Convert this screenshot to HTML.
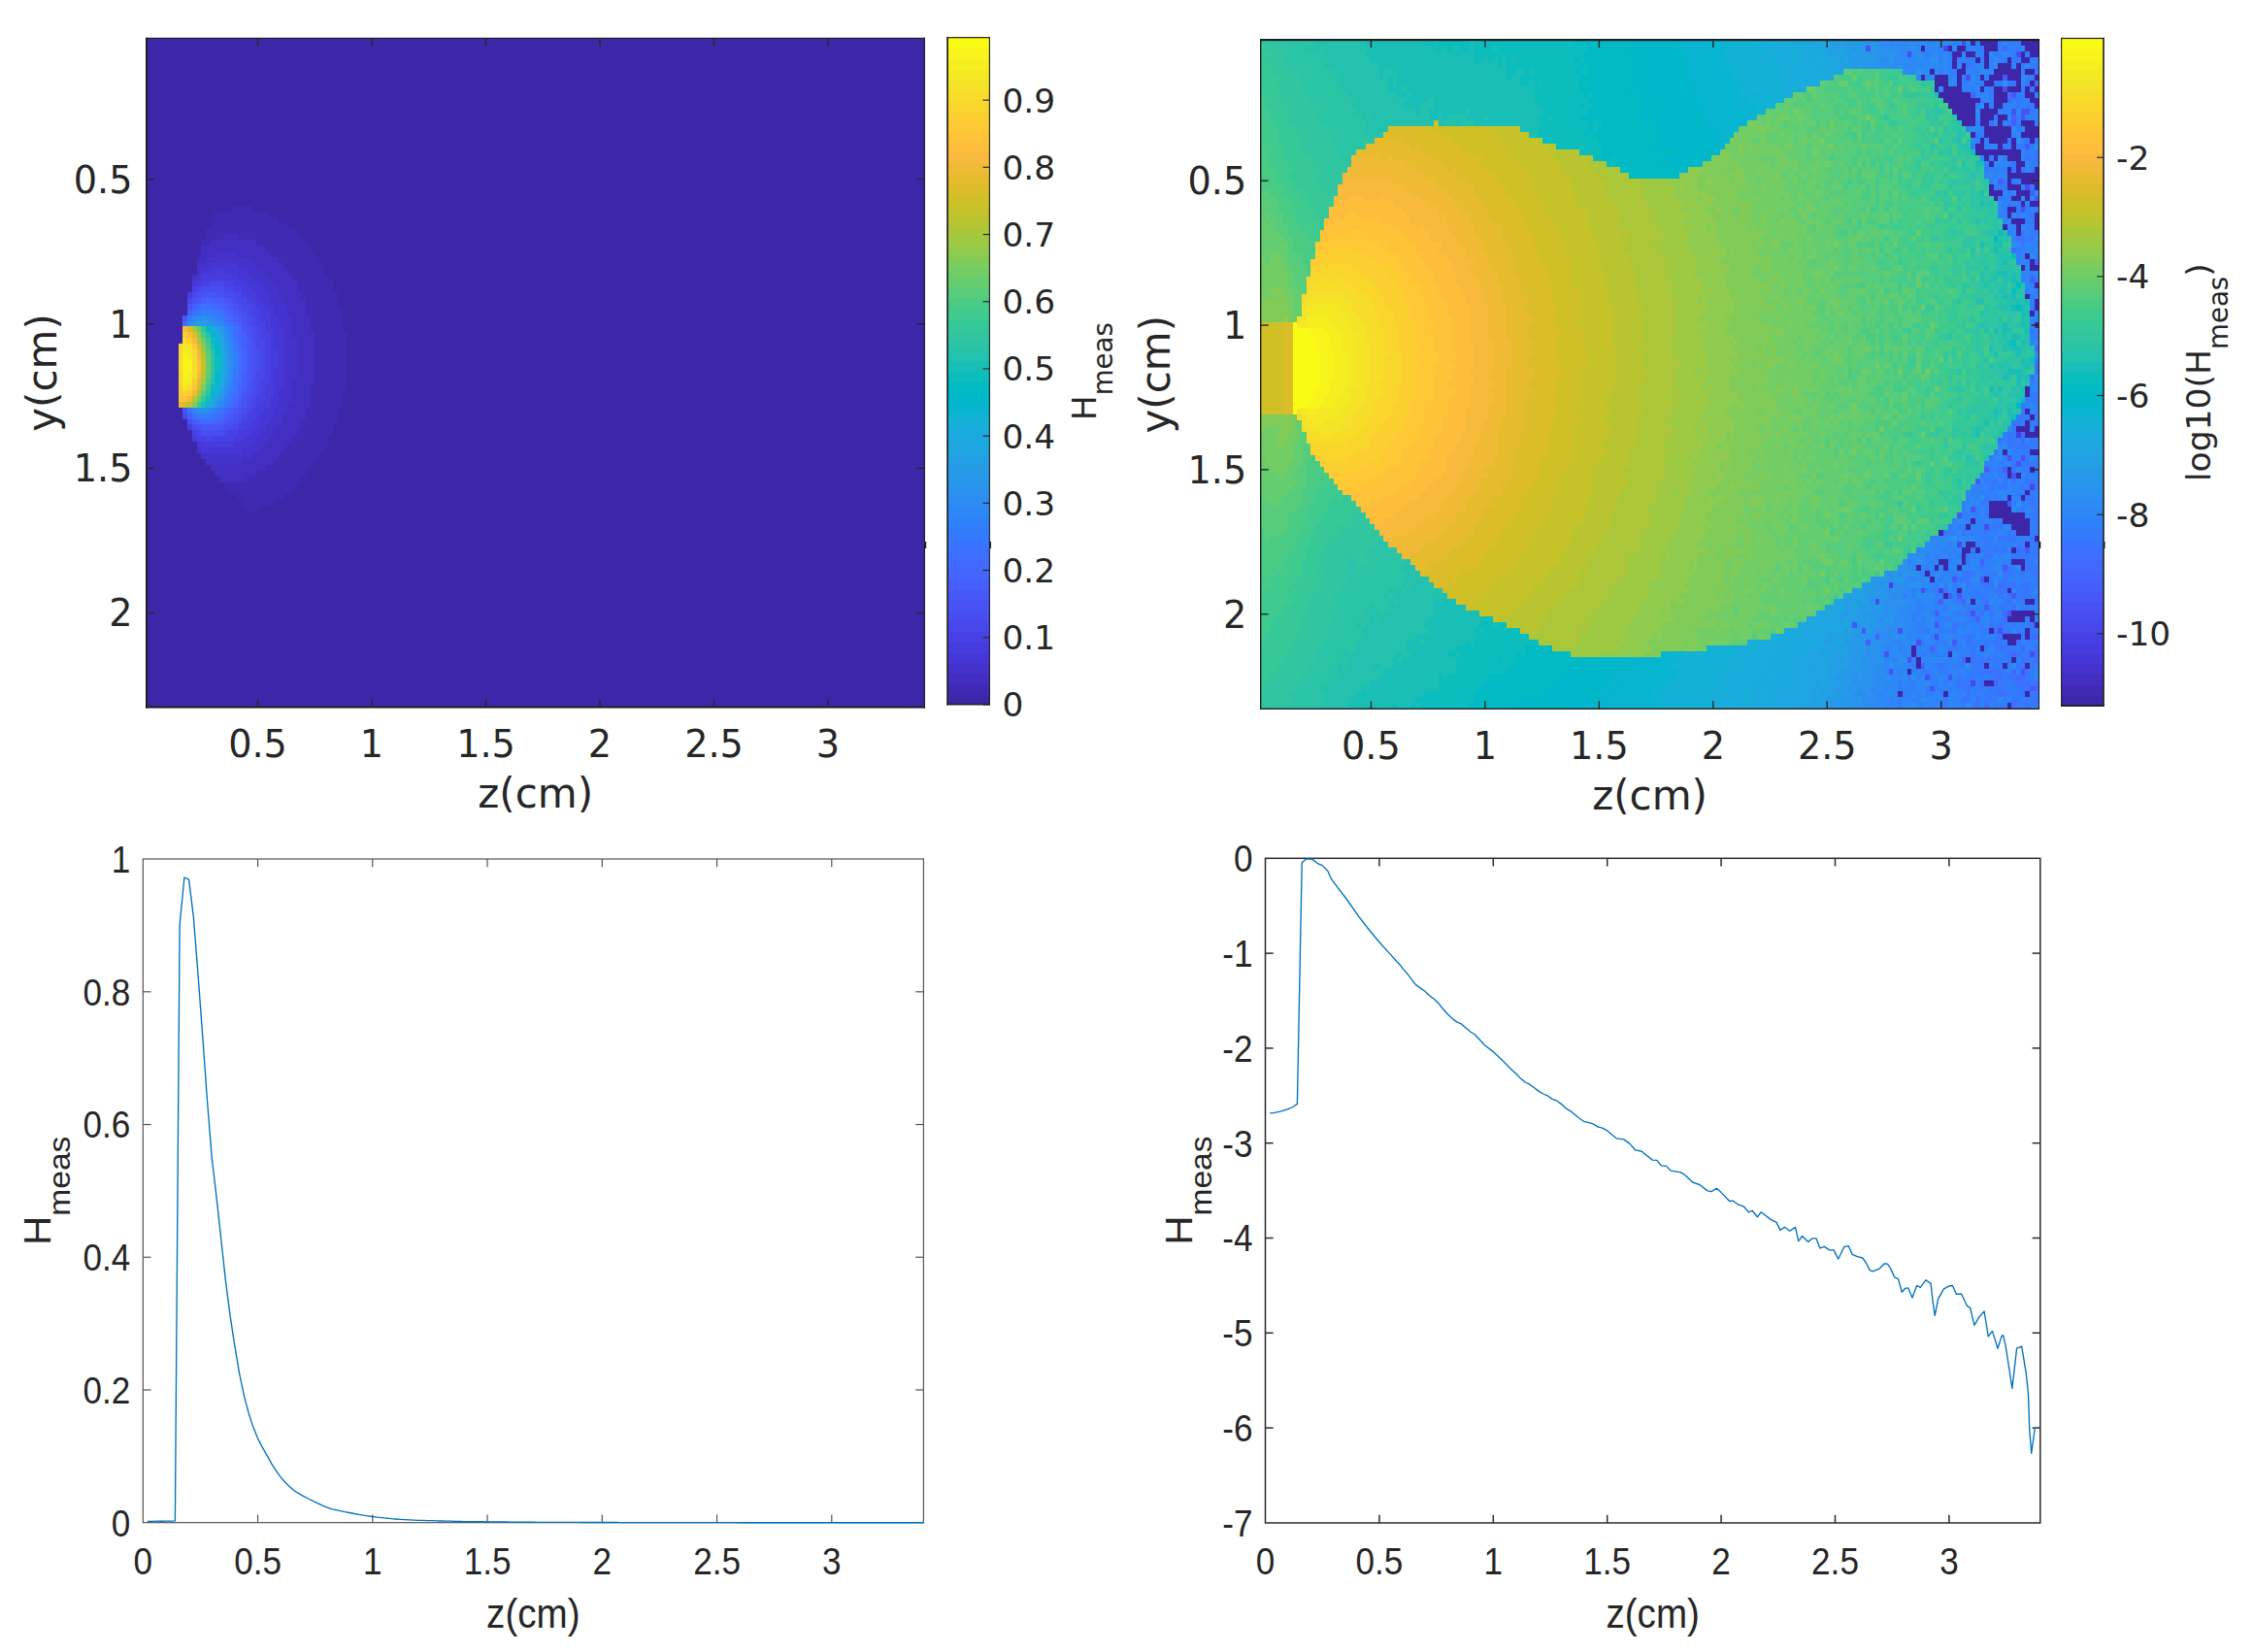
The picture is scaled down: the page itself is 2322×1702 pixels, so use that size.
<!DOCTYPE html><html><head><meta charset="utf-8"><title>H_meas</title><style>html,body{margin:0;padding:0;background:#fff}svg{display:block}</style></head><body>
<svg width="2322" height="1702" viewBox="0 0 2322 1702" fill="#262626">
<rect width="2322" height="1702" fill="#fff"/>
<svg x="151.00" y="39.40" width="801.40" height="689.20" viewBox="0 0 171 116" preserveAspectRatio="none" shape-rendering="crispEdges"><rect width="171" height="116" fill="#3e26a8"/><path fill="#402ab4" d="M19 29h4v1h-4zM15 30h12v1h-12zM14 31h15v1h-15zM14 32h17v1h-17zM13 33h20v1h-20zM13 34h4v1h-4zM20 34h14v1h-14zM12 35h2v1h-2zM24 35h11v1h-11zM26 36h10v1h-10zM27 37h10v1h-10zM29 38h9v1h-9zM30 39h9v1h-9zM31 40h8v1h-8zM32 41h8v1h-8zM33 42h8v1h-8zM33 43h8v1h-8zM34 44h8v1h-8zM35 45h7v1h-7zM35 46h7v1h-7zM35 47h8v1h-8zM36 48h7v1h-7zM36 49h7v1h-7zM36 50h7v1h-7zM37 51h7v1h-7zM37 52h7v1h-7zM37 53h7v1h-7zM37 54h7v1h-7zM37 55h7v1h-7zM37 56h7v1h-7zM37 57h7v1h-7zM37 58h7v1h-7zM37 59h7v1h-7zM36 60h8v1h-8zM36 61h7v1h-7zM36 62h7v1h-7zM36 63h7v1h-7zM35 64h7v1h-7zM35 65h7v1h-7zM34 66h8v1h-8zM34 67h7v1h-7zM33 68h8v1h-8zM32 69h8v1h-8zM31 70h9v1h-9zM30 71h9v1h-9zM29 72h9v1h-9zM28 73h9v1h-9zM26 74h10v1h-10zM24 75h11v1h-11zM22 76h12v1h-12zM17 77h16v1h-16zM18 78h14v1h-14zM20 79h10v1h-10zM21 80h7v1h-7zM22 81h3v1h-3z"/><path fill="#422ec0" d="M17 34h3v1h-3zM14 35h10v1h-10zM12 36h14v1h-14zM12 37h3v1h-3zM20 37h7v1h-7zM11 38h2v1h-2zM23 38h6v1h-6zM24 39h6v1h-6zM26 40h5v1h-5zM27 41h5v1h-5zM28 42h5v1h-5zM29 43h4v1h-4zM29 44h5v1h-5zM30 45h5v1h-5zM31 46h4v1h-4zM31 47h4v1h-4zM32 48h4v1h-4zM32 49h4v1h-4zM32 50h4v1h-4zM32 51h5v1h-5zM33 52h4v1h-4zM33 53h4v1h-4zM33 54h4v1h-4zM33 55h4v1h-4zM33 56h4v1h-4zM33 57h4v1h-4zM33 58h4v1h-4zM32 59h5v1h-5zM32 60h4v1h-4zM32 61h4v1h-4zM32 62h4v1h-4zM31 63h5v1h-5zM31 64h4v1h-4zM30 65h5v1h-5zM30 66h4v1h-4zM29 67h5v1h-5zM28 68h5v1h-5zM27 69h5v1h-5zM26 70h5v1h-5zM25 71h5v1h-5zM23 72h6v1h-6zM21 73h7v1h-7zM14 74h12v1h-12zM15 75h9v1h-9zM16 76h6v1h-6z"/><path fill="#4332cb" d="M15 37h5v1h-5zM13 38h10v1h-10zM11 39h3v1h-3zM20 39h4v1h-4zM11 40h1v1h-1zM22 40h4v1h-4zM10 41h1v1h-1zM23 41h4v1h-4zM25 42h3v1h-3zM26 43h3v1h-3zM27 44h2v1h-2zM27 45h3v1h-3zM28 46h3v1h-3zM28 47h3v1h-3zM29 48h3v1h-3zM29 49h3v1h-3zM30 50h2v1h-2zM30 51h2v1h-2zM30 52h3v1h-3zM30 53h3v1h-3zM30 54h3v1h-3zM30 55h3v1h-3zM30 56h3v1h-3zM30 57h3v1h-3zM30 58h3v1h-3zM30 59h2v1h-2zM30 60h2v1h-2zM29 61h3v1h-3zM29 62h3v1h-3zM29 63h2v1h-2zM28 64h3v1h-3zM28 65h2v1h-2zM27 66h3v1h-3zM26 67h3v1h-3zM25 68h3v1h-3zM24 69h3v1h-3zM23 70h3v1h-3zM11 71h1v1h-1zM21 71h4v1h-4zM12 72h11v1h-11zM13 73h8v1h-8z"/><path fill="#4537d5" d="M14 39h6v1h-6zM12 40h3v1h-3zM17 40h5v1h-5zM11 41h1v1h-1zM20 41h3v1h-3zM10 42h1v1h-1zM22 42h3v1h-3zM23 43h3v1h-3zM24 44h3v1h-3zM25 45h2v1h-2zM26 46h2v1h-2zM27 47h1v1h-1zM27 48h2v1h-2zM27 49h2v1h-2zM28 50h2v1h-2zM28 51h2v1h-2zM28 52h2v1h-2zM28 53h2v1h-2zM29 54h1v1h-1zM29 55h1v1h-1zM29 56h1v1h-1zM28 57h2v1h-2zM28 58h2v1h-2zM28 59h2v1h-2zM28 60h2v1h-2zM28 61h1v1h-1zM27 62h2v1h-2zM27 63h2v1h-2zM26 64h2v1h-2zM25 65h3v1h-3zM25 66h2v1h-2zM24 67h2v1h-2zM23 68h2v1h-2zM21 69h3v1h-3zM11 70h1v1h-1zM19 70h4v1h-4zM12 71h9v1h-9z"/><path fill="#463cde" d="M15 40h2v1h-2zM12 41h8v1h-8zM11 42h1v1h-1zM19 42h3v1h-3zM21 43h2v1h-2zM9 44h1v1h-1zM22 44h2v1h-2zM23 45h2v1h-2zM24 46h2v1h-2zM25 47h2v1h-2zM25 48h2v1h-2zM26 49h1v1h-1zM26 50h2v1h-2zM27 51h1v1h-1zM27 52h1v1h-1zM27 53h1v1h-1zM27 54h2v1h-2zM27 55h2v1h-2zM27 56h2v1h-2zM27 57h1v1h-1zM27 58h1v1h-1zM27 59h1v1h-1zM26 60h2v1h-2zM26 61h2v1h-2zM26 62h1v1h-1zM25 63h2v1h-2zM24 64h2v1h-2zM24 65h1v1h-1zM23 66h2v1h-2zM22 67h2v1h-2zM20 68h3v1h-3zM10 69h1v1h-1zM19 69h2v1h-2zM12 70h7v1h-7z"/><path fill="#4741e5" d="M12 42h2v1h-2zM17 42h2v1h-2zM10 43h1v1h-1zM19 43h2v1h-2zM21 44h1v1h-1zM22 45h1v1h-1zM23 46h1v1h-1zM23 47h2v1h-2zM24 48h1v1h-1zM24 49h2v1h-2zM25 50h1v1h-1zM25 51h2v1h-2zM26 52h1v1h-1zM26 53h1v1h-1zM26 54h1v1h-1zM26 55h1v1h-1zM26 56h1v1h-1zM26 57h1v1h-1zM26 58h1v1h-1zM25 59h2v1h-2zM25 60h1v1h-1zM25 61h1v1h-1zM24 62h2v1h-2zM24 63h1v1h-1zM23 64h1v1h-1zM22 65h2v1h-2zM21 66h2v1h-2zM9 67h1v1h-1zM20 67h2v1h-2zM10 68h1v1h-1zM18 68h2v1h-2zM11 69h2v1h-2zM14 69h5v1h-5z"/><path fill="#4747eb" d="M14 42h3v1h-3zM11 43h1v1h-1zM17 43h2v1h-2zM10 44h1v1h-1zM19 44h2v1h-2zM9 45h1v1h-1zM20 45h2v1h-2zM21 46h2v1h-2zM22 47h1v1h-1zM23 48h1v1h-1zM23 49h1v1h-1zM24 50h1v1h-1zM24 51h1v1h-1zM24 52h2v1h-2zM24 53h2v1h-2zM25 54h1v1h-1zM25 55h1v1h-1zM25 56h1v1h-1zM25 57h1v1h-1zM24 58h2v1h-2zM24 59h1v1h-1zM24 60h1v1h-1zM24 61h1v1h-1zM23 62h1v1h-1zM23 63h1v1h-1zM22 64h1v1h-1zM8 65h1v1h-1zM21 65h1v1h-1zM20 66h1v1h-1zM19 67h1v1h-1zM11 68h1v1h-1zM17 68h1v1h-1zM13 69h1v1h-1z"/><path fill="#484df0" d="M12 43h5v1h-5zM11 44h1v1h-1zM17 44h2v1h-2zM19 45h1v1h-1zM20 46h1v1h-1zM21 47h1v1h-1zM22 48h1v1h-1zM22 49h1v1h-1zM23 50h1v1h-1zM23 51h1v1h-1zM23 52h1v1h-1zM24 54h1v1h-1zM24 55h1v1h-1zM24 56h1v1h-1zM24 57h1v1h-1zM23 59h1v1h-1zM23 60h1v1h-1zM23 61h1v1h-1zM22 62h1v1h-1zM22 63h1v1h-1zM21 64h1v1h-1zM20 65h1v1h-1zM9 66h1v1h-1zM19 66h1v1h-1zM10 67h1v1h-1zM17 67h2v1h-2zM12 68h5v1h-5z"/><path fill="#4852f4" d="M12 44h1v1h-1zM15 44h2v1h-2zM10 45h1v1h-1zM18 45h1v1h-1zM9 46h1v1h-1zM19 46h1v1h-1zM20 47h1v1h-1zM21 48h1v1h-1zM21 49h1v1h-1zM22 50h1v1h-1zM22 51h1v1h-1zM23 53h1v1h-1zM23 54h1v1h-1zM23 55h1v1h-1zM23 56h1v1h-1zM23 57h1v1h-1zM23 58h1v1h-1zM22 60h1v1h-1zM22 61h1v1h-1zM21 62h1v1h-1zM21 63h1v1h-1zM20 64h1v1h-1zM19 65h1v1h-1zM18 66h1v1h-1zM11 67h1v1h-1zM16 67h1v1h-1z"/><path fill="#4758f8" d="M13 44h2v1h-2zM11 45h1v1h-1zM17 45h1v1h-1zM18 46h1v1h-1zM19 47h1v1h-1zM8 48h1v1h-1zM20 48h1v1h-1zM21 50h1v1h-1zM22 52h1v1h-1zM22 53h1v1h-1zM22 54h1v1h-1zM22 55h1v1h-1zM22 56h1v1h-1zM22 57h1v1h-1zM22 58h1v1h-1zM22 59h1v1h-1zM21 61h1v1h-1zM20 63h1v1h-1zM8 64h1v1h-1zM19 64h1v1h-1zM18 65h1v1h-1zM17 66h1v1h-1zM12 67h4v1h-4z"/><path fill="#465efb" d="M12 45h1v1h-1zM14 45h3v1h-3zM10 46h1v1h-1zM17 46h1v1h-1zM9 47h1v1h-1zM18 47h1v1h-1zM19 48h1v1h-1zM20 49h1v1h-1zM21 51h1v1h-1zM21 52h1v1h-1zM21 53h1v1h-1zM21 58h1v1h-1zM21 59h1v1h-1zM21 60h1v1h-1zM20 62h1v1h-1zM18 64h1v1h-1zM9 65h1v1h-1zM17 65h1v1h-1zM10 66h1v1h-1zM16 66h1v1h-1z"/><path fill="#4563fd" d="M13 45h1v1h-1zM16 46h1v1h-1zM19 49h1v1h-1zM20 50h1v1h-1zM20 51h1v1h-1zM21 54h1v1h-1zM21 55h1v1h-1zM21 56h1v1h-1zM21 57h1v1h-1zM20 60h1v1h-1zM20 61h1v1h-1zM19 63h1v1h-1zM11 66h1v1h-1zM14 66h2v1h-2z"/><path fill="#4269fe" d="M11 46h1v1h-1zM14 46h2v1h-2zM17 47h1v1h-1zM18 48h1v1h-1zM8 49h1v1h-1zM20 52h1v1h-1zM20 53h1v1h-1zM20 59h1v1h-1zM19 62h1v1h-1zM17 64h1v1h-1zM16 65h1v1h-1zM12 66h2v1h-2z"/><path fill="#3e6fff" d="M12 46h2v1h-2zM10 47h1v1h-1zM16 47h1v1h-1zM17 48h1v1h-1zM18 49h1v1h-1zM19 50h1v1h-1zM19 51h1v1h-1zM20 54h1v1h-1zM20 55h1v1h-1zM20 56h1v1h-1zM20 57h1v1h-1zM20 58h1v1h-1zM19 61h1v1h-1zM18 63h1v1h-1zM10 65h1v1h-1zM15 65h1v1h-1z"/><path fill="#3875fe" d="M15 47h1v1h-1zM9 48h1v1h-1zM19 52h1v1h-1zM19 59h1v1h-1zM19 60h1v1h-1zM18 62h1v1h-1zM9 64h1v1h-1zM16 64h1v1h-1zM14 65h1v1h-1z"/><path fill="#327cfc" d="M11 47h1v1h-1zM13 47h2v1h-2zM16 48h1v1h-1zM17 49h1v1h-1zM18 50h1v1h-1zM19 53h1v1h-1zM19 54h1v1h-1zM19 57h1v1h-1zM19 58h1v1h-1zM18 61h1v1h-1zM17 63h1v1h-1zM15 64h1v1h-1zM11 65h3v1h-3z"/><path fill="#2f81fa" d="M12 47h1v1h-1zM15 48h1v1h-1zM18 51h1v1h-1zM19 55h1v1h-1zM19 56h1v1h-1zM18 60h1v1h-1zM17 62h1v1h-1zM14 64h1v1h-1z"/><path fill="#2e87f7" d="M10 48h1v1h-1zM14 48h1v1h-1zM16 49h1v1h-1zM17 50h1v1h-1zM18 52h1v1h-1zM18 53h1v1h-1zM18 59h1v1h-1zM16 63h1v1h-1zM10 64h1v1h-1z"/><path fill="#2d8cf3" d="M11 48h1v1h-1zM13 48h1v1h-1zM9 49h1v1h-1zM15 49h1v1h-1zM17 51h1v1h-1zM18 54h1v1h-1zM18 55h1v1h-1zM18 57h1v1h-1zM18 58h1v1h-1zM17 61h1v1h-1zM13 64h1v1h-1z"/><path fill="#2b91ef" d="M12 48h1v1h-1zM14 49h1v1h-1zM18 56h1v1h-1zM17 60h1v1h-1zM16 62h1v1h-1zM11 64h2v1h-2z"/><path fill="#2797eb" d="M16 50h1v1h-1zM17 52h1v1h-1zM17 59h1v1h-1zM15 63h1v1h-1z"/><path fill="#259be8" d="M10 49h1v1h-1zM13 49h1v1h-1zM17 53h1v1h-1zM17 54h1v1h-1zM17 58h1v1h-1zM16 61h1v1h-1z"/><path fill="#23a0e5" d="M11 49h2v1h-2zM16 51h1v1h-1zM17 55h1v1h-1zM17 56h1v1h-1zM17 57h1v1h-1zM15 62h1v1h-1z"/><path fill="#20a5e3" d="M15 50h1v1h-1zM16 52h1v1h-1zM16 60h1v1h-1zM14 63h1v1h-1z"/><path fill="#1ca9df" d="M16 53h1v1h-1zM16 59h1v1h-1z"/><path fill="#18addb" d="M14 50h1v1h-1zM15 51h1v1h-1zM16 54h1v1h-1zM16 58h1v1h-1zM15 61h1v1h-1zM14 62h1v1h-1z"/><path fill="#12b1d6" d="M16 55h1v1h-1zM16 56h1v1h-1zM16 57h1v1h-1zM15 60h1v1h-1zM13 63h1v1h-1z"/><path fill="#08b5d0" d="M15 52h1v1h-1z"/><path fill="#01b8ca" d="M14 51h1v1h-1zM15 53h1v1h-1zM15 59h1v1h-1zM14 61h1v1h-1z"/><path fill="#02bac3" d="M13 50h1v1h-1zM15 54h1v1h-1zM15 58h1v1h-1z"/><path fill="#0bbdbd" d="M14 52h1v1h-1zM15 55h1v1h-1zM15 56h1v1h-1zM15 57h1v1h-1zM14 60h1v1h-1zM13 62h1v1h-1z"/><path fill="#19bfb6" d="M14 53h1v1h-1zM12 63h1v1h-1z"/><path fill="#24c1ae" d="M13 51h1v1h-1zM14 59h1v1h-1z"/><path fill="#2cc4a7" d="M14 54h1v1h-1zM14 58h1v1h-1zM13 61h1v1h-1z"/><path fill="#31c69f" d="M12 50h1v1h-1zM14 55h1v1h-1zM14 56h1v1h-1zM14 57h1v1h-1z"/><path fill="#37c897" d="M13 52h1v1h-1zM13 60h1v1h-1zM12 62h1v1h-1zM11 63h1v1h-1z"/><path fill="#4acb84" d="M12 51h1v1h-1zM13 53h1v1h-1zM13 59h1v1h-1z"/><path fill="#57cc7a" d="M13 54h1v1h-1zM12 61h1v1h-1z"/><path fill="#64cd6f" d="M11 50h1v1h-1zM13 55h1v1h-1zM13 56h1v1h-1zM13 57h1v1h-1zM13 58h1v1h-1z"/><path fill="#72cd64" d="M12 52h1v1h-1zM11 62h1v1h-1z"/><path fill="#81cc59" d="M12 60h1v1h-1zM10 63h1v1h-1z"/><path fill="#8fcb4e" d="M11 51h1v1h-1zM12 53h1v1h-1z"/><path fill="#9dc943" d="M12 59h1v1h-1z"/><path fill="#abc739" d="M10 50h1v1h-1zM12 54h1v1h-1zM11 61h1v1h-1z"/><path fill="#b9c431" d="M11 52h1v1h-1zM12 55h1v1h-1zM12 58h1v1h-1zM10 62h1v1h-1zM9 63h1v1h-1z"/><path fill="#c5c22a" d="M12 56h1v1h-1zM12 57h1v1h-1z"/><path fill="#d1bf27" d="M11 60h1v1h-1z"/><path fill="#dcbd29" d="M9 50h1v1h-1zM10 51h1v1h-1zM11 53h1v1h-1zM8 63h1v1h-1z"/><path fill="#e6bb2d" d="M11 59h1v1h-1zM7 63h1v1h-1z"/><path fill="#f0ba36" d="M11 54h1v1h-1zM10 61h1v1h-1zM9 62h1v1h-1z"/><path fill="#f8ba3d" d="M8 50h1v1h-1zM10 52h1v1h-1zM11 55h1v1h-1zM11 58h1v1h-1z"/><path fill="#febe3c" d="M9 51h1v1h-1zM11 56h1v1h-1zM11 57h1v1h-1z"/><path fill="#fec338" d="M10 60h1v1h-1zM7 62h2v1h-2z"/><path fill="#fec934" d="M10 53h1v1h-1zM7 61h1v1h-1zM9 61h1v1h-1z"/><path fill="#fccf30" d="M8 51h1v1h-1zM9 52h1v1h-1zM10 59h1v1h-1zM7 60h1v1h-1z"/><path fill="#fad62d" d="M7 53h1v1h-1zM7 54h1v1h-1zM10 54h1v1h-1zM7 55h1v1h-1zM7 58h1v1h-1zM7 59h1v1h-1zM8 61h1v1h-1z"/><path fill="#f7dc2a" d="M8 52h1v1h-1zM10 55h1v1h-1zM7 56h1v1h-1zM10 56h1v1h-1zM7 57h1v1h-1zM10 57h1v1h-1zM10 58h1v1h-1zM9 60h1v1h-1z"/><path fill="#f5e327" d="M9 53h1v1h-1z"/><path fill="#f5e924" d="M8 53h1v1h-1zM9 54h1v1h-1zM9 59h1v1h-1zM8 60h1v1h-1z"/><path fill="#f6ef20" d="M8 54h1v1h-1zM9 55h1v1h-1zM9 58h1v1h-1zM8 59h1v1h-1z"/><path fill="#f7f51b" d="M8 55h1v1h-1zM8 56h2v1h-2zM8 57h2v1h-2zM8 58h1v1h-1z"/></svg>
<rect x="150.00" y="38.80" width="2.00" height="690.80" fill="#1f1f1f"/><rect x="951.80" y="38.80" width="1.20" height="690.80" fill="#1f1f1f"/><rect x="150.00" y="38.80" width="803.00" height="1.20" fill="#1f1f1f"/><rect x="150.00" y="727.60" width="803.00" height="2.00" fill="#1f1f1f"/>
<line x1="265.50" y1="728.60" x2="265.50" y2="720.60" stroke="#262626" stroke-width="1.40"/>
<line x1="265.50" y1="39.40" x2="265.50" y2="47.40" stroke="#262626" stroke-width="1.40"/>
<text x="265.50" y="780.10" font-size="38.20" text-anchor="middle" font-family="'DejaVu Sans', 'Liberation Sans', sans-serif">0.5</text>
<line x1="383.00" y1="728.60" x2="383.00" y2="720.60" stroke="#262626" stroke-width="1.40"/>
<line x1="383.00" y1="39.40" x2="383.00" y2="47.40" stroke="#262626" stroke-width="1.40"/>
<text x="383.00" y="780.10" font-size="38.20" text-anchor="middle" font-family="'DejaVu Sans', 'Liberation Sans', sans-serif">1</text>
<line x1="500.50" y1="728.60" x2="500.50" y2="720.60" stroke="#262626" stroke-width="1.40"/>
<line x1="500.50" y1="39.40" x2="500.50" y2="47.40" stroke="#262626" stroke-width="1.40"/>
<text x="500.50" y="780.10" font-size="38.20" text-anchor="middle" font-family="'DejaVu Sans', 'Liberation Sans', sans-serif">1.5</text>
<line x1="618.00" y1="728.60" x2="618.00" y2="720.60" stroke="#262626" stroke-width="1.40"/>
<line x1="618.00" y1="39.40" x2="618.00" y2="47.40" stroke="#262626" stroke-width="1.40"/>
<text x="618.00" y="780.10" font-size="38.20" text-anchor="middle" font-family="'DejaVu Sans', 'Liberation Sans', sans-serif">2</text>
<line x1="735.50" y1="728.60" x2="735.50" y2="720.60" stroke="#262626" stroke-width="1.40"/>
<line x1="735.50" y1="39.40" x2="735.50" y2="47.40" stroke="#262626" stroke-width="1.40"/>
<text x="735.50" y="780.10" font-size="38.20" text-anchor="middle" font-family="'DejaVu Sans', 'Liberation Sans', sans-serif">2.5</text>
<line x1="853.00" y1="728.60" x2="853.00" y2="720.60" stroke="#262626" stroke-width="1.40"/>
<line x1="853.00" y1="39.40" x2="853.00" y2="47.40" stroke="#262626" stroke-width="1.40"/>
<text x="853.00" y="780.10" font-size="38.20" text-anchor="middle" font-family="'DejaVu Sans', 'Liberation Sans', sans-serif">3</text>
<line x1="151.00" y1="184.80" x2="159.00" y2="184.80" stroke="#262626" stroke-width="1.40"/>
<line x1="952.40" y1="184.80" x2="944.40" y2="184.80" stroke="#262626" stroke-width="1.40"/>
<text x="136.50" y="198.70" font-size="38.20" text-anchor="end" font-family="'DejaVu Sans', 'Liberation Sans', sans-serif">0.5</text>
<line x1="151.00" y1="333.67" x2="159.00" y2="333.67" stroke="#262626" stroke-width="1.40"/>
<line x1="952.40" y1="333.67" x2="944.40" y2="333.67" stroke="#262626" stroke-width="1.40"/>
<text x="136.50" y="347.57" font-size="38.20" text-anchor="end" font-family="'DejaVu Sans', 'Liberation Sans', sans-serif">1</text>
<line x1="151.00" y1="482.54" x2="159.00" y2="482.54" stroke="#262626" stroke-width="1.40"/>
<line x1="952.40" y1="482.54" x2="944.40" y2="482.54" stroke="#262626" stroke-width="1.40"/>
<text x="136.50" y="496.44" font-size="38.20" text-anchor="end" font-family="'DejaVu Sans', 'Liberation Sans', sans-serif">1.5</text>
<line x1="151.00" y1="631.41" x2="159.00" y2="631.41" stroke="#262626" stroke-width="1.40"/>
<line x1="952.40" y1="631.41" x2="944.40" y2="631.41" stroke="#262626" stroke-width="1.40"/>
<text x="136.50" y="645.31" font-size="38.20" text-anchor="end" font-family="'DejaVu Sans', 'Liberation Sans', sans-serif">2</text>
<text x="551.70" y="832.00" font-size="42.00" text-anchor="middle" font-family="'DejaVu Sans', 'Liberation Sans', sans-serif">z(cm)</text>
<text x="0.00" y="0.00" font-size="42.00" text-anchor="middle" font-family="'DejaVu Sans', 'Liberation Sans', sans-serif" transform="translate(57.80 384.00) rotate(-90)">y(cm)</text>
<g shape-rendering="crispEdges"><rect x="976.10" y="714.97" width="43.30" height="11.33" fill="#3e26a8"/><rect x="976.10" y="704.23" width="43.30" height="11.33" fill="#402ab4"/><rect x="976.10" y="693.50" width="43.30" height="11.33" fill="#422ec0"/><rect x="976.10" y="682.76" width="43.30" height="11.33" fill="#4332cb"/><rect x="976.10" y="672.03" width="43.30" height="11.33" fill="#4537d5"/><rect x="976.10" y="661.29" width="43.30" height="11.33" fill="#463cde"/><rect x="976.10" y="650.56" width="43.30" height="11.33" fill="#4741e5"/><rect x="976.10" y="639.83" width="43.30" height="11.33" fill="#4747eb"/><rect x="976.10" y="629.09" width="43.30" height="11.33" fill="#484df0"/><rect x="976.10" y="618.36" width="43.30" height="11.33" fill="#4852f4"/><rect x="976.10" y="607.62" width="43.30" height="11.33" fill="#4758f8"/><rect x="976.10" y="596.89" width="43.30" height="11.33" fill="#465efb"/><rect x="976.10" y="586.15" width="43.30" height="11.33" fill="#4563fd"/><rect x="976.10" y="575.42" width="43.30" height="11.33" fill="#4269fe"/><rect x="976.10" y="564.68" width="43.30" height="11.33" fill="#3e6fff"/><rect x="976.10" y="553.95" width="43.30" height="11.33" fill="#3875fe"/><rect x="976.10" y="543.22" width="43.30" height="11.33" fill="#327cfc"/><rect x="976.10" y="532.48" width="43.30" height="11.33" fill="#2f81fa"/><rect x="976.10" y="521.75" width="43.30" height="11.33" fill="#2e87f7"/><rect x="976.10" y="511.01" width="43.30" height="11.33" fill="#2d8cf3"/><rect x="976.10" y="500.28" width="43.30" height="11.33" fill="#2b91ef"/><rect x="976.10" y="489.54" width="43.30" height="11.33" fill="#2797eb"/><rect x="976.10" y="478.81" width="43.30" height="11.33" fill="#259be8"/><rect x="976.10" y="468.08" width="43.30" height="11.33" fill="#23a0e5"/><rect x="976.10" y="457.34" width="43.30" height="11.33" fill="#20a5e3"/><rect x="976.10" y="446.61" width="43.30" height="11.33" fill="#1ca9df"/><rect x="976.10" y="435.87" width="43.30" height="11.33" fill="#18addb"/><rect x="976.10" y="425.14" width="43.30" height="11.33" fill="#12b1d6"/><rect x="976.10" y="414.40" width="43.30" height="11.33" fill="#08b5d0"/><rect x="976.10" y="403.67" width="43.30" height="11.33" fill="#01b8ca"/><rect x="976.10" y="392.93" width="43.30" height="11.33" fill="#02bac3"/><rect x="976.10" y="382.20" width="43.30" height="11.33" fill="#0bbdbd"/><rect x="976.10" y="371.47" width="43.30" height="11.33" fill="#19bfb6"/><rect x="976.10" y="360.73" width="43.30" height="11.33" fill="#24c1ae"/><rect x="976.10" y="350.00" width="43.30" height="11.33" fill="#2cc4a7"/><rect x="976.10" y="339.26" width="43.30" height="11.33" fill="#31c69f"/><rect x="976.10" y="328.53" width="43.30" height="11.33" fill="#37c897"/><rect x="976.10" y="317.79" width="43.30" height="11.33" fill="#3fca8e"/><rect x="976.10" y="307.06" width="43.30" height="11.33" fill="#4acb84"/><rect x="976.10" y="296.33" width="43.30" height="11.33" fill="#57cc7a"/><rect x="976.10" y="285.59" width="43.30" height="11.33" fill="#64cd6f"/><rect x="976.10" y="274.86" width="43.30" height="11.33" fill="#72cd64"/><rect x="976.10" y="264.12" width="43.30" height="11.33" fill="#81cc59"/><rect x="976.10" y="253.39" width="43.30" height="11.33" fill="#8fcb4e"/><rect x="976.10" y="242.65" width="43.30" height="11.33" fill="#9dc943"/><rect x="976.10" y="231.92" width="43.30" height="11.33" fill="#abc739"/><rect x="976.10" y="221.18" width="43.30" height="11.33" fill="#b9c431"/><rect x="976.10" y="210.45" width="43.30" height="11.33" fill="#c5c22a"/><rect x="976.10" y="199.72" width="43.30" height="11.33" fill="#d1bf27"/><rect x="976.10" y="188.98" width="43.30" height="11.33" fill="#dcbd29"/><rect x="976.10" y="178.25" width="43.30" height="11.33" fill="#e6bb2d"/><rect x="976.10" y="167.51" width="43.30" height="11.33" fill="#f0ba36"/><rect x="976.10" y="156.78" width="43.30" height="11.33" fill="#f8ba3d"/><rect x="976.10" y="146.04" width="43.30" height="11.33" fill="#febe3c"/><rect x="976.10" y="135.31" width="43.30" height="11.33" fill="#fec338"/><rect x="976.10" y="124.58" width="43.30" height="11.33" fill="#fec934"/><rect x="976.10" y="113.84" width="43.30" height="11.33" fill="#fccf30"/><rect x="976.10" y="103.11" width="43.30" height="11.33" fill="#fad62d"/><rect x="976.10" y="92.37" width="43.30" height="11.33" fill="#f7dc2a"/><rect x="976.10" y="81.64" width="43.30" height="11.33" fill="#f5e327"/><rect x="976.10" y="70.90" width="43.30" height="11.33" fill="#f5e924"/><rect x="976.10" y="60.17" width="43.30" height="11.33" fill="#f6ef20"/><rect x="976.10" y="49.43" width="43.30" height="11.33" fill="#f7f51b"/><rect x="976.10" y="38.70" width="43.30" height="11.33" fill="#f9fb15"/></g>
<rect x="975.25" y="38.10" width="1.70" height="688.40" fill="#1f1f1f"/><rect x="1018.85" y="38.10" width="1.10" height="688.40" fill="#1f1f1f"/><rect x="975.25" y="38.10" width="44.70" height="1.20" fill="#1f1f1f"/><rect x="975.25" y="724.90" width="44.70" height="1.60" fill="#1f1f1f"/>
<rect x="952.90" y="558" width="1.3" height="7" fill="#1f1f1f"/>
<rect x="1019.80" y="558" width="1.2" height="7" fill="#1f1f1f"/>
<line x1="1019.40" y1="725.95" x2="1012.60" y2="725.95" stroke="#262626" stroke-width="1.20"/>
<text x="1032.40" y="738.45" font-size="34.40" text-anchor="start" font-family="'DejaVu Sans', 'Liberation Sans', sans-serif">0</text>
<line x1="1019.40" y1="656.75" x2="1012.60" y2="656.75" stroke="#262626" stroke-width="1.20"/>
<text x="1032.40" y="669.25" font-size="34.40" text-anchor="start" font-family="'DejaVu Sans', 'Liberation Sans', sans-serif">0.1</text>
<line x1="1019.40" y1="587.55" x2="1012.60" y2="587.55" stroke="#262626" stroke-width="1.20"/>
<text x="1032.40" y="600.05" font-size="34.40" text-anchor="start" font-family="'DejaVu Sans', 'Liberation Sans', sans-serif">0.2</text>
<line x1="1019.40" y1="518.35" x2="1012.60" y2="518.35" stroke="#262626" stroke-width="1.20"/>
<text x="1032.40" y="530.85" font-size="34.40" text-anchor="start" font-family="'DejaVu Sans', 'Liberation Sans', sans-serif">0.3</text>
<line x1="1019.40" y1="449.15" x2="1012.60" y2="449.15" stroke="#262626" stroke-width="1.20"/>
<text x="1032.40" y="461.65" font-size="34.40" text-anchor="start" font-family="'DejaVu Sans', 'Liberation Sans', sans-serif">0.4</text>
<line x1="1019.40" y1="379.95" x2="1012.60" y2="379.95" stroke="#262626" stroke-width="1.20"/>
<text x="1032.40" y="392.45" font-size="34.40" text-anchor="start" font-family="'DejaVu Sans', 'Liberation Sans', sans-serif">0.5</text>
<line x1="1019.40" y1="310.75" x2="1012.60" y2="310.75" stroke="#262626" stroke-width="1.20"/>
<text x="1032.40" y="323.25" font-size="34.40" text-anchor="start" font-family="'DejaVu Sans', 'Liberation Sans', sans-serif">0.6</text>
<line x1="1019.40" y1="241.55" x2="1012.60" y2="241.55" stroke="#262626" stroke-width="1.20"/>
<text x="1032.40" y="254.05" font-size="34.40" text-anchor="start" font-family="'DejaVu Sans', 'Liberation Sans', sans-serif">0.7</text>
<line x1="1019.40" y1="172.35" x2="1012.60" y2="172.35" stroke="#262626" stroke-width="1.20"/>
<text x="1032.40" y="184.85" font-size="34.40" text-anchor="start" font-family="'DejaVu Sans', 'Liberation Sans', sans-serif">0.8</text>
<line x1="1019.40" y1="103.15" x2="1012.60" y2="103.15" stroke="#262626" stroke-width="1.20"/>
<text x="1032.40" y="115.65" font-size="34.40" text-anchor="start" font-family="'DejaVu Sans', 'Liberation Sans', sans-serif">0.9</text>
<text transform="translate(1128.7 382.7) rotate(-90)" font-size="34.6" text-anchor="middle" font-family="'DejaVu Sans', 'Liberation Sans', sans-serif">H<tspan font-size="27.6" dy="17.6">meas</tspan></text>
<svg x="1298.70" y="41.10" width="801.80" height="689.20" viewBox="0 0 171 116" preserveAspectRatio="none" shape-rendering="crispEdges"><rect width="171" height="116" fill="#f9fb15"/><path fill="#3e26a8" d="M156 0h1v1h-1zM158 0h4v1h-4zM167 0h4v1h-4zM145 1h1v1h-1zM151 1h1v1h-1zM153 1h2v1h-2zM159 1h3v1h-3zM168 1h3v1h-3zM152 2h2v1h-2zM155 2h2v1h-2zM159 2h1v1h-1zM167 2h1v1h-1zM169 2h2v1h-2zM152 3h1v1h-1zM157 3h1v1h-1zM159 3h1v1h-1zM164 3h1v1h-1zM167 3h2v1h-2zM152 4h1v1h-1zM154 4h1v1h-1zM159 4h1v1h-1zM162 4h3v1h-3zM166 4h1v1h-1zM147 5h1v1h-1zM153 5h2v1h-2zM161 5h6v1h-6zM168 5h2v1h-2zM145 6h1v1h-1zM148 6h3v1h-3zM153 6h1v1h-1zM158 6h1v1h-1zM160 6h3v1h-3zM164 6h3v1h-3zM170 6h1v1h-1zM148 7h3v1h-3zM153 7h1v1h-1zM159 7h2v1h-2zM166 7h1v1h-1zM169 7h1v1h-1zM148 8h1v1h-1zM150 8h4v1h-4zM158 8h1v1h-1zM161 8h2v1h-2zM164 8h3v1h-3zM168 8h1v1h-1zM170 8h1v1h-1zM149 9h7v1h-7zM161 9h3v1h-3zM168 9h2v1h-2zM150 10h8v1h-8zM161 10h3v1h-3zM169 10h2v1h-2zM151 11h6v1h-6zM159 11h1v1h-1zM161 11h2v1h-2zM170 11h1v1h-1zM152 12h5v1h-5zM158 12h4v1h-4zM153 13h4v1h-4zM158 13h3v1h-3zM162 13h2v1h-2zM154 14h3v1h-3zM158 14h2v1h-2zM162 14h1v1h-1zM167 14h3v1h-3zM159 15h6v1h-6zM168 15h3v1h-3zM156 16h1v1h-1zM159 16h6v1h-6zM167 16h4v1h-4zM158 17h1v1h-1zM160 17h4v1h-4zM165 17h1v1h-1zM169 17h1v1h-1zM157 18h2v1h-2zM162 18h1v1h-1zM165 18h1v1h-1zM157 19h10v1h-10zM159 20h1v1h-1zM161 20h1v1h-1zM164 20h3v1h-3zM160 21h1v1h-1zM166 21h2v1h-2zM164 22h1v1h-1zM166 22h1v1h-1zM170 22h1v1h-1zM164 23h7v1h-7zM164 24h1v1h-1zM167 24h4v1h-4zM160 25h1v1h-1zM164 25h3v1h-3zM170 25h1v1h-1zM160 26h3v1h-3zM166 26h3v1h-3zM161 27h1v1h-1zM165 27h2v1h-2zM168 27h1v1h-1zM167 28h1v1h-1zM169 28h2v1h-2zM164 29h2v1h-2zM164 30h1v1h-1zM170 30h1v1h-1zM165 31h3v1h-3zM170 31h1v1h-1zM163 32h1v1h-1zM166 32h1v1h-1zM170 32h1v1h-1zM166 33h1v1h-1zM168 37h1v1h-1zM169 38h1v1h-1zM167 39h1v1h-1zM169 39h2v1h-2zM170 42h1v1h-1zM168 44h1v1h-1zM170 45h1v1h-1zM170 46h1v1h-1zM169 47h1v1h-1zM170 49h1v1h-1zM168 60h1v1h-1zM168 61h1v1h-1zM168 64h1v1h-1zM169 65h1v1h-1zM168 66h1v1h-1zM166 67h3v1h-3zM170 67h1v1h-1zM168 68h3v1h-3zM163 71h1v1h-1zM169 71h2v1h-2zM164 74h1v1h-1zM169 74h1v1h-1zM164 75h1v1h-1zM166 75h1v1h-1zM168 78h1v1h-1zM164 79h1v1h-1zM167 79h1v1h-1zM160 80h4v1h-4zM160 81h5v1h-5zM160 82h8v1h-8zM156 83h1v1h-1zM163 83h6v1h-6zM155 84h1v1h-1zM165 84h4v1h-4zM149 85h1v1h-1zM166 85h3v1h-3zM170 86h1v1h-1zM155 87h2v1h-2zM168 87h1v1h-1zM154 88h2v1h-2zM157 88h1v1h-1zM165 88h1v1h-1zM154 89h1v1h-1zM149 90h2v1h-2zM154 90h1v1h-1zM165 90h3v1h-3zM144 91h1v1h-1zM148 91h1v1h-1zM150 91h1v1h-1zM153 91h1v1h-1zM167 91h1v1h-1zM146 92h1v1h-1zM147 93h1v1h-1zM159 93h1v1h-1zM153 95h1v1h-1zM164 95h1v1h-1zM150 96h1v1h-1zM156 97h1v1h-1zM168 97h2v1h-2zM165 99h5v1h-5zM164 100h4v1h-4zM169 100h1v1h-1zM170 101h1v1h-1zM160 102h1v1h-1zM168 102h1v1h-1zM163 103h4v1h-4zM168 103h1v1h-1zM164 104h2v1h-2zM143 105h1v1h-1zM158 105h1v1h-1zM143 106h1v1h-1zM151 106h1v1h-1zM144 107h1v1h-1zM155 107h1v1h-1zM165 107h1v1h-1zM144 108h1v1h-1zM159 108h1v1h-1zM163 108h1v1h-1zM168 108h1v1h-1zM142 109h1v1h-1zM159 111h2v1h-2zM140 113h1v1h-1zM150 113h1v1h-1zM168 113h1v1h-1zM164 115h1v1h-1z"/><path fill="#4741e5" d="M166 68h1v1h-1zM138 94h1v1h-1zM149 95h1v1h-1z"/><path fill="#4747eb" d="M150 1h1v1h-1zM169 77h1v1h-1zM156 111h1v1h-1z"/><path fill="#484df0" d="M154 0h1v1h-1zM142 2h1v1h-1zM166 2h1v1h-1zM155 6h1v1h-1zM163 8h1v1h-1zM168 25h1v1h-1zM159 84h1v1h-1zM153 87h1v1h-1zM145 95h1v1h-1zM135 97h1v1h-1zM148 103h1v1h-1zM144 104h1v1h-1zM169 106h1v1h-1z"/><path fill="#4852f4" d="M133 1h1v1h-1zM165 12h1v1h-1zM167 12h2v1h-2zM167 13h1v1h-1zM167 29h1v1h-1zM164 72h1v1h-1zM167 72h1v1h-1zM166 73h1v1h-1zM165 75h1v1h-1zM156 81h1v1h-1zM156 99h1v1h-1zM164 99h1v1h-1zM148 101h1v1h-1zM140 102h1v1h-1zM162 102h1v1h-1zM137 106h1v1h-1zM142 107h1v1h-1zM138 109h1v1h-1zM167 109h1v1h-1zM146 110h1v1h-1zM151 110h1v1h-1zM147 112h1v1h-1z"/><path fill="#4758f8" d="M163 6h1v1h-1zM165 9h1v1h-1zM168 18h1v1h-1zM170 27h1v1h-1zM164 80h1v1h-1zM153 82h1v1h-1zM168 88h1v1h-1zM163 91h1v1h-1zM152 93h1v1h-1zM158 93h1v1h-1zM153 96h1v1h-1zM165 96h1v1h-1zM159 98h1v1h-1zM130 101h1v1h-1zM132 102h1v1h-1zM152 104h1v1h-1zM169 112h1v1h-1z"/><path fill="#465efb" d="M165 13h1v1h-1zM165 14h1v1h-1zM162 24h1v1h-1zM169 26h1v1h-1zM169 41h1v1h-1zM159 74h1v1h-1zM163 74h1v1h-1zM157 76h1v1h-1zM158 90h1v1h-1zM151 96h1v1h-1zM149 97h1v1h-1zM148 99h1v1h-1zM133 104h1v1h-1zM145 108h1v1h-1z"/><path fill="#4563fd" d="M156 9h1v1h-1zM164 10h1v1h-1zM170 38h1v1h-1zM154 97h1v1h-1zM157 100h1v1h-1zM135 103h1v1h-1zM147 105h1v1h-1zM154 107h1v1h-1zM161 111h1v1h-1zM170 112h1v1h-1z"/><path fill="#4269fe" d="M163 1h1v1h-1zM170 7h1v1h-1zM170 53h1v1h-1zM167 69h1v1h-1zM163 99h1v1h-1zM167 105h1v1h-1zM165 106h1v1h-1zM165 109h1v1h-1zM166 110h2v1h-2zM159 115h1v1h-1z"/><path fill="#3e6fff" d="M164 17h1v1h-1zM167 22h1v1h-1zM166 34h1v1h-1zM165 36h1v1h-1zM170 56h1v1h-1zM167 68h1v1h-1zM169 76h1v1h-1zM170 77h1v1h-1zM166 88h1v1h-1zM155 92h1v1h-1zM162 94h1v1h-1zM165 94h1v1h-1zM165 98h1v1h-1zM158 99h1v1h-1zM163 100h1v1h-1zM169 103h2v1h-2zM161 104h1v1h-1zM166 104h1v1h-1zM170 105h1v1h-1zM167 107h1v1h-1zM170 107h1v1h-1zM160 109h1v1h-1zM162 110h1v1h-1zM164 110h1v1h-1zM158 111h1v1h-1zM166 111h1v1h-1zM168 111h1v1h-1zM170 111h1v1h-1zM162 113h1v1h-1zM170 114h1v1h-1zM157 115h1v1h-1zM165 115h1v1h-1zM168 115h1v1h-1z"/><path fill="#3875fe" d="M158 1h1v1h-1zM155 4h1v1h-1zM170 4h1v1h-1zM170 5h1v1h-1zM165 7h1v1h-1zM169 8h1v1h-1zM164 9h1v1h-1zM169 11h1v1h-1zM161 13h1v1h-1zM160 14h1v1h-1zM168 17h1v1h-1zM170 17h1v1h-1zM170 19h1v1h-1zM168 20h1v1h-1zM170 20h1v1h-1zM165 21h1v1h-1zM165 22h1v1h-1zM163 24h1v1h-1zM162 25h1v1h-1zM169 25h1v1h-1zM169 30h1v1h-1zM167 33h1v1h-1zM170 33h1v1h-1zM167 34h1v1h-1zM169 34h1v1h-1zM167 35h1v1h-1zM169 44h1v1h-1zM169 50h1v1h-1zM170 57h1v1h-1zM169 58h1v1h-1zM170 61h1v1h-1zM165 66h2v1h-2zM164 68h1v1h-1zM162 69h1v1h-1zM164 69h2v1h-2zM169 69h1v1h-1zM164 70h1v1h-1zM166 70h3v1h-3zM170 70h1v1h-1zM165 73h1v1h-1zM168 73h1v1h-1zM170 73h1v1h-1zM170 74h1v1h-1zM161 76h1v1h-1zM163 76h1v1h-1zM165 76h1v1h-1zM168 76h1v1h-1zM160 77h1v1h-1zM162 77h2v1h-2zM167 77h1v1h-1zM168 79h2v1h-2zM169 80h1v1h-1zM167 81h1v1h-1zM170 82h1v1h-1zM162 84h1v1h-1zM154 85h1v1h-1zM164 85h1v1h-1zM162 86h1v1h-1zM164 86h2v1h-2zM169 86h1v1h-1zM161 88h1v1h-1zM163 88h1v1h-1zM170 88h1v1h-1zM159 89h1v1h-1zM168 89h1v1h-1zM168 90h1v1h-1zM164 91h1v1h-1zM168 91h3v1h-3zM163 92h2v1h-2zM167 92h1v1h-1zM170 92h1v1h-1zM153 93h1v1h-1zM163 93h1v1h-1zM155 94h1v1h-1zM159 94h2v1h-2zM163 94h1v1h-1zM167 94h2v1h-2zM170 94h1v1h-1zM150 95h1v1h-1zM161 95h3v1h-3zM168 95h1v1h-1zM162 96h1v1h-1zM164 96h1v1h-1zM167 96h1v1h-1zM153 97h1v1h-1zM159 97h1v1h-1zM164 97h1v1h-1zM162 98h1v1h-1zM155 99h1v1h-1zM160 99h1v1h-1zM152 101h1v1h-1zM160 101h1v1h-1zM162 101h1v1h-1zM169 101h1v1h-1zM152 102h1v1h-1zM161 102h1v1h-1zM164 102h1v1h-1zM169 102h1v1h-1zM155 103h1v1h-1zM162 103h1v1h-1zM155 104h1v1h-1zM159 104h1v1h-1zM162 105h2v1h-2zM156 106h1v1h-1zM164 106h1v1h-1zM166 106h1v1h-1zM170 106h1v1h-1zM156 107h1v1h-1zM158 107h2v1h-2zM161 107h1v1h-1zM168 107h1v1h-1zM149 108h1v1h-1zM154 108h1v1h-1zM157 108h2v1h-2zM166 108h1v1h-1zM158 109h2v1h-2zM161 109h2v1h-2zM168 109h1v1h-1zM153 110h1v1h-1zM156 110h1v1h-1zM161 110h1v1h-1zM165 110h1v1h-1zM153 111h3v1h-3zM167 111h1v1h-1zM169 111h1v1h-1zM154 112h2v1h-2zM158 112h1v1h-1zM160 112h3v1h-3zM166 112h3v1h-3zM155 113h1v1h-1zM163 113h2v1h-2zM167 113h1v1h-1zM170 113h1v1h-1zM154 114h2v1h-2zM157 114h1v1h-1zM165 114h2v1h-2zM169 114h1v1h-1zM161 115h1v1h-1z"/><path fill="#327cfc" d="M157 0h1v1h-1zM162 0h1v1h-1zM164 0h3v1h-3zM162 1h1v1h-1zM166 1h1v1h-1zM146 2h1v1h-1zM161 2h1v1h-1zM165 2h1v1h-1zM168 2h1v1h-1zM155 3h1v1h-1zM158 3h1v1h-1zM165 3h2v1h-2zM169 3h1v1h-1zM156 4h1v1h-1zM167 4h1v1h-1zM169 4h1v1h-1zM149 5h1v1h-1zM152 5h1v1h-1zM169 6h1v1h-1zM158 7h1v1h-1zM161 7h2v1h-2zM164 7h1v1h-1zM168 7h1v1h-1zM160 8h1v1h-1zM167 8h1v1h-1zM160 9h1v1h-1zM166 9h2v1h-2zM166 10h1v1h-1zM166 11h1v1h-1zM168 11h1v1h-1zM169 12h1v1h-1zM166 13h1v1h-1zM164 14h1v1h-1zM166 14h1v1h-1zM170 14h1v1h-1zM166 15h1v1h-1zM157 16h2v1h-2zM163 18h2v1h-2zM166 18h2v1h-2zM169 18h1v1h-1zM168 19h1v1h-1zM160 20h1v1h-1zM169 21h2v1h-2zM159 22h1v1h-1zM161 22h1v1h-1zM169 22h1v1h-1zM165 24h2v1h-2zM163 25h1v1h-1zM164 26h1v1h-1zM162 27h1v1h-1zM164 27h1v1h-1zM164 28h1v1h-1zM166 28h1v1h-1zM163 29h1v1h-1zM166 29h1v1h-1zM168 29h1v1h-1zM170 29h1v1h-1zM166 30h1v1h-1zM168 31h2v1h-2zM169 33h1v1h-1zM168 34h1v1h-1zM170 35h1v1h-1zM166 36h1v1h-1zM169 40h1v1h-1zM170 41h1v1h-1zM168 43h1v1h-1zM170 43h1v1h-1zM169 46h1v1h-1zM170 51h1v1h-1zM169 61h1v1h-1zM168 62h3v1h-3zM167 63h1v1h-1zM170 63h1v1h-1zM167 64h1v1h-1zM170 64h1v1h-1zM166 65h3v1h-3zM169 66h2v1h-2zM165 67h1v1h-1zM165 68h1v1h-1zM170 69h1v1h-1zM165 70h1v1h-1zM169 70h1v1h-1zM161 71h1v1h-1zM165 71h1v1h-1zM167 71h2v1h-2zM160 72h1v1h-1zM163 72h1v1h-1zM165 72h1v1h-1zM168 72h1v1h-1zM162 73h1v1h-1zM167 73h1v1h-1zM169 73h1v1h-1zM162 74h1v1h-1zM165 74h1v1h-1zM167 74h2v1h-2zM158 75h1v1h-1zM162 75h2v1h-2zM168 75h1v1h-1zM170 75h1v1h-1zM159 76h2v1h-2zM170 76h1v1h-1zM168 77h1v1h-1zM158 78h1v1h-1zM169 78h2v1h-2zM159 79h1v1h-1zM161 79h1v1h-1zM170 79h1v1h-1zM154 80h1v1h-1zM158 80h2v1h-2zM167 80h1v1h-1zM170 80h1v1h-1zM157 81h1v1h-1zM170 81h1v1h-1zM154 82h1v1h-1zM157 82h1v1h-1zM159 82h1v1h-1zM169 82h1v1h-1zM161 83h1v1h-1zM169 83h2v1h-2zM151 84h1v1h-1zM153 84h1v1h-1zM160 84h2v1h-2zM170 84h1v1h-1zM150 85h1v1h-1zM152 85h1v1h-1zM156 85h1v1h-1zM159 85h1v1h-1zM161 85h1v1h-1zM165 85h1v1h-1zM169 85h2v1h-2zM158 86h3v1h-3zM163 86h1v1h-1zM157 87h1v1h-1zM159 87h1v1h-1zM161 87h1v1h-1zM166 87h1v1h-1zM169 87h2v1h-2zM156 88h1v1h-1zM158 88h3v1h-3zM162 88h1v1h-1zM167 88h1v1h-1zM169 88h1v1h-1zM153 89h1v1h-1zM155 89h1v1h-1zM160 89h1v1h-1zM165 89h3v1h-3zM169 89h2v1h-2zM151 90h1v1h-1zM155 90h1v1h-1zM169 90h1v1h-1zM158 91h1v1h-1zM154 92h1v1h-1zM156 92h1v1h-1zM159 92h3v1h-3zM165 92h1v1h-1zM169 92h1v1h-1zM149 93h1v1h-1zM154 93h2v1h-2zM160 93h1v1h-1zM167 93h1v1h-1zM170 93h1v1h-1zM158 94h1v1h-1zM164 94h1v1h-1zM169 94h1v1h-1zM148 95h1v1h-1zM152 95h1v1h-1zM156 95h2v1h-2zM159 95h1v1h-1zM166 95h2v1h-2zM169 95h1v1h-1zM156 96h4v1h-4zM166 96h1v1h-1zM168 96h1v1h-1zM170 96h1v1h-1zM148 97h1v1h-1zM158 97h1v1h-1zM163 97h1v1h-1zM166 97h2v1h-2zM170 97h1v1h-1zM150 98h1v1h-1zM155 98h1v1h-1zM157 98h1v1h-1zM160 98h1v1h-1zM163 98h2v1h-2zM167 98h2v1h-2zM153 99h1v1h-1zM143 100h1v1h-1zM148 100h1v1h-1zM150 100h2v1h-2zM156 100h1v1h-1zM160 100h1v1h-1zM162 100h1v1h-1zM168 100h1v1h-1zM153 101h2v1h-2zM158 101h1v1h-1zM161 101h1v1h-1zM163 101h1v1h-1zM165 101h1v1h-1zM167 101h1v1h-1zM146 102h1v1h-1zM149 102h1v1h-1zM151 102h1v1h-1zM158 102h2v1h-2zM163 102h1v1h-1zM166 102h1v1h-1zM154 103h1v1h-1zM156 103h1v1h-1zM158 103h1v1h-1zM161 103h1v1h-1zM167 103h1v1h-1zM145 104h1v1h-1zM148 104h1v1h-1zM150 104h1v1h-1zM157 104h1v1h-1zM162 104h1v1h-1zM168 104h2v1h-2zM151 105h3v1h-3zM156 105h1v1h-1zM159 105h1v1h-1zM161 105h1v1h-1zM164 105h2v1h-2zM145 106h1v1h-1zM147 106h2v1h-2zM154 106h1v1h-1zM161 106h1v1h-1zM163 106h1v1h-1zM167 106h2v1h-2zM157 107h1v1h-1zM160 107h1v1h-1zM162 107h3v1h-3zM169 107h1v1h-1zM148 108h1v1h-1zM150 108h1v1h-1zM152 108h2v1h-2zM156 108h1v1h-1zM160 108h3v1h-3zM167 108h1v1h-1zM169 108h1v1h-1zM145 109h2v1h-2zM149 109h2v1h-2zM155 109h3v1h-3zM163 109h1v1h-1zM169 109h1v1h-1zM142 110h1v1h-1zM147 110h1v1h-1zM155 110h1v1h-1zM158 110h1v1h-1zM160 110h1v1h-1zM163 110h1v1h-1zM168 110h2v1h-2zM140 111h1v1h-1zM143 111h1v1h-1zM148 111h1v1h-1zM150 111h1v1h-1zM162 111h2v1h-2zM165 111h1v1h-1zM146 112h1v1h-1zM148 112h1v1h-1zM153 112h1v1h-1zM157 112h1v1h-1zM163 112h3v1h-3zM146 113h1v1h-1zM159 113h3v1h-3zM165 113h2v1h-2zM169 113h1v1h-1zM150 114h1v1h-1zM159 114h3v1h-3zM168 114h1v1h-1zM140 115h1v1h-1zM149 115h2v1h-2zM154 115h1v1h-1zM156 115h1v1h-1zM162 115h2v1h-2zM166 115h2v1h-2zM169 115h2v1h-2z"/><path fill="#2f81fa" d="M152 0h1v1h-1zM149 1h1v1h-1zM155 1h1v1h-1zM157 1h1v1h-1zM164 1h2v1h-2zM149 2h1v1h-1zM151 2h1v1h-1zM158 2h1v1h-1zM162 2h1v1h-1zM149 3h1v1h-1zM151 3h1v1h-1zM153 3h2v1h-2zM156 3h1v1h-1zM160 3h1v1h-1zM162 3h2v1h-2zM170 3h1v1h-1zM151 4h1v1h-1zM160 4h1v1h-1zM151 5h1v1h-1zM156 5h2v1h-2zM167 5h1v1h-1zM154 6h1v1h-1zM157 6h1v1h-1zM159 6h1v1h-1zM168 6h1v1h-1zM154 7h2v1h-2zM157 7h1v1h-1zM154 8h3v1h-3zM159 8h1v1h-1zM170 9h1v1h-1zM158 10h1v1h-1zM160 10h1v1h-1zM165 10h1v1h-1zM167 10h2v1h-2zM157 11h1v1h-1zM160 11h1v1h-1zM163 11h1v1h-1zM167 11h1v1h-1zM162 12h2v1h-2zM168 13h3v1h-3zM157 14h1v1h-1zM163 14h1v1h-1zM158 15h1v1h-1zM165 16h1v1h-1zM157 17h1v1h-1zM159 17h1v1h-1zM167 17h1v1h-1zM156 18h1v1h-1zM159 18h3v1h-3zM169 19h1v1h-1zM163 20h1v1h-1zM167 20h1v1h-1zM169 20h1v1h-1zM164 21h1v1h-1zM160 22h1v1h-1zM162 22h2v1h-2zM161 23h1v1h-1zM160 24h1v1h-1zM161 25h1v1h-1zM167 25h1v1h-1zM163 27h1v1h-1zM163 28h1v1h-1zM165 28h1v1h-1zM168 28h1v1h-1zM169 29h1v1h-1zM162 30h2v1h-2zM168 30h1v1h-1zM165 32h1v1h-1zM168 32h2v1h-2zM164 33h1v1h-1zM165 34h1v1h-1zM169 35h1v1h-1zM167 36h1v1h-1zM169 36h1v1h-1zM166 37h1v1h-1zM170 37h1v1h-1zM166 38h1v1h-1zM168 38h1v1h-1zM170 40h1v1h-1zM167 41h1v1h-1zM169 42h1v1h-1zM169 45h1v1h-1zM170 48h1v1h-1zM169 51h1v1h-1zM170 55h1v1h-1zM169 59h1v1h-1zM169 60h2v1h-2zM168 63h1v1h-1zM169 64h1v1h-1zM170 65h1v1h-1zM167 66h1v1h-1zM169 67h1v1h-1zM163 68h1v1h-1zM163 69h1v1h-1zM166 69h1v1h-1zM166 71h1v1h-1zM166 72h1v1h-1zM170 72h1v1h-1zM159 73h2v1h-2zM163 73h1v1h-1zM160 74h2v1h-2zM159 75h2v1h-2zM169 75h1v1h-1zM166 76h2v1h-2zM157 77h2v1h-2zM161 77h1v1h-1zM165 77h2v1h-2zM156 78h2v1h-2zM159 78h3v1h-3zM164 78h4v1h-4zM155 79h1v1h-1zM157 79h1v1h-1zM160 79h1v1h-1zM162 79h1v1h-1zM165 79h2v1h-2zM165 80h1v1h-1zM168 80h1v1h-1zM154 81h1v1h-1zM159 81h1v1h-1zM166 81h1v1h-1zM169 81h1v1h-1zM155 82h2v1h-2zM168 82h1v1h-1zM152 83h1v1h-1zM155 83h1v1h-1zM157 83h2v1h-2zM160 83h1v1h-1zM162 83h1v1h-1zM154 84h1v1h-1zM156 84h3v1h-3zM169 84h1v1h-1zM151 85h1v1h-1zM155 85h1v1h-1zM157 85h2v1h-2zM160 85h1v1h-1zM163 85h1v1h-1zM157 86h1v1h-1zM166 86h3v1h-3zM148 87h1v1h-1zM151 87h1v1h-1zM158 87h1v1h-1zM160 87h1v1h-1zM162 87h4v1h-4zM167 87h1v1h-1zM150 88h1v1h-1zM152 88h1v1h-1zM146 89h1v1h-1zM148 89h1v1h-1zM151 89h1v1h-1zM156 89h1v1h-1zM162 89h1v1h-1zM142 90h1v1h-1zM147 90h1v1h-1zM159 90h3v1h-3zM163 90h2v1h-2zM146 91h1v1h-1zM149 91h1v1h-1zM155 91h1v1h-1zM157 91h1v1h-1zM159 91h2v1h-2zM165 91h1v1h-1zM145 92h1v1h-1zM147 92h1v1h-1zM150 92h3v1h-3zM158 92h1v1h-1zM166 92h1v1h-1zM168 92h1v1h-1zM162 93h1v1h-1zM164 93h3v1h-3zM168 93h2v1h-2zM147 94h2v1h-2zM150 94h1v1h-1zM152 94h2v1h-2zM156 94h2v1h-2zM166 94h1v1h-1zM143 95h1v1h-1zM146 95h2v1h-2zM154 95h2v1h-2zM158 95h1v1h-1zM160 95h1v1h-1zM141 96h1v1h-1zM143 96h1v1h-1zM148 96h2v1h-2zM152 96h1v1h-1zM154 96h2v1h-2zM160 96h1v1h-1zM163 96h1v1h-1zM169 96h1v1h-1zM144 97h1v1h-1zM152 97h1v1h-1zM161 97h1v1h-1zM144 98h2v1h-2zM148 98h1v1h-1zM154 98h1v1h-1zM156 98h1v1h-1zM158 98h1v1h-1zM161 98h1v1h-1zM169 98h2v1h-2zM143 99h2v1h-2zM147 99h1v1h-1zM149 99h1v1h-1zM152 99h1v1h-1zM154 99h1v1h-1zM157 99h1v1h-1zM161 99h1v1h-1zM170 99h1v1h-1zM145 100h1v1h-1zM149 100h1v1h-1zM155 100h1v1h-1zM161 100h1v1h-1zM170 100h1v1h-1zM144 101h2v1h-2zM149 101h1v1h-1zM155 101h3v1h-3zM164 101h1v1h-1zM166 101h1v1h-1zM168 101h1v1h-1zM144 102h2v1h-2zM150 102h1v1h-1zM154 102h1v1h-1zM156 102h2v1h-2zM167 102h1v1h-1zM170 102h1v1h-1zM142 103h1v1h-1zM144 103h1v1h-1zM147 103h1v1h-1zM149 103h1v1h-1zM152 103h2v1h-2zM159 103h2v1h-2zM149 104h1v1h-1zM153 104h1v1h-1zM156 104h1v1h-1zM158 104h1v1h-1zM160 104h1v1h-1zM163 104h1v1h-1zM170 104h1v1h-1zM140 105h1v1h-1zM144 105h1v1h-1zM146 105h1v1h-1zM148 105h1v1h-1zM150 105h1v1h-1zM154 105h2v1h-2zM157 105h1v1h-1zM166 105h1v1h-1zM168 105h2v1h-2zM144 106h1v1h-1zM146 106h1v1h-1zM149 106h2v1h-2zM153 106h1v1h-1zM155 106h1v1h-1zM157 106h2v1h-2zM160 106h1v1h-1zM162 106h1v1h-1zM139 107h1v1h-1zM143 107h1v1h-1zM150 107h2v1h-2zM153 107h1v1h-1zM166 107h1v1h-1zM143 108h1v1h-1zM147 108h1v1h-1zM151 108h1v1h-1zM164 108h1v1h-1zM170 108h1v1h-1zM140 109h1v1h-1zM143 109h2v1h-2zM147 109h1v1h-1zM151 109h3v1h-3zM164 109h1v1h-1zM166 109h1v1h-1zM144 110h1v1h-1zM148 110h1v1h-1zM150 110h1v1h-1zM152 110h1v1h-1zM154 110h1v1h-1zM157 110h1v1h-1zM159 110h1v1h-1zM142 111h1v1h-1zM147 111h1v1h-1zM152 111h1v1h-1zM157 111h1v1h-1zM164 111h1v1h-1zM140 112h4v1h-4zM145 112h1v1h-1zM149 112h4v1h-4zM156 112h1v1h-1zM159 112h1v1h-1zM141 113h2v1h-2zM144 113h1v1h-1zM147 113h1v1h-1zM149 113h1v1h-1zM151 113h1v1h-1zM153 113h1v1h-1zM156 113h3v1h-3zM138 114h1v1h-1zM140 114h1v1h-1zM143 114h2v1h-2zM148 114h1v1h-1zM152 114h2v1h-2zM158 114h1v1h-1zM163 114h2v1h-2zM167 114h1v1h-1zM144 115h2v1h-2zM147 115h2v1h-2zM152 115h2v1h-2zM158 115h1v1h-1zM160 115h1v1h-1z"/><path fill="#2e87f7" d="M138 0h1v1h-1zM141 0h1v1h-1zM146 0h2v1h-2zM149 0h1v1h-1zM151 0h1v1h-1zM153 0h1v1h-1zM155 0h1v1h-1zM163 0h1v1h-1zM138 1h1v1h-1zM144 1h1v1h-1zM146 1h3v1h-3zM152 1h1v1h-1zM156 1h1v1h-1zM141 2h1v1h-1zM143 2h1v1h-1zM145 2h1v1h-1zM147 2h1v1h-1zM154 2h1v1h-1zM157 2h1v1h-1zM164 2h1v1h-1zM143 3h1v1h-1zM146 3h1v1h-1zM141 4h2v1h-2zM144 4h2v1h-2zM147 4h1v1h-1zM149 4h1v1h-1zM153 4h1v1h-1zM157 4h2v1h-2zM165 4h1v1h-1zM143 5h1v1h-1zM155 5h1v1h-1zM159 5h2v1h-2zM144 6h1v1h-1zM146 6h1v1h-1zM151 6h2v1h-2zM152 7h1v1h-1zM156 7h1v1h-1zM167 7h1v1h-1zM157 8h1v1h-1zM157 9h3v1h-3zM159 10h1v1h-1zM164 11h2v1h-2zM164 12h1v1h-1zM166 12h1v1h-1zM170 12h1v1h-1zM164 13h1v1h-1zM161 14h1v1h-1zM155 15h1v1h-1zM157 15h1v1h-1zM167 15h1v1h-1zM166 16h1v1h-1zM167 19h1v1h-1zM158 20h1v1h-1zM159 21h1v1h-1zM162 21h2v1h-2zM168 22h1v1h-1zM159 23h2v1h-2zM162 23h2v1h-2zM163 26h1v1h-1zM165 26h1v1h-1zM170 26h1v1h-1zM169 27h1v1h-1zM162 28h1v1h-1zM162 29h1v1h-1zM165 30h1v1h-1zM167 30h1v1h-1zM163 31h2v1h-2zM164 32h1v1h-1zM165 33h1v1h-1zM168 33h1v1h-1zM170 34h1v1h-1zM166 35h1v1h-1zM168 35h1v1h-1zM168 36h1v1h-1zM170 36h1v1h-1zM167 37h1v1h-1zM167 38h1v1h-1zM168 39h1v1h-1zM167 40h2v1h-2zM168 41h1v1h-1zM168 42h1v1h-1zM169 43h1v1h-1zM170 44h1v1h-1zM170 47h1v1h-1zM169 48h1v1h-1zM169 49h1v1h-1zM170 50h1v1h-1zM169 52h1v1h-1zM170 59h1v1h-1zM169 63h1v1h-1zM168 69h1v1h-1zM162 70h1v1h-1zM161 72h1v1h-1zM169 72h1v1h-1zM161 73h1v1h-1zM164 73h1v1h-1zM166 74h1v1h-1zM161 75h1v1h-1zM167 75h1v1h-1zM158 76h1v1h-1zM162 76h1v1h-1zM164 76h1v1h-1zM156 77h1v1h-1zM159 77h1v1h-1zM164 77h1v1h-1zM155 78h1v1h-1zM162 78h2v1h-2zM156 79h1v1h-1zM163 79h1v1h-1zM155 80h3v1h-3zM155 81h1v1h-1zM158 81h1v1h-1zM168 81h1v1h-1zM158 82h1v1h-1zM154 83h1v1h-1zM159 83h1v1h-1zM152 84h1v1h-1zM163 84h2v1h-2zM153 85h1v1h-1zM162 85h1v1h-1zM147 86h4v1h-4zM153 86h4v1h-4zM161 86h1v1h-1zM149 87h2v1h-2zM154 87h1v1h-1zM144 88h1v1h-1zM147 88h3v1h-3zM151 88h1v1h-1zM153 88h1v1h-1zM164 88h1v1h-1zM147 89h1v1h-1zM149 89h2v1h-2zM152 89h1v1h-1zM157 89h2v1h-2zM161 89h1v1h-1zM163 89h2v1h-2zM146 90h1v1h-1zM152 90h2v1h-2zM156 90h2v1h-2zM162 90h1v1h-1zM170 90h1v1h-1zM145 91h1v1h-1zM147 91h1v1h-1zM151 91h2v1h-2zM154 91h1v1h-1zM156 91h1v1h-1zM161 91h2v1h-2zM166 91h1v1h-1zM149 92h1v1h-1zM153 92h1v1h-1zM157 92h1v1h-1zM142 93h2v1h-2zM145 93h1v1h-1zM148 93h1v1h-1zM150 93h2v1h-2zM156 93h1v1h-1zM161 93h1v1h-1zM145 94h1v1h-1zM144 95h1v1h-1zM151 95h1v1h-1zM165 95h1v1h-1zM170 95h1v1h-1zM161 96h1v1h-1zM145 97h3v1h-3zM150 97h2v1h-2zM157 97h1v1h-1zM160 97h1v1h-1zM162 97h1v1h-1zM165 97h1v1h-1zM142 98h1v1h-1zM146 98h2v1h-2zM149 98h1v1h-1zM151 98h1v1h-1zM153 98h1v1h-1zM166 98h1v1h-1zM145 99h1v1h-1zM150 99h2v1h-2zM159 99h1v1h-1zM162 99h1v1h-1zM141 100h2v1h-2zM144 100h1v1h-1zM146 100h1v1h-1zM152 100h3v1h-3zM158 100h2v1h-2zM143 101h1v1h-1zM146 101h2v1h-2zM150 101h2v1h-2zM159 101h1v1h-1zM142 102h2v1h-2zM147 102h2v1h-2zM153 102h1v1h-1zM155 102h1v1h-1zM165 102h1v1h-1zM143 103h1v1h-1zM145 103h1v1h-1zM150 103h2v1h-2zM157 103h1v1h-1zM138 104h3v1h-3zM142 104h2v1h-2zM146 104h2v1h-2zM154 104h1v1h-1zM167 104h1v1h-1zM137 105h2v1h-2zM141 105h2v1h-2zM145 105h1v1h-1zM149 105h1v1h-1zM160 105h1v1h-1zM141 106h1v1h-1zM159 106h1v1h-1zM137 107h2v1h-2zM145 107h2v1h-2zM148 107h2v1h-2zM152 107h1v1h-1zM137 108h1v1h-1zM141 108h2v1h-2zM146 108h1v1h-1zM137 109h1v1h-1zM139 109h1v1h-1zM141 109h1v1h-1zM148 109h1v1h-1zM154 109h1v1h-1zM170 109h1v1h-1zM135 110h1v1h-1zM138 110h3v1h-3zM145 110h1v1h-1zM149 110h1v1h-1zM170 110h1v1h-1zM137 111h3v1h-3zM141 111h1v1h-1zM144 111h2v1h-2zM149 111h1v1h-1zM151 111h1v1h-1zM134 112h1v1h-1zM137 112h3v1h-3zM144 112h1v1h-1zM135 113h2v1h-2zM139 113h1v1h-1zM143 113h1v1h-1zM145 113h1v1h-1zM148 113h1v1h-1zM152 113h1v1h-1zM154 113h1v1h-1zM136 114h2v1h-2zM139 114h1v1h-1zM141 114h2v1h-2zM146 114h2v1h-2zM149 114h1v1h-1zM151 114h1v1h-1zM156 114h1v1h-1zM162 114h1v1h-1zM134 115h2v1h-2zM137 115h3v1h-3zM142 115h1v1h-1zM146 115h1v1h-1zM151 115h1v1h-1z"/><path fill="#2d8cf3" d="M136 0h2v1h-2zM139 0h2v1h-2zM142 0h4v1h-4zM148 0h1v1h-1zM150 0h1v1h-1zM137 1h1v1h-1zM139 1h4v1h-4zM167 1h1v1h-1zM140 2h1v1h-1zM148 2h1v1h-1zM150 2h1v1h-1zM160 2h1v1h-1zM163 2h1v1h-1zM136 3h2v1h-2zM139 3h4v1h-4zM144 3h2v1h-2zM150 3h1v1h-1zM161 3h1v1h-1zM139 4h1v1h-1zM143 4h1v1h-1zM146 4h1v1h-1zM148 4h1v1h-1zM150 4h1v1h-1zM161 4h1v1h-1zM168 4h1v1h-1zM141 5h2v1h-2zM145 5h2v1h-2zM148 5h1v1h-1zM150 5h1v1h-1zM158 5h1v1h-1zM147 6h1v1h-1zM156 6h1v1h-1zM167 6h1v1h-1zM151 7h1v1h-1zM149 8h1v1h-1zM158 11h1v1h-1zM157 12h1v1h-1zM157 13h1v1h-1zM165 15h1v1h-1zM156 17h1v1h-1zM162 20h1v1h-1zM161 21h1v1h-1zM168 21h1v1h-1zM161 24h1v1h-1zM167 27h1v1h-1zM167 32h1v1h-1zM165 35h1v1h-1zM169 37h1v1h-1zM170 52h1v1h-1zM170 58h1v1h-1zM164 67h1v1h-1zM163 70h1v1h-1zM162 71h1v1h-1zM164 71h1v1h-1zM162 72h1v1h-1zM158 79h1v1h-1zM165 81h1v1h-1zM153 83h1v1h-1zM151 86h1v1h-1zM146 87h2v1h-2zM152 87h1v1h-1zM145 88h2v1h-2zM142 89h1v1h-1zM144 89h1v1h-1zM143 90h1v1h-1zM145 90h1v1h-1zM148 90h1v1h-1zM142 91h2v1h-2zM140 92h1v1h-1zM144 92h1v1h-1zM148 92h1v1h-1zM162 92h1v1h-1zM144 93h1v1h-1zM146 93h1v1h-1zM157 93h1v1h-1zM139 94h1v1h-1zM141 94h1v1h-1zM146 94h1v1h-1zM149 94h1v1h-1zM151 94h1v1h-1zM154 94h1v1h-1zM161 94h1v1h-1zM140 95h3v1h-3zM138 96h2v1h-2zM142 96h1v1h-1zM145 96h3v1h-3zM142 97h2v1h-2zM155 97h1v1h-1zM137 98h2v1h-2zM140 98h2v1h-2zM143 98h1v1h-1zM152 98h1v1h-1zM140 99h3v1h-3zM146 99h1v1h-1zM136 100h1v1h-1zM139 100h2v1h-2zM147 100h1v1h-1zM139 101h1v1h-1zM141 101h2v1h-2zM137 102h3v1h-3zM141 102h1v1h-1zM136 103h3v1h-3zM140 103h2v1h-2zM146 103h1v1h-1zM137 104h1v1h-1zM141 104h1v1h-1zM151 104h1v1h-1zM135 105h2v1h-2zM133 106h1v1h-1zM136 106h1v1h-1zM138 106h3v1h-3zM142 106h1v1h-1zM152 106h1v1h-1zM134 107h1v1h-1zM141 107h1v1h-1zM147 107h1v1h-1zM135 108h2v1h-2zM139 108h2v1h-2zM165 108h1v1h-1zM135 109h1v1h-1zM136 110h1v1h-1zM141 110h1v1h-1zM143 110h1v1h-1zM135 111h2v1h-2zM146 111h1v1h-1zM135 112h2v1h-2zM131 113h2v1h-2zM134 113h1v1h-1zM137 113h2v1h-2zM132 114h2v1h-2zM135 114h1v1h-1zM145 114h1v1h-1zM132 115h2v1h-2zM136 115h1v1h-1zM141 115h1v1h-1zM143 115h1v1h-1zM155 115h1v1h-1z"/><path fill="#2b91ef" d="M133 0h1v1h-1zM135 0h1v1h-1zM135 1h2v1h-2zM143 1h1v1h-1zM135 2h3v1h-3zM139 2h1v1h-1zM144 2h1v1h-1zM138 3h1v1h-1zM147 3h2v1h-2zM136 4h3v1h-3zM140 4h1v1h-1zM163 7h1v1h-1zM156 15h1v1h-1zM166 17h1v1h-1zM170 18h1v1h-1zM170 54h1v1h-1zM166 80h1v1h-1zM152 86h1v1h-1zM143 89h1v1h-1zM145 89h1v1h-1zM144 90h1v1h-1zM140 91h2v1h-2zM137 92h2v1h-2zM142 92h2v1h-2zM138 93h1v1h-1zM141 93h1v1h-1zM136 94h1v1h-1zM140 94h1v1h-1zM142 94h3v1h-3zM137 95h3v1h-3zM140 96h1v1h-1zM144 96h1v1h-1zM134 97h1v1h-1zM137 97h5v1h-5zM139 98h1v1h-1zM137 99h3v1h-3zM135 100h1v1h-1zM136 101h3v1h-3zM140 101h1v1h-1zM134 102h3v1h-3zM134 103h1v1h-1zM139 103h1v1h-1zM134 104h3v1h-3zM133 105h2v1h-2zM139 105h1v1h-1zM134 106h2v1h-2zM132 107h1v1h-1zM135 107h2v1h-2zM140 107h1v1h-1zM132 108h3v1h-3zM138 108h1v1h-1zM155 108h1v1h-1zM133 109h2v1h-2zM136 109h1v1h-1zM130 110h1v1h-1zM132 110h3v1h-3zM137 110h1v1h-1zM130 111h5v1h-5zM129 112h1v1h-1zM131 112h1v1h-1zM133 112h1v1h-1zM130 113h1v1h-1zM133 113h1v1h-1zM134 114h1v1h-1zM130 115h2v1h-2z"/><path fill="#2797eb" d="M132 0h1v1h-1zM134 0h1v1h-1zM130 1h1v1h-1zM132 1h1v1h-1zM134 1h1v1h-1zM133 2h2v1h-2zM138 2h1v1h-1zM134 3h2v1h-2zM132 4h4v1h-4zM144 5h1v1h-1zM141 90h1v1h-1zM139 92h1v1h-1zM141 92h1v1h-1zM134 93h2v1h-2zM137 93h1v1h-1zM139 93h2v1h-2zM135 94h1v1h-1zM137 94h1v1h-1zM134 95h3v1h-3zM134 96h1v1h-1zM136 96h2v1h-2zM136 97h1v1h-1zM132 98h1v1h-1zM134 98h1v1h-1zM136 98h1v1h-1zM132 99h5v1h-5zM134 100h1v1h-1zM137 100h2v1h-2zM131 101h1v1h-1zM133 101h3v1h-3zM131 103h3v1h-3zM130 104h1v1h-1zM132 104h1v1h-1zM131 105h2v1h-2zM130 106h3v1h-3zM130 107h1v1h-1zM133 107h1v1h-1zM129 108h1v1h-1zM131 108h1v1h-1zM129 109h4v1h-4zM127 110h1v1h-1zM131 110h1v1h-1zM129 111h1v1h-1zM127 112h1v1h-1zM130 112h1v1h-1zM132 112h1v1h-1zM128 113h2v1h-2zM126 114h6v1h-6zM125 115h5v1h-5z"/><path fill="#259be8" d="M128 0h4v1h-4zM129 1h1v1h-1zM131 1h1v1h-1zM129 2h1v1h-1zM131 2h2v1h-2zM129 3h5v1h-5zM130 4h2v1h-2zM136 93h1v1h-1zM133 94h2v1h-2zM132 95h2v1h-2zM133 96h1v1h-1zM135 96h1v1h-1zM131 97h1v1h-1zM133 97h1v1h-1zM131 98h1v1h-1zM135 98h1v1h-1zM128 99h1v1h-1zM132 100h1v1h-1zM132 101h1v1h-1zM128 102h1v1h-1zM131 102h1v1h-1zM133 102h1v1h-1zM128 103h1v1h-1zM130 103h1v1h-1zM128 104h2v1h-2zM131 104h1v1h-1zM129 105h2v1h-2zM129 106h1v1h-1zM127 107h1v1h-1zM131 107h1v1h-1zM125 108h1v1h-1zM130 108h1v1h-1zM127 109h2v1h-2zM126 110h1v1h-1zM128 110h2v1h-2zM127 111h2v1h-2zM126 112h1v1h-1zM128 112h1v1h-1zM126 113h2v1h-2zM125 114h1v1h-1z"/><path fill="#23a0e5" d="M125 0h3v1h-3zM125 1h4v1h-4zM125 2h2v1h-2zM128 2h1v1h-1zM130 2h1v1h-1zM127 3h1v1h-1zM127 4h3v1h-3zM132 94h1v1h-1zM130 95h1v1h-1zM129 96h4v1h-4zM128 97h3v1h-3zM132 97h1v1h-1zM128 98h2v1h-2zM133 98h1v1h-1zM127 99h1v1h-1zM129 99h3v1h-3zM127 100h1v1h-1zM129 100h3v1h-3zM133 100h1v1h-1zM129 101h1v1h-1zM129 102h2v1h-2zM125 103h3v1h-3zM129 103h1v1h-1zM124 104h2v1h-2zM126 105h3v1h-3zM123 106h1v1h-1zM125 106h4v1h-4zM124 107h3v1h-3zM128 107h2v1h-2zM121 108h1v1h-1zM126 108h3v1h-3zM124 109h3v1h-3zM125 110h1v1h-1zM122 111h1v1h-1zM124 111h3v1h-3zM121 112h5v1h-5zM121 113h1v1h-1zM123 113h3v1h-3zM121 114h4v1h-4zM120 115h5v1h-5z"/><path fill="#20a5e3" d="M123 0h2v1h-2zM122 1h3v1h-3zM123 2h2v1h-2zM127 2h1v1h-1zM124 3h1v1h-1zM126 3h1v1h-1zM128 3h1v1h-1zM125 4h1v1h-1zM126 5h2v1h-2zM131 95h1v1h-1zM128 96h1v1h-1zM126 97h2v1h-2zM124 98h4v1h-4zM130 98h1v1h-1zM123 99h4v1h-4zM120 100h7v1h-7zM128 100h1v1h-1zM119 101h1v1h-1zM121 101h1v1h-1zM124 101h5v1h-5zM120 102h1v1h-1zM123 102h5v1h-5zM120 103h5v1h-5zM123 104h1v1h-1zM126 104h2v1h-2zM119 105h7v1h-7zM119 106h1v1h-1zM121 106h2v1h-2zM124 106h1v1h-1zM120 107h4v1h-4zM118 108h1v1h-1zM120 108h1v1h-1zM122 108h3v1h-3zM117 109h1v1h-1zM119 109h5v1h-5zM117 110h8v1h-8zM115 111h1v1h-1zM117 111h5v1h-5zM123 111h1v1h-1zM115 112h1v1h-1zM117 112h1v1h-1zM119 112h2v1h-2zM114 113h2v1h-2zM117 113h4v1h-4zM122 113h1v1h-1zM115 114h1v1h-1zM117 114h4v1h-4zM115 115h5v1h-5z"/><path fill="#1ca9df" d="M117 0h6v1h-6zM116 1h1v1h-1zM118 1h1v1h-1zM120 1h2v1h-2zM119 2h4v1h-4zM119 3h3v1h-3zM123 3h1v1h-1zM125 3h1v1h-1zM119 4h1v1h-1zM121 4h4v1h-4zM126 4h1v1h-1zM120 5h1v1h-1zM122 5h4v1h-4zM119 6h1v1h-1zM121 6h1v1h-1zM123 6h3v1h-3zM120 7h3v1h-3zM122 99h1v1h-1zM118 101h1v1h-1zM120 101h1v1h-1zM122 101h2v1h-2zM115 102h5v1h-5zM121 102h2v1h-2zM114 103h6v1h-6zM112 104h11v1h-11zM112 105h7v1h-7zM110 106h1v1h-1zM113 106h6v1h-6zM120 106h1v1h-1zM108 107h1v1h-1zM111 107h9v1h-9zM111 108h7v1h-7zM119 108h1v1h-1zM110 109h2v1h-2zM113 109h4v1h-4zM118 109h1v1h-1zM109 110h2v1h-2zM112 110h5v1h-5zM108 111h1v1h-1zM110 111h5v1h-5zM116 111h1v1h-1zM108 112h3v1h-3zM112 112h3v1h-3zM116 112h1v1h-1zM118 112h1v1h-1zM108 113h2v1h-2zM111 113h3v1h-3zM116 113h1v1h-1zM108 114h2v1h-2zM111 114h4v1h-4zM116 114h1v1h-1zM106 115h9v1h-9z"/><path fill="#18addb" d="M110 0h1v1h-1zM113 0h4v1h-4zM108 1h1v1h-1zM112 1h4v1h-4zM117 1h1v1h-1zM119 1h1v1h-1zM111 2h8v1h-8zM110 3h2v1h-2zM113 3h6v1h-6zM122 3h1v1h-1zM113 4h6v1h-6zM120 4h1v1h-1zM112 5h1v1h-1zM114 5h6v1h-6zM121 5h1v1h-1zM114 6h5v1h-5zM120 6h1v1h-1zM122 6h1v1h-1zM111 7h1v1h-1zM115 7h5v1h-5zM112 8h1v1h-1zM114 8h3v1h-3zM118 8h2v1h-2zM115 9h2v1h-2zM113 10h1v1h-1zM112 103h2v1h-2zM107 104h5v1h-5zM101 105h1v1h-1zM104 105h8v1h-8zM104 106h6v1h-6zM111 106h2v1h-2zM103 107h5v1h-5zM109 107h2v1h-2zM100 108h1v1h-1zM102 108h9v1h-9zM101 109h1v1h-1zM103 109h7v1h-7zM112 109h1v1h-1zM100 110h9v1h-9zM111 110h1v1h-1zM98 111h10v1h-10zM109 111h1v1h-1zM97 112h1v1h-1zM100 112h8v1h-8zM111 112h1v1h-1zM99 113h9v1h-9zM110 113h1v1h-1zM97 114h1v1h-1zM99 114h9v1h-9zM110 114h1v1h-1zM97 115h9v1h-9z"/><path fill="#12b1d6" d="M101 0h9v1h-9zM111 0h2v1h-2zM102 1h6v1h-6zM109 1h3v1h-3zM102 2h9v1h-9zM103 3h7v1h-7zM112 3h1v1h-1zM102 4h11v1h-11zM103 5h9v1h-9zM113 5h1v1h-1zM104 6h10v1h-10zM106 7h5v1h-5zM112 7h3v1h-3zM105 8h7v1h-7zM113 8h1v1h-1zM117 8h1v1h-1zM105 9h3v1h-3zM109 9h6v1h-6zM107 10h6v1h-6zM114 10h1v1h-1zM105 11h1v1h-1zM109 11h4v1h-4zM106 12h1v1h-1zM109 12h2v1h-2zM107 13h2v1h-2zM98 105h3v1h-3zM102 105h2v1h-2zM93 106h11v1h-11zM90 107h1v1h-1zM92 107h11v1h-11zM90 108h10v1h-10zM101 108h1v1h-1zM89 109h1v1h-1zM92 109h9v1h-9zM102 109h1v1h-1zM91 110h9v1h-9zM89 111h9v1h-9zM89 112h8v1h-8zM98 112h2v1h-2zM86 113h1v1h-1zM88 113h11v1h-11zM87 114h10v1h-10zM98 114h1v1h-1zM85 115h1v1h-1zM87 115h10v1h-10z"/><path fill="#08b5d0" d="M92 0h9v1h-9zM91 1h11v1h-11zM93 2h9v1h-9zM94 3h9v1h-9zM93 4h9v1h-9zM90 5h1v1h-1zM94 5h9v1h-9zM94 6h10v1h-10zM93 7h1v1h-1zM95 7h11v1h-11zM95 8h10v1h-10zM95 9h10v1h-10zM108 9h1v1h-1zM96 10h11v1h-11zM97 11h8v1h-8zM106 11h3v1h-3zM95 12h1v1h-1zM98 12h8v1h-8zM107 12h2v1h-2zM97 13h10v1h-10zM98 14h9v1h-9zM99 15h6v1h-6zM101 16h3v1h-3zM98 17h2v1h-2zM101 17h2v1h-2zM100 18h2v1h-2zM100 19h1v1h-1zM88 106h5v1h-5zM80 107h1v1h-1zM82 107h8v1h-8zM91 107h1v1h-1zM81 108h9v1h-9zM77 109h2v1h-2zM80 109h9v1h-9zM90 109h2v1h-2zM78 110h13v1h-13zM76 111h2v1h-2zM79 111h10v1h-10zM75 112h1v1h-1zM77 112h12v1h-12zM75 113h1v1h-1zM77 113h9v1h-9zM87 113h1v1h-1zM75 114h12v1h-12zM69 115h1v1h-1zM71 115h2v1h-2zM74 115h11v1h-11zM86 115h1v1h-1z"/><path fill="#01b8ca" d="M81 0h11v1h-11zM81 1h10v1h-10zM81 2h3v1h-3zM85 2h8v1h-8zM82 3h12v1h-12zM81 4h12v1h-12zM83 5h7v1h-7zM91 5h3v1h-3zM81 6h13v1h-13zM82 7h11v1h-11zM94 7h1v1h-1zM81 8h1v1h-1zM83 8h1v1h-1zM85 8h10v1h-10zM81 9h1v1h-1zM83 9h12v1h-12zM84 10h1v1h-1zM86 10h10v1h-10zM84 11h13v1h-13zM83 12h3v1h-3zM87 12h8v1h-8zM96 12h2v1h-2zM83 13h14v1h-14zM87 14h11v1h-11zM86 15h13v1h-13zM87 16h14v1h-14zM88 17h10v1h-10zM100 17h1v1h-1zM86 18h1v1h-1zM88 18h12v1h-12zM92 19h8v1h-8zM87 20h1v1h-1zM89 20h10v1h-10zM88 21h1v1h-1zM90 21h7v1h-7zM92 22h2v1h-2zM91 23h1v1h-1zM71 107h9v1h-9zM81 107h1v1h-1zM68 108h1v1h-1zM70 108h11v1h-11zM67 109h1v1h-1zM69 109h8v1h-8zM79 109h1v1h-1zM66 110h12v1h-12zM65 111h11v1h-11zM78 111h1v1h-1zM62 112h13v1h-13zM76 112h1v1h-1zM62 113h13v1h-13zM76 113h1v1h-1zM58 114h17v1h-17zM55 115h2v1h-2zM58 115h11v1h-11zM70 115h1v1h-1zM73 115h1v1h-1z"/><path fill="#02bac3" d="M69 0h12v1h-12zM72 1h9v1h-9zM71 2h10v1h-10zM84 2h1v1h-1zM69 3h1v1h-1zM71 3h11v1h-11zM70 4h1v1h-1zM72 4h9v1h-9zM69 5h1v1h-1zM72 5h11v1h-11zM70 6h11v1h-11zM70 7h1v1h-1zM72 7h10v1h-10zM70 8h11v1h-11zM82 8h1v1h-1zM84 8h1v1h-1zM71 9h1v1h-1zM73 9h8v1h-8zM82 9h1v1h-1zM72 10h12v1h-12zM85 10h1v1h-1zM70 11h1v1h-1zM73 11h11v1h-11zM72 12h11v1h-11zM86 12h1v1h-1zM70 13h13v1h-13zM72 14h1v1h-1zM75 14h12v1h-12zM72 15h1v1h-1zM74 15h12v1h-12zM71 16h1v1h-1zM73 16h14v1h-14zM74 17h14v1h-14zM75 18h11v1h-11zM87 18h1v1h-1zM75 19h17v1h-17zM75 20h2v1h-2zM78 20h9v1h-9zM88 20h1v1h-1zM78 21h10v1h-10zM89 21h1v1h-1zM79 22h13v1h-13zM81 23h10v1h-10zM161 34h1v1h-1zM166 42h1v1h-1zM166 46h1v1h-1zM166 63h1v1h-1zM58 105h4v1h-4zM63 105h1v1h-1zM56 106h1v1h-1zM58 106h10v1h-10zM52 107h1v1h-1zM56 107h15v1h-15zM55 108h13v1h-13zM69 108h1v1h-1zM54 109h13v1h-13zM68 109h1v1h-1zM50 110h16v1h-16zM49 111h16v1h-16zM48 112h14v1h-14zM47 113h15v1h-15zM47 114h11v1h-11zM46 115h9v1h-9zM57 115h1v1h-1z"/><path fill="#0bbdbd" d="M36 0h2v1h-2zM39 0h7v1h-7zM47 0h22v1h-22zM38 1h2v1h-2zM41 1h1v1h-1zM44 1h2v1h-2zM47 1h4v1h-4zM52 1h20v1h-20zM43 2h1v1h-1zM47 2h24v1h-24zM47 3h2v1h-2zM50 3h1v1h-1zM52 3h1v1h-1zM54 3h1v1h-1zM56 3h13v1h-13zM70 3h1v1h-1zM52 4h1v1h-1zM54 4h16v1h-16zM71 4h1v1h-1zM54 5h2v1h-2zM58 5h1v1h-1zM60 5h9v1h-9zM70 5h2v1h-2zM54 6h1v1h-1zM57 6h13v1h-13zM57 7h2v1h-2zM60 7h1v1h-1zM62 7h8v1h-8zM71 7h1v1h-1zM60 8h10v1h-10zM60 9h11v1h-11zM72 9h1v1h-1zM60 10h12v1h-12zM61 11h9v1h-9zM71 11h2v1h-2zM62 12h10v1h-10zM61 13h2v1h-2zM64 13h6v1h-6zM62 14h10v1h-10zM73 14h2v1h-2zM61 15h11v1h-11zM73 15h1v1h-1zM61 16h10v1h-10zM72 16h1v1h-1zM62 17h12v1h-12zM65 18h10v1h-10zM70 19h5v1h-5zM73 20h2v1h-2zM77 20h1v1h-1zM76 21h2v1h-2zM162 33h1v1h-1zM165 37h1v1h-1zM165 43h1v1h-1zM165 46h1v1h-1zM165 52h1v1h-1zM169 55h1v1h-1zM167 62h1v1h-1zM165 65h1v1h-1zM49 100h2v1h-2zM48 101h3v1h-3zM52 101h2v1h-2zM47 102h1v1h-1zM49 102h8v1h-8zM48 103h11v1h-11zM45 104h1v1h-1zM47 104h14v1h-14zM43 105h15v1h-15zM62 105h1v1h-1zM41 106h2v1h-2zM44 106h12v1h-12zM57 106h1v1h-1zM43 107h9v1h-9zM53 107h3v1h-3zM43 108h12v1h-12zM43 109h11v1h-11zM39 110h1v1h-1zM41 110h9v1h-9zM39 111h10v1h-10zM39 112h9v1h-9zM36 113h11v1h-11zM34 114h13v1h-13zM29 115h1v1h-1zM33 115h1v1h-1zM35 115h11v1h-11z"/><path fill="#19bfb6" d="M23 0h13v1h-13zM38 0h1v1h-1zM46 0h1v1h-1zM24 1h14v1h-14zM40 1h1v1h-1zM42 1h2v1h-2zM46 1h1v1h-1zM51 1h1v1h-1zM23 2h20v1h-20zM44 2h3v1h-3zM24 3h23v1h-23zM49 3h1v1h-1zM51 3h1v1h-1zM53 3h1v1h-1zM55 3h1v1h-1zM26 4h26v1h-26zM53 4h1v1h-1zM26 5h1v1h-1zM29 5h25v1h-25zM56 5h2v1h-2zM59 5h1v1h-1zM26 6h1v1h-1zM28 6h1v1h-1zM30 6h24v1h-24zM55 6h2v1h-2zM28 7h1v1h-1zM30 7h27v1h-27zM59 7h1v1h-1zM61 7h1v1h-1zM28 8h3v1h-3zM32 8h28v1h-28zM30 9h2v1h-2zM33 9h27v1h-27zM32 10h5v1h-5zM38 10h22v1h-22zM31 11h4v1h-4zM38 11h23v1h-23zM34 12h1v1h-1zM37 12h8v1h-8zM46 12h16v1h-16zM37 13h2v1h-2zM40 13h1v1h-1zM45 13h4v1h-4zM50 13h11v1h-11zM63 13h1v1h-1zM39 14h1v1h-1zM43 14h1v1h-1zM47 14h15v1h-15zM57 15h4v1h-4zM59 16h2v1h-2zM156 19h1v1h-1zM157 21h2v1h-2zM158 26h1v1h-1zM158 28h1v1h-1zM158 35h1v1h-1zM162 35h1v1h-1zM161 36h1v1h-1zM163 38h1v1h-1zM162 40h2v1h-2zM165 41h1v1h-1zM163 44h1v1h-1zM165 44h1v1h-1zM166 45h1v1h-1zM168 45h1v1h-1zM167 46h1v1h-1zM167 47h2v1h-2zM167 48h1v1h-1zM163 49h1v1h-1zM167 49h1v1h-1zM161 50h1v1h-1zM163 50h1v1h-1zM168 50h1v1h-1zM165 51h2v1h-2zM164 52h1v1h-1zM167 52h1v1h-1zM165 53h2v1h-2zM161 54h1v1h-1zM166 54h1v1h-1zM167 55h1v1h-1zM168 56h1v1h-1zM164 57h3v1h-3zM163 58h1v1h-1zM166 58h1v1h-1zM168 58h1v1h-1zM166 59h1v1h-1zM160 60h1v1h-1zM162 60h1v1h-1zM167 60h1v1h-1zM161 64h1v1h-1zM164 64h1v1h-1zM159 66h1v1h-1zM157 68h1v1h-1zM40 96h1v1h-1zM38 97h1v1h-1zM40 97h3v1h-3zM38 98h7v1h-7zM38 99h10v1h-10zM37 100h12v1h-12zM36 101h12v1h-12zM51 101h1v1h-1zM37 102h10v1h-10zM48 102h1v1h-1zM34 103h14v1h-14zM32 104h3v1h-3zM36 104h9v1h-9zM46 104h1v1h-1zM32 105h11v1h-11zM30 106h1v1h-1zM33 106h8v1h-8zM43 106h1v1h-1zM29 107h1v1h-1zM31 107h12v1h-12zM25 108h1v1h-1zM29 108h14v1h-14zM27 109h16v1h-16zM26 110h13v1h-13zM40 110h1v1h-1zM24 111h15v1h-15zM22 112h1v1h-1zM24 112h15v1h-15zM21 113h15v1h-15zM20 114h14v1h-14zM19 115h10v1h-10zM30 115h3v1h-3zM34 115h1v1h-1z"/><path fill="#24c1ae" d="M12 0h11v1h-11zM10 1h3v1h-3zM14 1h10v1h-10zM14 2h9v1h-9zM15 3h9v1h-9zM14 4h12v1h-12zM16 5h10v1h-10zM27 5h2v1h-2zM17 6h9v1h-9zM27 6h1v1h-1zM29 6h1v1h-1zM17 7h11v1h-11zM29 7h1v1h-1zM18 8h10v1h-10zM31 8h1v1h-1zM19 9h11v1h-11zM32 9h1v1h-1zM148 9h1v1h-1zM21 10h11v1h-11zM37 10h1v1h-1zM20 11h11v1h-11zM35 11h3v1h-3zM21 12h13v1h-13zM35 12h2v1h-2zM45 12h1v1h-1zM22 13h1v1h-1zM24 13h13v1h-13zM39 13h1v1h-1zM41 13h4v1h-4zM49 13h1v1h-1zM23 14h15v1h-15zM40 14h3v1h-3zM44 14h3v1h-3zM153 14h1v1h-1zM23 15h5v1h-5zM153 15h1v1h-1zM24 16h2v1h-2zM153 16h1v1h-1zM153 17h1v1h-1zM154 18h2v1h-2zM154 21h1v1h-1zM157 22h1v1h-1zM156 23h1v1h-1zM160 28h1v1h-1zM157 31h1v1h-1zM160 33h1v1h-1zM163 33h1v1h-1zM162 34h2v1h-2zM161 35h1v1h-1zM156 36h1v1h-1zM162 37h2v1h-2zM159 39h1v1h-1zM162 39h1v1h-1zM164 39h1v1h-1zM158 40h1v1h-1zM161 40h1v1h-1zM165 40h2v1h-2zM158 41h1v1h-1zM160 41h2v1h-2zM163 41h2v1h-2zM166 41h1v1h-1zM159 42h1v1h-1zM163 42h1v1h-1zM165 42h1v1h-1zM167 42h1v1h-1zM162 43h2v1h-2zM166 43h1v1h-1zM161 44h1v1h-1zM164 44h1v1h-1zM157 45h2v1h-2zM164 45h2v1h-2zM167 45h1v1h-1zM162 46h3v1h-3zM168 46h1v1h-1zM158 47h1v1h-1zM162 48h1v1h-1zM164 48h1v1h-1zM168 48h1v1h-1zM158 49h1v1h-1zM166 49h1v1h-1zM168 49h1v1h-1zM159 50h1v1h-1zM164 50h1v1h-1zM163 51h1v1h-1zM168 51h1v1h-1zM168 52h1v1h-1zM160 53h1v1h-1zM163 53h2v1h-2zM167 53h1v1h-1zM169 53h1v1h-1zM168 55h1v1h-1zM160 56h1v1h-1zM162 56h1v1h-1zM164 56h1v1h-1zM167 56h1v1h-1zM169 56h1v1h-1zM167 57h1v1h-1zM164 58h1v1h-1zM167 58h1v1h-1zM168 59h1v1h-1zM165 60h1v1h-1zM161 61h1v1h-1zM164 61h4v1h-4zM162 62h1v1h-1zM166 62h1v1h-1zM164 63h2v1h-2zM162 64h1v1h-1zM161 65h1v1h-1zM164 65h1v1h-1zM164 66h1v1h-1zM157 67h1v1h-1zM162 68h1v1h-1zM155 72h1v1h-1zM159 72h1v1h-1zM153 76h1v1h-1zM32 90h1v1h-1zM31 91h3v1h-3zM32 92h1v1h-1zM34 92h1v1h-1zM32 93h5v1h-5zM31 94h1v1h-1zM33 94h5v1h-5zM28 95h1v1h-1zM30 95h1v1h-1zM32 95h8v1h-8zM27 96h1v1h-1zM29 96h11v1h-11zM28 97h1v1h-1zM30 97h8v1h-8zM39 97h1v1h-1zM24 98h1v1h-1zM28 98h10v1h-10zM23 99h3v1h-3zM27 99h11v1h-11zM24 100h1v1h-1zM26 100h11v1h-11zM21 101h1v1h-1zM23 101h13v1h-13zM22 102h15v1h-15zM22 103h12v1h-12zM21 104h11v1h-11zM35 104h1v1h-1zM21 105h11v1h-11zM18 106h1v1h-1zM20 106h10v1h-10zM31 106h2v1h-2zM19 107h10v1h-10zM30 107h1v1h-1zM17 108h1v1h-1zM19 108h6v1h-6zM26 108h3v1h-3zM16 109h11v1h-11zM17 110h9v1h-9zM15 111h9v1h-9zM13 112h9v1h-9zM23 112h1v1h-1zM14 113h7v1h-7zM14 114h6v1h-6zM13 115h6v1h-6z"/><path fill="#2cc4a7" d="M4 0h8v1h-8zM5 1h5v1h-5zM13 1h1v1h-1zM6 2h8v1h-8zM5 3h10v1h-10zM6 4h8v1h-8zM7 5h9v1h-9zM9 6h8v1h-8zM9 7h8v1h-8zM9 8h9v1h-9zM10 9h9v1h-9zM11 10h10v1h-10zM11 11h1v1h-1zM13 11h7v1h-7zM148 11h1v1h-1zM13 12h8v1h-8zM148 12h2v1h-2zM12 13h10v1h-10zM23 13h1v1h-1zM148 13h1v1h-1zM152 13h1v1h-1zM13 14h10v1h-10zM15 15h8v1h-8zM150 15h1v1h-1zM152 15h1v1h-1zM14 16h10v1h-10zM26 16h1v1h-1zM154 16h1v1h-1zM16 17h9v1h-9zM149 17h1v1h-1zM152 17h1v1h-1zM155 17h1v1h-1zM16 18h7v1h-7zM147 18h1v1h-1zM153 18h1v1h-1zM17 19h4v1h-4zM149 19h1v1h-1zM151 19h1v1h-1zM153 19h1v1h-1zM155 19h1v1h-1zM17 20h3v1h-3zM19 21h1v1h-1zM18 22h1v1h-1zM152 22h1v1h-1zM154 22h2v1h-2zM152 24h1v1h-1zM155 24h1v1h-1zM158 24h2v1h-2zM151 25h1v1h-1zM159 25h1v1h-1zM148 26h1v1h-1zM150 26h1v1h-1zM154 26h1v1h-1zM156 26h1v1h-1zM153 27h1v1h-1zM156 27h1v1h-1zM158 27h2v1h-2zM150 28h1v1h-1zM156 28h1v1h-1zM159 28h1v1h-1zM153 29h1v1h-1zM157 29h1v1h-1zM160 29h2v1h-2zM159 30h3v1h-3zM153 31h1v1h-1zM159 31h1v1h-1zM161 31h1v1h-1zM161 32h2v1h-2zM159 33h1v1h-1zM161 33h1v1h-1zM164 34h1v1h-1zM155 35h1v1h-1zM159 35h1v1h-1zM151 36h1v1h-1zM158 36h1v1h-1zM160 36h1v1h-1zM162 36h3v1h-3zM156 37h1v1h-1zM159 37h1v1h-1zM164 37h1v1h-1zM158 38h1v1h-1zM161 38h2v1h-2zM164 38h1v1h-1zM156 39h1v1h-1zM163 39h1v1h-1zM165 39h2v1h-2zM160 40h1v1h-1zM164 40h1v1h-1zM156 41h1v1h-1zM154 42h1v1h-1zM158 42h1v1h-1zM161 42h2v1h-2zM154 43h1v1h-1zM160 43h1v1h-1zM164 43h1v1h-1zM167 43h1v1h-1zM162 44h1v1h-1zM167 44h1v1h-1zM153 45h1v1h-1zM162 45h2v1h-2zM159 46h1v1h-1zM161 46h1v1h-1zM159 47h1v1h-1zM161 47h1v1h-1zM164 47h2v1h-2zM156 48h1v1h-1zM157 49h1v1h-1zM159 49h1v1h-1zM162 49h1v1h-1zM164 49h2v1h-2zM157 50h1v1h-1zM162 50h1v1h-1zM151 51h1v1h-1zM160 51h1v1h-1zM162 51h1v1h-1zM167 51h1v1h-1zM157 52h1v1h-1zM162 52h2v1h-2zM157 53h1v1h-1zM168 53h1v1h-1zM158 54h1v1h-1zM165 54h1v1h-1zM167 54h1v1h-1zM169 54h1v1h-1zM159 55h1v1h-1zM163 55h3v1h-3zM157 56h1v1h-1zM161 56h1v1h-1zM163 56h1v1h-1zM153 57h1v1h-1zM161 57h3v1h-3zM158 58h1v1h-1zM160 58h1v1h-1zM161 59h1v1h-1zM153 60h1v1h-1zM157 60h1v1h-1zM166 60h1v1h-1zM160 61h1v1h-1zM162 61h1v1h-1zM165 62h1v1h-1zM161 63h3v1h-3zM153 64h1v1h-1zM156 64h1v1h-1zM160 64h1v1h-1zM165 64h2v1h-2zM155 65h1v1h-1zM160 65h1v1h-1zM158 66h1v1h-1zM161 66h1v1h-1zM163 66h1v1h-1zM156 67h1v1h-1zM158 67h1v1h-1zM162 67h2v1h-2zM154 68h1v1h-1zM156 68h1v1h-1zM161 69h1v1h-1zM154 70h1v1h-1zM159 70h2v1h-2zM153 71h1v1h-1zM156 72h1v1h-1zM156 73h2v1h-2zM157 75h1v1h-1zM150 84h1v1h-1zM26 86h1v1h-1zM25 87h3v1h-3zM23 88h7v1h-7zM19 89h1v1h-1zM23 89h1v1h-1zM25 89h6v1h-6zM19 90h2v1h-2zM24 90h8v1h-8zM19 91h2v1h-2zM22 91h9v1h-9zM18 92h1v1h-1zM20 92h12v1h-12zM33 92h1v1h-1zM19 93h13v1h-13zM18 94h13v1h-13zM32 94h1v1h-1zM18 95h10v1h-10zM29 95h1v1h-1zM31 95h1v1h-1zM16 96h11v1h-11zM28 96h1v1h-1zM16 97h12v1h-12zM29 97h1v1h-1zM14 98h1v1h-1zM17 98h7v1h-7zM25 98h3v1h-3zM15 99h8v1h-8zM26 99h1v1h-1zM16 100h8v1h-8zM25 100h1v1h-1zM15 101h6v1h-6zM22 101h1v1h-1zM13 102h1v1h-1zM15 102h7v1h-7zM15 103h7v1h-7zM14 104h7v1h-7zM12 105h9v1h-9zM12 106h6v1h-6zM19 106h1v1h-1zM12 107h7v1h-7zM11 108h6v1h-6zM18 108h1v1h-1zM10 109h6v1h-6zM9 110h8v1h-8zM8 111h7v1h-7zM8 112h5v1h-5zM6 113h8v1h-8zM7 114h7v1h-7zM4 115h2v1h-2zM7 115h6v1h-6z"/><path fill="#31c69f" d="M0 0h4v1h-4zM0 1h5v1h-5zM2 2h4v1h-4zM1 3h4v1h-4zM3 4h3v1h-3zM2 5h5v1h-5zM4 6h5v1h-5zM4 7h5v1h-5zM145 7h2v1h-2zM4 8h5v1h-5zM147 8h1v1h-1zM5 9h5v1h-5zM142 9h2v1h-2zM4 10h7v1h-7zM6 11h5v1h-5zM12 11h1v1h-1zM5 12h8v1h-8zM146 12h2v1h-2zM6 13h6v1h-6zM137 13h1v1h-1zM146 13h1v1h-1zM6 14h7v1h-7zM147 14h1v1h-1zM149 14h1v1h-1zM152 14h1v1h-1zM8 15h7v1h-7zM154 15h1v1h-1zM7 16h7v1h-7zM150 16h2v1h-2zM9 17h7v1h-7zM9 18h7v1h-7zM151 18h1v1h-1zM9 19h8v1h-8zM145 19h1v1h-1zM147 19h1v1h-1zM150 19h1v1h-1zM154 19h1v1h-1zM12 20h5v1h-5zM152 20h1v1h-1zM155 20h3v1h-3zM11 21h8v1h-8zM144 21h1v1h-1zM150 21h1v1h-1zM152 21h1v1h-1zM13 22h5v1h-5zM151 22h1v1h-1zM158 22h1v1h-1zM12 23h6v1h-6zM150 23h1v1h-1zM155 23h1v1h-1zM157 23h2v1h-2zM12 24h6v1h-6zM151 24h1v1h-1zM153 24h2v1h-2zM156 24h1v1h-1zM13 25h4v1h-4zM156 25h1v1h-1zM14 26h3v1h-3zM149 26h1v1h-1zM152 26h2v1h-2zM157 26h1v1h-1zM15 27h1v1h-1zM157 27h1v1h-1zM160 27h1v1h-1zM151 28h1v1h-1zM154 28h1v1h-1zM157 28h1v1h-1zM161 28h1v1h-1zM150 29h1v1h-1zM158 29h2v1h-2zM151 30h1v1h-1zM156 30h1v1h-1zM148 31h1v1h-1zM156 31h1v1h-1zM158 31h1v1h-1zM160 31h1v1h-1zM162 31h1v1h-1zM160 32h1v1h-1zM151 33h3v1h-3zM158 33h1v1h-1zM148 34h1v1h-1zM155 34h2v1h-2zM160 34h1v1h-1zM154 35h1v1h-1zM156 35h1v1h-1zM160 35h1v1h-1zM154 36h1v1h-1zM158 37h1v1h-1zM161 37h1v1h-1zM155 38h1v1h-1zM157 38h1v1h-1zM159 38h1v1h-1zM165 38h1v1h-1zM155 39h1v1h-1zM157 39h1v1h-1zM161 39h1v1h-1zM155 40h1v1h-1zM159 40h1v1h-1zM159 41h1v1h-1zM155 42h1v1h-1zM157 42h1v1h-1zM160 42h1v1h-1zM157 43h2v1h-2zM161 43h1v1h-1zM156 44h2v1h-2zM159 44h1v1h-1zM166 44h1v1h-1zM161 45h1v1h-1zM160 46h1v1h-1zM160 47h1v1h-1zM163 47h1v1h-1zM166 47h1v1h-1zM158 48h4v1h-4zM165 48h1v1h-1zM154 49h1v1h-1zM160 49h2v1h-2zM155 50h2v1h-2zM165 50h3v1h-3zM150 51h1v1h-1zM157 51h1v1h-1zM161 51h1v1h-1zM164 51h1v1h-1zM160 52h2v1h-2zM166 52h1v1h-1zM161 53h2v1h-2zM150 54h1v1h-1zM152 54h1v1h-1zM160 54h1v1h-1zM168 54h1v1h-1zM158 55h1v1h-1zM162 55h1v1h-1zM166 55h1v1h-1zM158 56h1v1h-1zM165 56h2v1h-2zM155 57h1v1h-1zM158 57h3v1h-3zM168 57h2v1h-2zM151 58h1v1h-1zM159 58h1v1h-1zM161 58h2v1h-2zM153 59h1v1h-1zM155 59h1v1h-1zM157 59h1v1h-1zM159 59h1v1h-1zM163 59h2v1h-2zM167 59h1v1h-1zM152 60h1v1h-1zM161 60h1v1h-1zM163 60h1v1h-1zM158 61h1v1h-1zM153 62h1v1h-1zM157 62h4v1h-4zM163 62h2v1h-2zM151 63h1v1h-1zM156 63h4v1h-4zM155 64h1v1h-1zM157 64h3v1h-3zM163 64h1v1h-1zM158 65h2v1h-2zM162 65h1v1h-1zM152 67h2v1h-2zM160 67h2v1h-2zM152 68h1v1h-1zM159 68h3v1h-3zM150 69h1v1h-1zM158 70h1v1h-1zM161 70h1v1h-1zM159 71h2v1h-2zM151 72h1v1h-1zM153 72h1v1h-1zM155 73h1v1h-1zM151 74h1v1h-1zM155 75h1v1h-1zM152 76h1v1h-1zM155 76h1v1h-1zM153 77h1v1h-1zM149 78h1v1h-1zM150 79h1v1h-1zM152 79h2v1h-2zM140 80h1v1h-1zM151 80h1v1h-1zM153 80h1v1h-1zM20 82h3v1h-3zM150 82h1v1h-1zM20 83h4v1h-4zM17 84h2v1h-2zM20 84h5v1h-5zM17 85h9v1h-9zM15 86h11v1h-11zM15 87h10v1h-10zM14 88h9v1h-9zM13 89h6v1h-6zM20 89h3v1h-3zM24 89h1v1h-1zM13 90h6v1h-6zM21 90h3v1h-3zM13 91h6v1h-6zM21 91h1v1h-1zM12 92h1v1h-1zM14 92h4v1h-4zM19 92h1v1h-1zM13 93h6v1h-6zM13 94h5v1h-5zM12 95h6v1h-6zM11 96h5v1h-5zM11 97h5v1h-5zM10 98h4v1h-4zM15 98h2v1h-2zM10 99h5v1h-5zM9 100h7v1h-7zM9 101h6v1h-6zM9 102h4v1h-4zM14 102h1v1h-1zM8 103h7v1h-7zM7 104h7v1h-7zM7 105h5v1h-5zM6 106h6v1h-6zM5 107h7v1h-7zM4 108h7v1h-7zM3 109h7v1h-7zM2 110h7v1h-7zM1 111h7v1h-7zM1 112h7v1h-7zM0 113h6v1h-6zM0 114h7v1h-7zM0 115h4v1h-4zM6 115h1v1h-1z"/><path fill="#37c897" d="M0 2h2v1h-2zM0 3h1v1h-1zM0 4h3v1h-3zM0 5h2v1h-2zM140 5h1v1h-1zM0 6h4v1h-4zM138 6h2v1h-2zM142 6h2v1h-2zM0 7h4v1h-4zM139 7h1v1h-1zM147 7h1v1h-1zM0 8h4v1h-4zM141 8h1v1h-1zM0 9h5v1h-5zM141 9h1v1h-1zM144 9h4v1h-4zM1 10h3v1h-3zM148 10h2v1h-2zM1 11h5v1h-5zM138 11h1v1h-1zM144 11h3v1h-3zM2 12h3v1h-3zM144 12h1v1h-1zM150 12h1v1h-1zM2 13h4v1h-4zM147 13h1v1h-1zM151 13h1v1h-1zM3 14h3v1h-3zM138 14h2v1h-2zM148 14h1v1h-1zM151 14h1v1h-1zM4 15h4v1h-4zM144 15h1v1h-1zM146 15h1v1h-1zM148 15h1v1h-1zM151 15h1v1h-1zM4 16h3v1h-3zM145 16h1v1h-1zM147 16h2v1h-2zM152 16h1v1h-1zM4 17h5v1h-5zM146 17h1v1h-1zM150 17h2v1h-2zM5 18h4v1h-4zM144 18h1v1h-1zM148 18h1v1h-1zM150 18h1v1h-1zM5 19h4v1h-4zM5 20h7v1h-7zM145 20h2v1h-2zM151 20h1v1h-1zM153 20h2v1h-2zM6 21h5v1h-5zM147 21h1v1h-1zM149 21h1v1h-1zM151 21h1v1h-1zM155 21h2v1h-2zM7 22h6v1h-6zM144 22h1v1h-1zM148 22h2v1h-2zM153 22h1v1h-1zM156 22h1v1h-1zM6 23h6v1h-6zM143 23h1v1h-1zM146 23h2v1h-2zM153 23h2v1h-2zM7 24h5v1h-5zM142 24h1v1h-1zM145 24h3v1h-3zM149 24h1v1h-1zM7 25h6v1h-6zM142 25h1v1h-1zM145 25h2v1h-2zM152 25h4v1h-4zM158 25h1v1h-1zM9 26h5v1h-5zM143 26h1v1h-1zM155 26h1v1h-1zM159 26h1v1h-1zM10 27h5v1h-5zM147 27h1v1h-1zM149 27h3v1h-3zM155 27h1v1h-1zM11 28h5v1h-5zM148 28h1v1h-1zM153 28h1v1h-1zM155 28h1v1h-1zM12 29h3v1h-3zM155 29h2v1h-2zM12 30h3v1h-3zM152 30h1v1h-1zM154 30h2v1h-2zM157 30h2v1h-2zM13 31h1v1h-1zM149 31h3v1h-3zM155 31h1v1h-1zM13 32h1v1h-1zM147 32h1v1h-1zM151 32h2v1h-2zM157 32h3v1h-3zM150 33h1v1h-1zM154 33h1v1h-1zM147 34h1v1h-1zM150 34h3v1h-3zM154 34h1v1h-1zM157 34h3v1h-3zM157 35h1v1h-1zM163 35h2v1h-2zM153 36h1v1h-1zM149 37h1v1h-1zM152 37h1v1h-1zM157 37h1v1h-1zM160 37h1v1h-1zM140 38h1v1h-1zM152 38h1v1h-1zM154 38h1v1h-1zM156 38h1v1h-1zM160 38h1v1h-1zM147 39h2v1h-2zM152 39h2v1h-2zM158 39h1v1h-1zM160 39h1v1h-1zM148 40h1v1h-1zM152 40h2v1h-2zM157 40h1v1h-1zM148 41h1v1h-1zM150 41h2v1h-2zM153 41h1v1h-1zM162 41h1v1h-1zM151 42h2v1h-2zM156 42h1v1h-1zM164 42h1v1h-1zM159 43h1v1h-1zM148 44h1v1h-1zM153 44h3v1h-3zM158 44h1v1h-1zM160 44h1v1h-1zM149 45h1v1h-1zM152 45h1v1h-1zM156 45h1v1h-1zM159 45h2v1h-2zM146 46h2v1h-2zM152 46h1v1h-1zM155 46h2v1h-2zM145 47h1v1h-1zM151 47h2v1h-2zM162 47h1v1h-1zM151 48h2v1h-2zM154 48h2v1h-2zM166 48h1v1h-1zM153 49h1v1h-1zM142 50h1v1h-1zM148 50h1v1h-1zM151 50h2v1h-2zM154 50h1v1h-1zM158 50h1v1h-1zM160 50h1v1h-1zM149 51h1v1h-1zM153 51h1v1h-1zM156 51h1v1h-1zM158 51h1v1h-1zM148 52h1v1h-1zM154 52h1v1h-1zM156 52h1v1h-1zM158 52h2v1h-2zM152 53h1v1h-1zM155 53h2v1h-2zM158 53h1v1h-1zM154 54h2v1h-2zM157 54h1v1h-1zM162 54h3v1h-3zM150 55h1v1h-1zM152 55h1v1h-1zM154 55h2v1h-2zM161 55h1v1h-1zM149 56h1v1h-1zM154 56h2v1h-2zM159 56h1v1h-1zM151 57h2v1h-2zM156 57h2v1h-2zM155 58h3v1h-3zM165 58h1v1h-1zM149 59h1v1h-1zM151 59h1v1h-1zM158 59h1v1h-1zM160 59h1v1h-1zM162 59h1v1h-1zM165 59h1v1h-1zM146 60h1v1h-1zM151 60h1v1h-1zM154 60h2v1h-2zM158 60h1v1h-1zM164 60h1v1h-1zM146 61h1v1h-1zM153 61h1v1h-1zM155 61h2v1h-2zM163 61h1v1h-1zM152 62h1v1h-1zM156 62h1v1h-1zM155 63h1v1h-1zM160 63h1v1h-1zM154 64h1v1h-1zM145 65h1v1h-1zM147 65h1v1h-1zM153 65h2v1h-2zM157 65h1v1h-1zM163 65h1v1h-1zM152 66h6v1h-6zM160 66h1v1h-1zM162 66h1v1h-1zM148 67h2v1h-2zM154 67h2v1h-2zM159 67h1v1h-1zM142 68h1v1h-1zM147 68h2v1h-2zM153 68h1v1h-1zM155 68h1v1h-1zM154 69h3v1h-3zM159 69h1v1h-1zM150 70h1v1h-1zM152 71h1v1h-1zM154 71h2v1h-2zM158 71h1v1h-1zM147 72h1v1h-1zM152 72h1v1h-1zM158 72h1v1h-1zM144 73h1v1h-1zM154 73h1v1h-1zM147 74h1v1h-1zM150 74h1v1h-1zM153 74h6v1h-6zM146 75h1v1h-1zM150 75h1v1h-1zM152 75h3v1h-3zM156 75h1v1h-1zM146 76h1v1h-1zM156 76h1v1h-1zM152 77h1v1h-1zM154 77h2v1h-2zM150 78h2v1h-2zM153 78h1v1h-1zM16 79h1v1h-1zM18 79h2v1h-2zM15 80h6v1h-6zM147 80h1v1h-1zM152 80h1v1h-1zM15 81h7v1h-7zM144 81h1v1h-1zM151 81h1v1h-1zM153 81h1v1h-1zM14 82h6v1h-6zM149 82h1v1h-1zM152 82h1v1h-1zM13 83h7v1h-7zM147 83h1v1h-1zM151 83h1v1h-1zM12 84h5v1h-5zM19 84h1v1h-1zM148 84h2v1h-2zM12 85h5v1h-5zM142 85h1v1h-1zM146 85h1v1h-1zM11 86h4v1h-4zM11 87h4v1h-4zM137 87h2v1h-2zM144 87h1v1h-1zM10 88h4v1h-4zM142 88h1v1h-1zM10 89h3v1h-3zM9 90h4v1h-4zM9 91h4v1h-4zM9 92h3v1h-3zM13 92h1v1h-1zM8 93h5v1h-5zM7 94h6v1h-6zM6 95h1v1h-1zM8 95h4v1h-4zM6 96h5v1h-5zM7 97h4v1h-4zM5 98h5v1h-5zM5 99h5v1h-5zM3 100h6v1h-6zM2 101h7v1h-7zM2 102h7v1h-7zM1 103h7v1h-7zM0 104h7v1h-7zM0 105h7v1h-7zM0 106h6v1h-6zM0 107h5v1h-5zM0 108h4v1h-4zM0 109h3v1h-3zM0 110h2v1h-2zM0 111h1v1h-1zM0 112h1v1h-1z"/><path fill="#3fca8e" d="M136 5h4v1h-4zM131 6h1v1h-1zM136 6h2v1h-2zM141 6h1v1h-1zM131 7h1v1h-1zM137 7h1v1h-1zM140 7h2v1h-2zM143 7h2v1h-2zM132 8h1v1h-1zM138 8h1v1h-1zM144 8h2v1h-2zM133 9h1v1h-1zM136 9h1v1h-1zM139 9h1v1h-1zM0 10h1v1h-1zM137 10h2v1h-2zM142 10h1v1h-1zM145 10h3v1h-3zM0 11h1v1h-1zM129 11h1v1h-1zM134 11h1v1h-1zM139 11h1v1h-1zM142 11h1v1h-1zM147 11h1v1h-1zM149 11h2v1h-2zM0 12h2v1h-2zM133 12h3v1h-3zM137 12h1v1h-1zM139 12h1v1h-1zM142 12h2v1h-2zM0 13h2v1h-2zM136 13h1v1h-1zM138 13h1v1h-1zM143 13h1v1h-1zM150 13h1v1h-1zM0 14h3v1h-3zM133 14h1v1h-1zM140 14h3v1h-3zM144 14h3v1h-3zM150 14h1v1h-1zM0 15h4v1h-4zM133 15h1v1h-1zM135 15h2v1h-2zM139 15h1v1h-1zM141 15h1v1h-1zM143 15h1v1h-1zM145 15h1v1h-1zM0 16h4v1h-4zM130 16h1v1h-1zM132 16h1v1h-1zM135 16h1v1h-1zM142 16h1v1h-1zM144 16h1v1h-1zM146 16h1v1h-1zM149 16h1v1h-1zM155 16h1v1h-1zM0 17h4v1h-4zM136 17h1v1h-1zM139 17h1v1h-1zM141 17h1v1h-1zM143 17h3v1h-3zM147 17h1v1h-1zM1 18h4v1h-4zM142 18h2v1h-2zM145 18h2v1h-2zM149 18h1v1h-1zM152 18h1v1h-1zM2 19h3v1h-3zM139 19h1v1h-1zM146 19h1v1h-1zM2 20h3v1h-3zM137 20h2v1h-2zM143 20h2v1h-2zM148 20h3v1h-3zM2 21h4v1h-4zM134 21h1v1h-1zM136 21h1v1h-1zM138 21h1v1h-1zM141 21h1v1h-1zM143 21h1v1h-1zM148 21h1v1h-1zM3 22h4v1h-4zM136 22h1v1h-1zM138 22h1v1h-1zM142 22h2v1h-2zM146 22h1v1h-1zM3 23h3v1h-3zM138 23h1v1h-1zM140 23h1v1h-1zM145 23h1v1h-1zM148 23h1v1h-1zM151 23h1v1h-1zM4 24h3v1h-3zM129 24h1v1h-1zM135 24h1v1h-1zM140 24h2v1h-2zM143 24h1v1h-1zM148 24h1v1h-1zM150 24h1v1h-1zM157 24h1v1h-1zM5 25h2v1h-2zM141 25h1v1h-1zM144 25h1v1h-1zM147 25h1v1h-1zM150 25h1v1h-1zM157 25h1v1h-1zM5 26h4v1h-4zM142 26h1v1h-1zM144 26h3v1h-3zM6 27h4v1h-4zM135 27h1v1h-1zM142 27h1v1h-1zM144 27h1v1h-1zM148 27h1v1h-1zM154 27h1v1h-1zM7 28h4v1h-4zM138 28h1v1h-1zM146 28h1v1h-1zM152 28h1v1h-1zM7 29h5v1h-5zM134 29h1v1h-1zM137 29h1v1h-1zM140 29h1v1h-1zM142 29h1v1h-1zM151 29h2v1h-2zM154 29h1v1h-1zM8 30h4v1h-4zM141 30h1v1h-1zM144 30h1v1h-1zM148 30h2v1h-2zM153 30h1v1h-1zM8 31h5v1h-5zM138 31h1v1h-1zM140 31h1v1h-1zM142 31h1v1h-1zM145 31h1v1h-1zM152 31h1v1h-1zM154 31h1v1h-1zM9 32h4v1h-4zM136 32h1v1h-1zM139 32h2v1h-2zM142 32h1v1h-1zM144 32h1v1h-1zM146 32h1v1h-1zM148 32h3v1h-3zM153 32h4v1h-4zM11 33h2v1h-2zM142 33h2v1h-2zM145 33h1v1h-1zM147 33h3v1h-3zM156 33h2v1h-2zM11 34h2v1h-2zM137 34h1v1h-1zM141 34h1v1h-1zM144 34h2v1h-2zM149 34h1v1h-1zM153 34h1v1h-1zM141 35h3v1h-3zM150 35h4v1h-4zM11 36h1v1h-1zM136 36h1v1h-1zM139 36h2v1h-2zM142 36h2v1h-2zM145 36h1v1h-1zM147 36h1v1h-1zM150 36h1v1h-1zM152 36h1v1h-1zM155 36h1v1h-1zM159 36h1v1h-1zM144 37h2v1h-2zM153 37h2v1h-2zM136 38h1v1h-1zM142 38h1v1h-1zM147 38h1v1h-1zM150 38h1v1h-1zM153 38h1v1h-1zM141 39h1v1h-1zM144 39h1v1h-1zM150 39h2v1h-2zM154 39h1v1h-1zM143 40h1v1h-1zM147 40h1v1h-1zM149 40h2v1h-2zM156 40h1v1h-1zM141 41h1v1h-1zM145 41h2v1h-2zM152 41h1v1h-1zM155 41h1v1h-1zM157 41h1v1h-1zM140 42h1v1h-1zM142 42h1v1h-1zM147 42h1v1h-1zM149 42h2v1h-2zM153 42h1v1h-1zM137 43h1v1h-1zM144 43h1v1h-1zM146 43h1v1h-1zM149 43h1v1h-1zM153 43h1v1h-1zM155 43h2v1h-2zM144 44h1v1h-1zM147 44h1v1h-1zM150 44h2v1h-2zM144 45h2v1h-2zM154 45h2v1h-2zM141 46h1v1h-1zM143 46h1v1h-1zM150 46h2v1h-2zM153 46h1v1h-1zM157 46h1v1h-1zM146 47h1v1h-1zM149 47h2v1h-2zM153 47h5v1h-5zM149 48h1v1h-1zM153 48h1v1h-1zM157 48h1v1h-1zM163 48h1v1h-1zM135 49h1v1h-1zM138 49h1v1h-1zM144 49h1v1h-1zM146 49h1v1h-1zM149 49h4v1h-4zM156 49h1v1h-1zM141 50h1v1h-1zM145 50h1v1h-1zM149 50h1v1h-1zM139 51h1v1h-1zM145 51h1v1h-1zM152 51h1v1h-1zM154 51h1v1h-1zM159 51h1v1h-1zM142 52h1v1h-1zM144 52h1v1h-1zM147 52h1v1h-1zM150 52h1v1h-1zM153 52h1v1h-1zM155 52h1v1h-1zM146 53h2v1h-2zM153 53h1v1h-1zM142 54h1v1h-1zM146 54h1v1h-1zM151 54h1v1h-1zM156 54h1v1h-1zM159 54h1v1h-1zM142 55h2v1h-2zM146 55h1v1h-1zM148 55h1v1h-1zM153 55h1v1h-1zM156 55h2v1h-2zM139 56h1v1h-1zM142 56h2v1h-2zM145 56h2v1h-2zM150 56h4v1h-4zM142 57h1v1h-1zM145 57h1v1h-1zM149 57h2v1h-2zM141 58h1v1h-1zM147 58h4v1h-4zM153 58h2v1h-2zM142 59h1v1h-1zM144 59h1v1h-1zM147 59h2v1h-2zM152 59h1v1h-1zM156 59h1v1h-1zM140 60h1v1h-1zM144 60h1v1h-1zM147 60h1v1h-1zM150 60h1v1h-1zM159 60h1v1h-1zM148 61h2v1h-2zM151 61h1v1h-1zM154 61h1v1h-1zM157 61h1v1h-1zM159 61h1v1h-1zM150 62h2v1h-2zM154 62h2v1h-2zM161 62h1v1h-1zM145 63h1v1h-1zM149 63h2v1h-2zM152 63h3v1h-3zM145 64h1v1h-1zM147 64h1v1h-1zM149 64h2v1h-2zM152 64h1v1h-1zM149 65h1v1h-1zM151 65h2v1h-2zM156 65h1v1h-1zM148 66h1v1h-1zM150 66h2v1h-2zM144 67h3v1h-3zM150 67h1v1h-1zM141 68h1v1h-1zM143 68h1v1h-1zM146 68h1v1h-1zM149 68h3v1h-3zM158 68h1v1h-1zM139 69h1v1h-1zM143 69h2v1h-2zM152 69h2v1h-2zM157 69h2v1h-2zM160 69h1v1h-1zM142 70h1v1h-1zM147 70h1v1h-1zM149 70h1v1h-1zM151 70h2v1h-2zM155 70h1v1h-1zM157 70h1v1h-1zM144 71h4v1h-4zM149 71h2v1h-2zM156 71h2v1h-2zM148 72h1v1h-1zM154 72h1v1h-1zM143 73h1v1h-1zM145 73h2v1h-2zM148 73h1v1h-1zM152 73h2v1h-2zM158 73h1v1h-1zM146 74h1v1h-1zM149 74h1v1h-1zM13 75h1v1h-1zM139 75h1v1h-1zM145 75h1v1h-1zM147 75h1v1h-1zM149 75h1v1h-1zM151 75h1v1h-1zM13 76h1v1h-1zM15 76h1v1h-1zM142 76h1v1h-1zM147 76h1v1h-1zM149 76h3v1h-3zM154 76h1v1h-1zM13 77h4v1h-4zM146 77h3v1h-3zM150 77h2v1h-2zM12 78h6v1h-6zM137 78h1v1h-1zM140 78h1v1h-1zM146 78h1v1h-1zM152 78h1v1h-1zM154 78h1v1h-1zM12 79h4v1h-4zM17 79h1v1h-1zM146 79h4v1h-4zM151 79h1v1h-1zM11 80h4v1h-4zM144 80h1v1h-1zM148 80h3v1h-3zM11 81h4v1h-4zM145 81h1v1h-1zM147 81h1v1h-1zM152 81h1v1h-1zM10 82h4v1h-4zM135 82h1v1h-1zM142 82h1v1h-1zM145 82h4v1h-4zM151 82h1v1h-1zM10 83h3v1h-3zM138 83h1v1h-1zM143 83h1v1h-1zM149 83h1v1h-1zM9 84h3v1h-3zM137 84h1v1h-1zM140 84h1v1h-1zM142 84h1v1h-1zM9 85h3v1h-3zM137 85h2v1h-2zM144 85h1v1h-1zM148 85h1v1h-1zM8 86h3v1h-3zM137 86h1v1h-1zM141 86h1v1h-1zM143 86h1v1h-1zM145 86h2v1h-2zM8 87h3v1h-3zM133 87h1v1h-1zM140 87h1v1h-1zM142 87h1v1h-1zM145 87h1v1h-1zM7 88h3v1h-3zM141 88h1v1h-1zM6 89h4v1h-4zM135 89h2v1h-2zM141 89h1v1h-1zM5 90h4v1h-4zM2 91h1v1h-1zM5 91h4v1h-4zM139 91h1v1h-1zM3 92h6v1h-6zM135 92h1v1h-1zM0 93h1v1h-1zM2 93h6v1h-6zM2 94h5v1h-5zM0 95h6v1h-6zM7 95h1v1h-1zM0 96h6v1h-6zM0 97h7v1h-7zM0 98h5v1h-5zM0 99h5v1h-5zM0 100h3v1h-3zM0 101h2v1h-2zM0 102h2v1h-2zM0 103h1v1h-1z"/><path fill="#4acb84" d="M130 5h1v1h-1zM132 5h3v1h-3zM127 6h3v1h-3zM132 6h3v1h-3zM140 6h1v1h-1zM126 7h1v1h-1zM129 7h2v1h-2zM136 7h1v1h-1zM142 7h1v1h-1zM124 8h5v1h-5zM130 8h2v1h-2zM134 8h1v1h-1zM136 8h1v1h-1zM139 8h1v1h-1zM142 8h1v1h-1zM146 8h1v1h-1zM120 9h1v1h-1zM127 9h2v1h-2zM131 9h2v1h-2zM134 9h1v1h-1zM138 9h1v1h-1zM140 9h1v1h-1zM120 10h1v1h-1zM125 10h1v1h-1zM128 10h3v1h-3zM132 10h2v1h-2zM140 10h2v1h-2zM143 10h2v1h-2zM126 11h2v1h-2zM130 11h1v1h-1zM132 11h2v1h-2zM137 11h1v1h-1zM140 11h1v1h-1zM143 11h1v1h-1zM126 12h1v1h-1zM128 12h1v1h-1zM132 12h1v1h-1zM138 12h1v1h-1zM140 12h1v1h-1zM145 12h1v1h-1zM151 12h1v1h-1zM127 13h4v1h-4zM135 13h1v1h-1zM139 13h4v1h-4zM144 13h2v1h-2zM149 13h1v1h-1zM122 14h1v1h-1zM130 14h1v1h-1zM132 14h1v1h-1zM135 14h3v1h-3zM143 14h1v1h-1zM129 15h1v1h-1zM132 15h1v1h-1zM138 15h1v1h-1zM142 15h1v1h-1zM149 15h1v1h-1zM128 16h2v1h-2zM134 16h1v1h-1zM136 16h3v1h-3zM140 16h2v1h-2zM143 16h1v1h-1zM130 17h1v1h-1zM132 17h4v1h-4zM138 17h1v1h-1zM142 17h1v1h-1zM154 17h1v1h-1zM0 18h1v1h-1zM137 18h2v1h-2zM140 18h2v1h-2zM0 19h2v1h-2zM131 19h1v1h-1zM133 19h1v1h-1zM135 19h1v1h-1zM137 19h1v1h-1zM140 19h5v1h-5zM148 19h1v1h-1zM152 19h1v1h-1zM0 20h2v1h-2zM125 20h1v1h-1zM130 20h1v1h-1zM134 20h3v1h-3zM139 20h1v1h-1zM141 20h1v1h-1zM147 20h1v1h-1zM0 21h2v1h-2zM130 21h1v1h-1zM132 21h1v1h-1zM139 21h1v1h-1zM142 21h1v1h-1zM145 21h2v1h-2zM153 21h1v1h-1zM0 22h3v1h-3zM129 22h1v1h-1zM131 22h1v1h-1zM140 22h2v1h-2zM145 22h1v1h-1zM147 22h1v1h-1zM150 22h1v1h-1zM0 23h3v1h-3zM131 23h1v1h-1zM135 23h3v1h-3zM144 23h1v1h-1zM149 23h1v1h-1zM152 23h1v1h-1zM0 24h4v1h-4zM131 24h2v1h-2zM138 24h1v1h-1zM144 24h1v1h-1zM0 25h5v1h-5zM128 25h1v1h-1zM133 25h1v1h-1zM135 25h1v1h-1zM139 25h2v1h-2zM143 25h1v1h-1zM148 25h2v1h-2zM2 26h3v1h-3zM132 26h2v1h-2zM135 26h1v1h-1zM138 26h1v1h-1zM140 26h2v1h-2zM147 26h1v1h-1zM151 26h1v1h-1zM3 27h3v1h-3zM132 27h2v1h-2zM138 27h1v1h-1zM140 27h1v1h-1zM143 27h1v1h-1zM146 27h1v1h-1zM4 28h3v1h-3zM135 28h1v1h-1zM137 28h1v1h-1zM140 28h6v1h-6zM147 28h1v1h-1zM149 28h1v1h-1zM4 29h3v1h-3zM132 29h1v1h-1zM135 29h1v1h-1zM141 29h1v1h-1zM143 29h3v1h-3zM147 29h1v1h-1zM149 29h1v1h-1zM5 30h3v1h-3zM138 30h1v1h-1zM142 30h2v1h-2zM145 30h1v1h-1zM147 30h1v1h-1zM5 31h3v1h-3zM129 31h1v1h-1zM131 31h1v1h-1zM133 31h2v1h-2zM141 31h1v1h-1zM143 31h1v1h-1zM146 31h2v1h-2zM6 32h3v1h-3zM131 32h1v1h-1zM137 32h2v1h-2zM141 32h1v1h-1zM143 32h1v1h-1zM145 32h1v1h-1zM6 33h5v1h-5zM127 33h2v1h-2zM130 33h1v1h-1zM139 33h1v1h-1zM141 33h1v1h-1zM146 33h1v1h-1zM155 33h1v1h-1zM7 34h4v1h-4zM140 34h1v1h-1zM142 34h1v1h-1zM146 34h1v1h-1zM7 35h5v1h-5zM131 35h1v1h-1zM133 35h2v1h-2zM136 35h1v1h-1zM138 35h1v1h-1zM140 35h1v1h-1zM144 35h2v1h-2zM147 35h3v1h-3zM7 36h4v1h-4zM144 36h1v1h-1zM146 36h1v1h-1zM148 36h2v1h-2zM157 36h1v1h-1zM9 37h3v1h-3zM134 37h1v1h-1zM137 37h2v1h-2zM140 37h4v1h-4zM146 37h1v1h-1zM150 37h2v1h-2zM155 37h1v1h-1zM9 38h2v1h-2zM135 38h1v1h-1zM137 38h1v1h-1zM139 38h1v1h-1zM141 38h1v1h-1zM144 38h3v1h-3zM148 38h2v1h-2zM151 38h1v1h-1zM10 39h1v1h-1zM136 39h3v1h-3zM142 39h2v1h-2zM145 39h2v1h-2zM149 39h1v1h-1zM10 40h1v1h-1zM140 40h2v1h-2zM151 40h1v1h-1zM154 40h1v1h-1zM136 41h1v1h-1zM138 41h3v1h-3zM143 41h1v1h-1zM147 41h1v1h-1zM149 41h1v1h-1zM154 41h1v1h-1zM131 42h2v1h-2zM143 42h1v1h-1zM145 42h1v1h-1zM148 42h1v1h-1zM140 43h1v1h-1zM145 43h1v1h-1zM147 43h2v1h-2zM150 43h1v1h-1zM152 43h1v1h-1zM134 44h1v1h-1zM141 44h1v1h-1zM145 44h2v1h-2zM149 44h1v1h-1zM152 44h1v1h-1zM132 45h1v1h-1zM138 45h1v1h-1zM142 45h1v1h-1zM146 45h1v1h-1zM148 45h1v1h-1zM150 45h2v1h-2zM136 46h1v1h-1zM138 46h2v1h-2zM144 46h1v1h-1zM149 46h1v1h-1zM154 46h1v1h-1zM158 46h1v1h-1zM136 47h1v1h-1zM139 47h1v1h-1zM143 47h1v1h-1zM147 47h2v1h-2zM132 48h1v1h-1zM136 48h1v1h-1zM140 48h1v1h-1zM145 48h4v1h-4zM150 48h1v1h-1zM140 49h1v1h-1zM143 49h1v1h-1zM145 49h1v1h-1zM155 49h1v1h-1zM132 50h2v1h-2zM136 50h1v1h-1zM138 50h2v1h-2zM144 50h1v1h-1zM150 50h1v1h-1zM153 50h1v1h-1zM133 51h2v1h-2zM136 51h1v1h-1zM138 51h1v1h-1zM140 51h1v1h-1zM142 51h3v1h-3zM147 51h2v1h-2zM155 51h1v1h-1zM134 52h1v1h-1zM136 52h1v1h-1zM139 52h2v1h-2zM145 52h2v1h-2zM149 52h1v1h-1zM151 52h2v1h-2zM136 53h1v1h-1zM143 53h1v1h-1zM148 53h4v1h-4zM154 53h1v1h-1zM159 53h1v1h-1zM134 54h1v1h-1zM136 54h1v1h-1zM138 54h1v1h-1zM140 54h1v1h-1zM143 54h1v1h-1zM145 54h1v1h-1zM147 54h1v1h-1zM149 54h1v1h-1zM138 55h1v1h-1zM140 55h1v1h-1zM145 55h1v1h-1zM147 55h1v1h-1zM160 55h1v1h-1zM141 56h1v1h-1zM148 56h1v1h-1zM156 56h1v1h-1zM129 57h1v1h-1zM137 57h1v1h-1zM139 57h1v1h-1zM141 57h1v1h-1zM147 57h1v1h-1zM154 57h1v1h-1zM129 58h1v1h-1zM143 58h2v1h-2zM152 58h1v1h-1zM137 59h1v1h-1zM139 59h2v1h-2zM143 59h1v1h-1zM145 59h2v1h-2zM150 59h1v1h-1zM154 59h1v1h-1zM135 60h2v1h-2zM139 60h1v1h-1zM141 60h1v1h-1zM145 60h1v1h-1zM149 60h1v1h-1zM156 60h1v1h-1zM134 61h3v1h-3zM142 61h1v1h-1zM144 61h2v1h-2zM150 61h1v1h-1zM152 61h1v1h-1zM135 62h1v1h-1zM137 62h1v1h-1zM142 62h4v1h-4zM149 62h1v1h-1zM137 63h1v1h-1zM139 63h2v1h-2zM142 63h2v1h-2zM148 63h1v1h-1zM134 64h1v1h-1zM140 64h2v1h-2zM143 64h1v1h-1zM146 64h1v1h-1zM148 64h1v1h-1zM139 65h1v1h-1zM142 65h3v1h-3zM146 65h1v1h-1zM148 65h1v1h-1zM150 65h1v1h-1zM135 66h3v1h-3zM140 66h5v1h-5zM146 66h2v1h-2zM135 67h1v1h-1zM137 67h1v1h-1zM139 67h2v1h-2zM142 67h2v1h-2zM151 67h1v1h-1zM136 68h1v1h-1zM138 68h3v1h-3zM144 68h1v1h-1zM131 69h1v1h-1zM133 69h1v1h-1zM142 69h1v1h-1zM145 69h2v1h-2zM148 69h2v1h-2zM138 70h1v1h-1zM141 70h1v1h-1zM143 70h1v1h-1zM145 70h2v1h-2zM148 70h1v1h-1zM153 70h1v1h-1zM156 70h1v1h-1zM135 71h1v1h-1zM138 71h1v1h-1zM140 71h1v1h-1zM142 71h2v1h-2zM148 71h1v1h-1zM151 71h1v1h-1zM11 72h1v1h-1zM137 72h2v1h-2zM141 72h1v1h-1zM145 72h2v1h-2zM149 72h1v1h-1zM157 72h1v1h-1zM10 73h3v1h-3zM133 73h1v1h-1zM138 73h1v1h-1zM141 73h1v1h-1zM149 73h2v1h-2zM10 74h4v1h-4zM140 74h2v1h-2zM143 74h1v1h-1zM148 74h1v1h-1zM152 74h1v1h-1zM10 75h3v1h-3zM14 75h1v1h-1zM138 75h1v1h-1zM142 75h2v1h-2zM148 75h1v1h-1zM10 76h3v1h-3zM14 76h1v1h-1zM134 76h1v1h-1zM137 76h5v1h-5zM143 76h1v1h-1zM145 76h1v1h-1zM148 76h1v1h-1zM10 77h3v1h-3zM133 77h1v1h-1zM138 77h3v1h-3zM142 77h1v1h-1zM144 77h2v1h-2zM149 77h1v1h-1zM9 78h3v1h-3zM135 78h1v1h-1zM138 78h1v1h-1zM143 78h1v1h-1zM147 78h2v1h-2zM9 79h3v1h-3zM136 79h3v1h-3zM141 79h3v1h-3zM145 79h1v1h-1zM154 79h1v1h-1zM9 80h2v1h-2zM137 80h3v1h-3zM142 80h2v1h-2zM145 80h2v1h-2zM8 81h3v1h-3zM132 81h2v1h-2zM136 81h2v1h-2zM140 81h3v1h-3zM146 81h1v1h-1zM148 81h2v1h-2zM6 82h4v1h-4zM127 82h1v1h-1zM137 82h2v1h-2zM143 82h2v1h-2zM6 83h4v1h-4zM133 83h1v1h-1zM136 83h2v1h-2zM148 83h1v1h-1zM150 83h1v1h-1zM6 84h3v1h-3zM132 84h1v1h-1zM144 84h4v1h-4zM0 85h1v1h-1zM5 85h4v1h-4zM125 85h1v1h-1zM135 85h2v1h-2zM139 85h1v1h-1zM143 85h1v1h-1zM145 85h1v1h-1zM147 85h1v1h-1zM0 86h1v1h-1zM2 86h6v1h-6zM132 86h5v1h-5zM139 86h1v1h-1zM142 86h1v1h-1zM144 86h1v1h-1zM0 87h8v1h-8zM132 87h1v1h-1zM134 87h1v1h-1zM139 87h1v1h-1zM141 87h1v1h-1zM143 87h1v1h-1zM0 88h7v1h-7zM133 88h1v1h-1zM135 88h2v1h-2zM138 88h1v1h-1zM0 89h6v1h-6zM130 89h1v1h-1zM134 89h1v1h-1zM137 89h4v1h-4zM0 90h5v1h-5zM130 90h1v1h-1zM135 90h1v1h-1zM137 90h4v1h-4zM0 91h2v1h-2zM3 91h2v1h-2zM130 91h1v1h-1zM132 91h1v1h-1zM137 91h1v1h-1zM0 92h3v1h-3zM130 92h1v1h-1zM132 92h2v1h-2zM1 93h1v1h-1zM124 93h1v1h-1zM127 93h1v1h-1zM130 93h2v1h-2zM133 93h1v1h-1zM0 94h2v1h-2zM127 95h1v1h-1zM126 96h1v1h-1zM125 97h1v1h-1z"/><path fill="#57cc7a" d="M128 5h2v1h-2zM131 5h1v1h-1zM135 5h1v1h-1zM126 6h1v1h-1zM135 6h1v1h-1zM124 7h2v1h-2zM132 7h1v1h-1zM134 7h2v1h-2zM138 7h1v1h-1zM122 8h2v1h-2zM129 8h1v1h-1zM133 8h1v1h-1zM135 8h1v1h-1zM137 8h1v1h-1zM143 8h1v1h-1zM119 9h1v1h-1zM122 9h5v1h-5zM129 9h2v1h-2zM135 9h1v1h-1zM137 9h1v1h-1zM118 10h1v1h-1zM121 10h4v1h-4zM126 10h2v1h-2zM131 10h1v1h-1zM134 10h3v1h-3zM139 10h1v1h-1zM114 11h1v1h-1zM117 11h3v1h-3zM121 11h2v1h-2zM124 11h2v1h-2zM128 11h1v1h-1zM131 11h1v1h-1zM135 11h2v1h-2zM141 11h1v1h-1zM116 12h1v1h-1zM120 12h6v1h-6zM127 12h1v1h-1zM129 12h1v1h-1zM131 12h1v1h-1zM136 12h1v1h-1zM141 12h1v1h-1zM121 13h6v1h-6zM131 13h2v1h-2zM134 13h1v1h-1zM115 14h1v1h-1zM119 14h1v1h-1zM124 14h1v1h-1zM126 14h2v1h-2zM129 14h1v1h-1zM131 14h1v1h-1zM117 15h1v1h-1zM120 15h3v1h-3zM124 15h1v1h-1zM127 15h2v1h-2zM131 15h1v1h-1zM134 15h1v1h-1zM137 15h1v1h-1zM140 15h1v1h-1zM147 15h1v1h-1zM120 16h1v1h-1zM123 16h1v1h-1zM126 16h2v1h-2zM133 16h1v1h-1zM139 16h1v1h-1zM117 17h1v1h-1zM124 17h6v1h-6zM131 17h1v1h-1zM137 17h1v1h-1zM140 17h1v1h-1zM148 17h1v1h-1zM120 18h1v1h-1zM126 18h1v1h-1zM128 18h4v1h-4zM133 18h4v1h-4zM139 18h1v1h-1zM120 19h1v1h-1zM123 19h1v1h-1zM125 19h1v1h-1zM127 19h4v1h-4zM132 19h1v1h-1zM134 19h1v1h-1zM136 19h1v1h-1zM138 19h1v1h-1zM120 20h1v1h-1zM124 20h1v1h-1zM126 20h4v1h-4zM131 20h3v1h-3zM140 20h1v1h-1zM142 20h1v1h-1zM126 21h1v1h-1zM128 21h2v1h-2zM133 21h1v1h-1zM135 21h1v1h-1zM137 21h1v1h-1zM140 21h1v1h-1zM124 22h4v1h-4zM132 22h4v1h-4zM137 22h1v1h-1zM125 23h3v1h-3zM129 23h2v1h-2zM139 23h1v1h-1zM141 23h2v1h-2zM119 24h1v1h-1zM124 24h2v1h-2zM127 24h2v1h-2zM130 24h1v1h-1zM133 24h2v1h-2zM136 24h2v1h-2zM139 24h1v1h-1zM122 25h1v1h-1zM124 25h1v1h-1zM129 25h3v1h-3zM134 25h1v1h-1zM136 25h3v1h-3zM0 26h2v1h-2zM125 26h6v1h-6zM134 26h1v1h-1zM136 26h2v1h-2zM0 27h3v1h-3zM124 27h1v1h-1zM129 27h3v1h-3zM134 27h1v1h-1zM136 27h2v1h-2zM139 27h1v1h-1zM141 27h1v1h-1zM145 27h1v1h-1zM152 27h1v1h-1zM0 28h4v1h-4zM122 28h1v1h-1zM128 28h1v1h-1zM130 28h5v1h-5zM136 28h1v1h-1zM139 28h1v1h-1zM0 29h4v1h-4zM125 29h3v1h-3zM129 29h3v1h-3zM136 29h1v1h-1zM138 29h2v1h-2zM146 29h1v1h-1zM148 29h1v1h-1zM0 30h1v1h-1zM2 30h3v1h-3zM121 30h1v1h-1zM126 30h1v1h-1zM128 30h4v1h-4zM133 30h4v1h-4zM139 30h2v1h-2zM146 30h1v1h-1zM150 30h1v1h-1zM1 31h1v1h-1zM3 31h2v1h-2zM124 31h1v1h-1zM128 31h1v1h-1zM135 31h3v1h-3zM139 31h1v1h-1zM144 31h1v1h-1zM3 32h3v1h-3zM121 32h1v1h-1zM126 32h5v1h-5zM132 32h4v1h-4zM4 33h2v1h-2zM126 33h1v1h-1zM133 33h1v1h-1zM136 33h1v1h-1zM138 33h1v1h-1zM140 33h1v1h-1zM5 34h2v1h-2zM127 34h2v1h-2zM132 34h1v1h-1zM134 34h3v1h-3zM138 34h2v1h-2zM143 34h1v1h-1zM6 35h1v1h-1zM128 35h1v1h-1zM132 35h1v1h-1zM135 35h1v1h-1zM137 35h1v1h-1zM146 35h1v1h-1zM6 36h1v1h-1zM126 36h1v1h-1zM128 36h2v1h-2zM131 36h2v1h-2zM134 36h1v1h-1zM137 36h2v1h-2zM141 36h1v1h-1zM6 37h3v1h-3zM124 37h1v1h-1zM127 37h3v1h-3zM131 37h3v1h-3zM135 37h2v1h-2zM139 37h1v1h-1zM147 37h2v1h-2zM6 38h3v1h-3zM121 38h1v1h-1zM128 38h2v1h-2zM132 38h3v1h-3zM138 38h1v1h-1zM143 38h1v1h-1zM7 39h3v1h-3zM128 39h1v1h-1zM131 39h3v1h-3zM135 39h1v1h-1zM139 39h1v1h-1zM7 40h3v1h-3zM126 40h11v1h-11zM138 40h2v1h-2zM142 40h1v1h-1zM144 40h3v1h-3zM7 41h3v1h-3zM125 41h1v1h-1zM132 41h4v1h-4zM137 41h1v1h-1zM142 41h1v1h-1zM8 42h2v1h-2zM128 42h3v1h-3zM134 42h1v1h-1zM136 42h4v1h-4zM141 42h1v1h-1zM146 42h1v1h-1zM9 43h1v1h-1zM127 43h2v1h-2zM133 43h3v1h-3zM138 43h2v1h-2zM142 43h2v1h-2zM151 43h1v1h-1zM128 44h1v1h-1zM131 44h2v1h-2zM136 44h2v1h-2zM140 44h1v1h-1zM143 44h1v1h-1zM123 45h1v1h-1zM131 45h1v1h-1zM134 45h1v1h-1zM136 45h1v1h-1zM139 45h1v1h-1zM141 45h1v1h-1zM143 45h1v1h-1zM147 45h1v1h-1zM123 46h1v1h-1zM129 46h1v1h-1zM131 46h4v1h-4zM137 46h1v1h-1zM142 46h1v1h-1zM148 46h1v1h-1zM123 47h1v1h-1zM125 47h1v1h-1zM130 47h1v1h-1zM132 47h2v1h-2zM135 47h1v1h-1zM137 47h2v1h-2zM140 47h2v1h-2zM144 47h1v1h-1zM124 48h1v1h-1zM134 48h2v1h-2zM137 48h1v1h-1zM139 48h1v1h-1zM141 48h2v1h-2zM144 48h1v1h-1zM125 49h1v1h-1zM128 49h1v1h-1zM130 49h1v1h-1zM132 49h3v1h-3zM136 49h2v1h-2zM139 49h1v1h-1zM141 49h2v1h-2zM148 49h1v1h-1zM125 50h1v1h-1zM128 50h1v1h-1zM131 50h1v1h-1zM134 50h1v1h-1zM137 50h1v1h-1zM140 50h1v1h-1zM143 50h1v1h-1zM146 50h2v1h-2zM126 51h1v1h-1zM130 51h2v1h-2zM135 51h1v1h-1zM137 51h1v1h-1zM146 51h1v1h-1zM125 52h1v1h-1zM130 52h1v1h-1zM133 52h1v1h-1zM135 52h1v1h-1zM137 52h2v1h-2zM141 52h1v1h-1zM143 52h1v1h-1zM129 53h1v1h-1zM134 53h1v1h-1zM138 53h1v1h-1zM140 53h3v1h-3zM144 53h2v1h-2zM122 54h1v1h-1zM129 54h1v1h-1zM133 54h1v1h-1zM135 54h1v1h-1zM137 54h1v1h-1zM139 54h1v1h-1zM148 54h1v1h-1zM153 54h1v1h-1zM128 55h2v1h-2zM131 55h1v1h-1zM133 55h5v1h-5zM139 55h1v1h-1zM141 55h1v1h-1zM144 55h1v1h-1zM151 55h1v1h-1zM129 56h1v1h-1zM131 56h4v1h-4zM136 56h1v1h-1zM138 56h1v1h-1zM140 56h1v1h-1zM147 56h1v1h-1zM127 57h1v1h-1zM130 57h2v1h-2zM134 57h2v1h-2zM138 57h1v1h-1zM143 57h1v1h-1zM148 57h1v1h-1zM130 58h1v1h-1zM133 58h2v1h-2zM136 58h5v1h-5zM142 58h1v1h-1zM146 58h1v1h-1zM125 59h1v1h-1zM127 59h2v1h-2zM130 59h1v1h-1zM133 59h1v1h-1zM135 59h2v1h-2zM138 59h1v1h-1zM141 59h1v1h-1zM130 60h1v1h-1zM134 60h1v1h-1zM137 60h2v1h-2zM142 60h2v1h-2zM121 61h1v1h-1zM124 61h1v1h-1zM126 61h1v1h-1zM133 61h1v1h-1zM138 61h3v1h-3zM143 61h1v1h-1zM147 61h1v1h-1zM125 62h1v1h-1zM127 62h1v1h-1zM129 62h2v1h-2zM132 62h1v1h-1zM136 62h1v1h-1zM139 62h2v1h-2zM146 62h3v1h-3zM127 63h2v1h-2zM131 63h6v1h-6zM141 63h1v1h-1zM144 63h1v1h-1zM146 63h2v1h-2zM126 64h1v1h-1zM132 64h1v1h-1zM136 64h3v1h-3zM144 64h1v1h-1zM151 64h1v1h-1zM135 65h2v1h-2zM138 65h1v1h-1zM141 65h1v1h-1zM127 66h1v1h-1zM129 66h1v1h-1zM132 66h3v1h-3zM138 66h1v1h-1zM145 66h1v1h-1zM149 66h1v1h-1zM129 67h1v1h-1zM131 67h4v1h-4zM138 67h1v1h-1zM141 67h1v1h-1zM147 67h1v1h-1zM9 68h1v1h-1zM126 68h1v1h-1zM128 68h1v1h-1zM132 68h1v1h-1zM137 68h1v1h-1zM9 69h1v1h-1zM124 69h1v1h-1zM127 69h1v1h-1zM129 69h1v1h-1zM134 69h1v1h-1zM136 69h3v1h-3zM140 69h2v1h-2zM147 69h1v1h-1zM151 69h1v1h-1zM9 70h2v1h-2zM124 70h1v1h-1zM126 70h2v1h-2zM129 70h1v1h-1zM132 70h5v1h-5zM139 70h2v1h-2zM144 70h1v1h-1zM9 71h2v1h-2zM126 71h1v1h-1zM128 71h1v1h-1zM131 71h1v1h-1zM134 71h1v1h-1zM137 71h1v1h-1zM139 71h1v1h-1zM141 71h1v1h-1zM9 72h2v1h-2zM126 72h1v1h-1zM129 72h5v1h-5zM135 72h1v1h-1zM139 72h2v1h-2zM142 72h3v1h-3zM150 72h1v1h-1zM9 73h1v1h-1zM131 73h1v1h-1zM134 73h4v1h-4zM139 73h2v1h-2zM142 73h1v1h-1zM151 73h1v1h-1zM8 74h2v1h-2zM127 74h1v1h-1zM129 74h4v1h-4zM134 74h6v1h-6zM144 74h2v1h-2zM7 75h3v1h-3zM122 75h2v1h-2zM131 75h1v1h-1zM134 75h3v1h-3zM140 75h2v1h-2zM8 76h2v1h-2zM126 76h1v1h-1zM129 76h1v1h-1zM132 76h2v1h-2zM135 76h2v1h-2zM144 76h1v1h-1zM7 77h3v1h-3zM128 77h3v1h-3zM132 77h1v1h-1zM134 77h4v1h-4zM141 77h1v1h-1zM6 78h3v1h-3zM122 78h2v1h-2zM128 78h2v1h-2zM131 78h2v1h-2zM136 78h1v1h-1zM139 78h1v1h-1zM141 78h1v1h-1zM144 78h2v1h-2zM0 79h1v1h-1zM5 79h4v1h-4zM127 79h1v1h-1zM129 79h7v1h-7zM139 79h2v1h-2zM144 79h1v1h-1zM0 80h2v1h-2zM4 80h5v1h-5zM127 80h2v1h-2zM131 80h3v1h-3zM135 80h2v1h-2zM141 80h1v1h-1zM0 81h8v1h-8zM122 81h1v1h-1zM125 81h1v1h-1zM130 81h2v1h-2zM134 81h2v1h-2zM138 81h2v1h-2zM150 81h1v1h-1zM0 82h6v1h-6zM122 82h1v1h-1zM128 82h1v1h-1zM130 82h2v1h-2zM133 82h2v1h-2zM139 82h3v1h-3zM0 83h6v1h-6zM122 83h3v1h-3zM127 83h2v1h-2zM130 83h3v1h-3zM134 83h2v1h-2zM139 83h1v1h-1zM141 83h2v1h-2zM144 83h3v1h-3zM0 84h6v1h-6zM116 84h1v1h-1zM123 84h1v1h-1zM125 84h1v1h-1zM127 84h1v1h-1zM129 84h3v1h-3zM133 84h4v1h-4zM138 84h2v1h-2zM1 85h4v1h-4zM126 85h1v1h-1zM128 85h3v1h-3zM133 85h2v1h-2zM140 85h2v1h-2zM1 86h1v1h-1zM127 86h5v1h-5zM138 86h1v1h-1zM124 87h5v1h-5zM130 87h2v1h-2zM135 87h2v1h-2zM124 88h5v1h-5zM130 88h3v1h-3zM134 88h1v1h-1zM137 88h1v1h-1zM140 88h1v1h-1zM143 88h1v1h-1zM125 89h1v1h-1zM127 89h3v1h-3zM132 89h2v1h-2zM119 90h2v1h-2zM122 90h1v1h-1zM126 90h1v1h-1zM129 90h1v1h-1zM132 90h3v1h-3zM113 91h1v1h-1zM118 91h1v1h-1zM121 91h6v1h-6zM128 91h1v1h-1zM131 91h1v1h-1zM133 91h2v1h-2zM136 91h1v1h-1zM138 91h1v1h-1zM122 92h1v1h-1zM124 92h2v1h-2zM127 92h3v1h-3zM131 92h1v1h-1zM134 92h1v1h-1zM136 92h1v1h-1zM120 93h1v1h-1zM122 93h2v1h-2zM126 93h1v1h-1zM129 93h1v1h-1zM132 93h1v1h-1zM120 94h3v1h-3zM124 94h2v1h-2zM127 94h5v1h-5zM119 95h1v1h-1zM122 95h1v1h-1zM125 95h1v1h-1zM128 95h1v1h-1zM122 96h1v1h-1zM124 96h2v1h-2zM127 96h1v1h-1zM119 97h1v1h-1zM121 97h3v1h-3zM123 98h1v1h-1zM121 99h1v1h-1zM113 100h1v1h-1zM115 100h1v1h-1zM117 100h2v1h-2zM112 102h1v1h-1zM108 103h1v1h-1z"/><path fill="#64cd6f" d="M130 6h1v1h-1zM123 7h1v1h-1zM127 7h2v1h-2zM133 7h1v1h-1zM121 8h1v1h-1zM140 8h1v1h-1zM117 9h2v1h-2zM121 9h1v1h-1zM115 10h3v1h-3zM119 10h1v1h-1zM113 11h1v1h-1zM115 11h2v1h-2zM120 11h1v1h-1zM123 11h1v1h-1zM111 12h5v1h-5zM118 12h2v1h-2zM130 12h1v1h-1zM109 13h2v1h-2zM112 13h2v1h-2zM116 13h2v1h-2zM119 13h2v1h-2zM110 14h1v1h-1zM112 14h1v1h-1zM114 14h1v1h-1zM116 14h3v1h-3zM120 14h2v1h-2zM123 14h1v1h-1zM128 14h1v1h-1zM134 14h1v1h-1zM113 15h4v1h-4zM118 15h2v1h-2zM123 15h1v1h-1zM125 15h2v1h-2zM130 15h1v1h-1zM111 16h3v1h-3zM115 16h5v1h-5zM122 16h1v1h-1zM124 16h2v1h-2zM131 16h1v1h-1zM108 17h2v1h-2zM111 17h5v1h-5zM118 17h1v1h-1zM120 17h3v1h-3zM114 18h1v1h-1zM117 18h3v1h-3zM121 18h4v1h-4zM127 18h1v1h-1zM132 18h1v1h-1zM115 19h5v1h-5zM124 19h1v1h-1zM126 19h1v1h-1zM110 20h3v1h-3zM116 20h4v1h-4zM121 20h3v1h-3zM112 21h1v1h-1zM118 21h4v1h-4zM123 21h1v1h-1zM125 21h1v1h-1zM127 21h1v1h-1zM131 21h1v1h-1zM115 22h2v1h-2zM118 22h3v1h-3zM122 22h2v1h-2zM128 22h1v1h-1zM130 22h1v1h-1zM139 22h1v1h-1zM114 23h2v1h-2zM117 23h2v1h-2zM120 23h5v1h-5zM128 23h1v1h-1zM132 23h3v1h-3zM109 24h1v1h-1zM116 24h1v1h-1zM118 24h1v1h-1zM120 24h1v1h-1zM122 24h2v1h-2zM126 24h1v1h-1zM115 25h5v1h-5zM121 25h1v1h-1zM123 25h1v1h-1zM125 25h3v1h-3zM132 25h1v1h-1zM116 26h2v1h-2zM119 26h3v1h-3zM123 26h2v1h-2zM131 26h1v1h-1zM139 26h1v1h-1zM114 27h1v1h-1zM116 27h2v1h-2zM120 27h4v1h-4zM125 27h4v1h-4zM118 28h2v1h-2zM121 28h1v1h-1zM123 28h5v1h-5zM129 28h1v1h-1zM116 29h2v1h-2zM119 29h1v1h-1zM122 29h3v1h-3zM128 29h1v1h-1zM133 29h1v1h-1zM1 30h1v1h-1zM114 30h1v1h-1zM117 30h2v1h-2zM120 30h1v1h-1zM122 30h4v1h-4zM127 30h1v1h-1zM132 30h1v1h-1zM137 30h1v1h-1zM0 31h1v1h-1zM2 31h1v1h-1zM113 31h1v1h-1zM118 31h2v1h-2zM121 31h1v1h-1zM123 31h1v1h-1zM125 31h3v1h-3zM130 31h1v1h-1zM132 31h1v1h-1zM0 32h3v1h-3zM120 32h1v1h-1zM123 32h3v1h-3zM0 33h4v1h-4zM118 33h1v1h-1zM120 33h6v1h-6zM129 33h1v1h-1zM131 33h2v1h-2zM134 33h2v1h-2zM137 33h1v1h-1zM144 33h1v1h-1zM0 34h5v1h-5zM119 34h1v1h-1zM121 34h6v1h-6zM129 34h3v1h-3zM133 34h1v1h-1zM0 35h6v1h-6zM114 35h3v1h-3zM118 35h2v1h-2zM121 35h3v1h-3zM125 35h1v1h-1zM127 35h1v1h-1zM129 35h2v1h-2zM139 35h1v1h-1zM0 36h6v1h-6zM115 36h1v1h-1zM119 36h2v1h-2zM122 36h4v1h-4zM127 36h1v1h-1zM130 36h1v1h-1zM133 36h1v1h-1zM135 36h1v1h-1zM0 37h2v1h-2zM4 37h2v1h-2zM116 37h1v1h-1zM119 37h1v1h-1zM122 37h2v1h-2zM125 37h2v1h-2zM130 37h1v1h-1zM1 38h1v1h-1zM5 38h1v1h-1zM118 38h1v1h-1zM120 38h1v1h-1zM122 38h3v1h-3zM126 38h2v1h-2zM130 38h2v1h-2zM5 39h2v1h-2zM119 39h7v1h-7zM127 39h1v1h-1zM129 39h2v1h-2zM134 39h1v1h-1zM140 39h1v1h-1zM6 40h1v1h-1zM119 40h2v1h-2zM124 40h1v1h-1zM137 40h1v1h-1zM6 41h1v1h-1zM119 41h3v1h-3zM123 41h1v1h-1zM126 41h6v1h-6zM144 41h1v1h-1zM6 42h2v1h-2zM120 42h2v1h-2zM123 42h2v1h-2zM126 42h2v1h-2zM133 42h1v1h-1zM135 42h1v1h-1zM144 42h1v1h-1zM7 43h2v1h-2zM115 43h1v1h-1zM118 43h1v1h-1zM121 43h2v1h-2zM124 43h3v1h-3zM129 43h4v1h-4zM136 43h1v1h-1zM141 43h1v1h-1zM7 44h2v1h-2zM120 44h2v1h-2zM123 44h1v1h-1zM125 44h3v1h-3zM129 44h2v1h-2zM133 44h1v1h-1zM135 44h1v1h-1zM138 44h2v1h-2zM142 44h1v1h-1zM7 45h2v1h-2zM120 45h3v1h-3zM124 45h1v1h-1zM127 45h4v1h-4zM133 45h1v1h-1zM135 45h1v1h-1zM137 45h1v1h-1zM140 45h1v1h-1zM7 46h2v1h-2zM119 46h1v1h-1zM122 46h1v1h-1zM124 46h2v1h-2zM127 46h2v1h-2zM130 46h1v1h-1zM135 46h1v1h-1zM140 46h1v1h-1zM145 46h1v1h-1zM7 47h2v1h-2zM121 47h2v1h-2zM126 47h1v1h-1zM128 47h2v1h-2zM131 47h1v1h-1zM134 47h1v1h-1zM142 47h1v1h-1zM122 48h2v1h-2zM125 48h7v1h-7zM133 48h1v1h-1zM138 48h1v1h-1zM143 48h1v1h-1zM120 49h5v1h-5zM126 49h2v1h-2zM129 49h1v1h-1zM131 49h1v1h-1zM147 49h1v1h-1zM123 50h2v1h-2zM126 50h2v1h-2zM129 50h2v1h-2zM135 50h1v1h-1zM118 51h1v1h-1zM122 51h1v1h-1zM124 51h1v1h-1zM127 51h3v1h-3zM132 51h1v1h-1zM141 51h1v1h-1zM117 52h1v1h-1zM123 52h2v1h-2zM126 52h3v1h-3zM131 52h2v1h-2zM118 53h1v1h-1zM121 53h4v1h-4zM126 53h3v1h-3zM130 53h3v1h-3zM135 53h1v1h-1zM137 53h1v1h-1zM139 53h1v1h-1zM119 54h1v1h-1zM121 54h1v1h-1zM123 54h1v1h-1zM125 54h1v1h-1zM127 54h2v1h-2zM130 54h3v1h-3zM141 54h1v1h-1zM144 54h1v1h-1zM118 55h1v1h-1zM121 55h1v1h-1zM123 55h2v1h-2zM130 55h1v1h-1zM132 55h1v1h-1zM149 55h1v1h-1zM123 56h6v1h-6zM130 56h1v1h-1zM137 56h1v1h-1zM144 56h1v1h-1zM121 57h2v1h-2zM124 57h3v1h-3zM128 57h1v1h-1zM133 57h1v1h-1zM136 57h1v1h-1zM144 57h1v1h-1zM121 58h2v1h-2zM124 58h5v1h-5zM131 58h2v1h-2zM135 58h1v1h-1zM145 58h1v1h-1zM121 59h1v1h-1zM123 59h2v1h-2zM126 59h1v1h-1zM129 59h1v1h-1zM131 59h2v1h-2zM134 59h1v1h-1zM123 60h4v1h-4zM128 60h1v1h-1zM131 60h3v1h-3zM119 61h2v1h-2zM122 61h1v1h-1zM125 61h1v1h-1zM127 61h6v1h-6zM137 61h1v1h-1zM141 61h1v1h-1zM121 62h1v1h-1zM123 62h2v1h-2zM126 62h1v1h-1zM128 62h1v1h-1zM131 62h1v1h-1zM133 62h2v1h-2zM138 62h1v1h-1zM141 62h1v1h-1zM120 63h1v1h-1zM123 63h2v1h-2zM126 63h1v1h-1zM129 63h1v1h-1zM138 63h1v1h-1zM117 64h2v1h-2zM122 64h4v1h-4zM127 64h3v1h-3zM131 64h1v1h-1zM133 64h1v1h-1zM135 64h1v1h-1zM139 64h1v1h-1zM142 64h1v1h-1zM120 65h1v1h-1zM122 65h3v1h-3zM126 65h1v1h-1zM128 65h7v1h-7zM137 65h1v1h-1zM140 65h1v1h-1zM8 66h1v1h-1zM119 66h2v1h-2zM123 66h1v1h-1zM125 66h1v1h-1zM128 66h1v1h-1zM130 66h2v1h-2zM139 66h1v1h-1zM8 67h1v1h-1zM117 67h1v1h-1zM119 67h2v1h-2zM122 67h7v1h-7zM130 67h1v1h-1zM8 68h1v1h-1zM120 68h3v1h-3zM124 68h2v1h-2zM127 68h1v1h-1zM129 68h3v1h-3zM133 68h3v1h-3zM145 68h1v1h-1zM8 69h1v1h-1zM118 69h2v1h-2zM121 69h3v1h-3zM125 69h2v1h-2zM128 69h1v1h-1zM130 69h1v1h-1zM135 69h1v1h-1zM7 70h2v1h-2zM115 70h1v1h-1zM120 70h1v1h-1zM122 70h1v1h-1zM128 70h1v1h-1zM130 70h2v1h-2zM137 70h1v1h-1zM7 71h2v1h-2zM117 71h1v1h-1zM119 71h7v1h-7zM129 71h1v1h-1zM132 71h2v1h-2zM136 71h1v1h-1zM0 72h1v1h-1zM7 72h2v1h-2zM117 72h1v1h-1zM119 72h1v1h-1zM122 72h4v1h-4zM127 72h2v1h-2zM134 72h1v1h-1zM136 72h1v1h-1zM0 73h1v1h-1zM6 73h3v1h-3zM118 73h1v1h-1zM120 73h6v1h-6zM127 73h4v1h-4zM132 73h1v1h-1zM147 73h1v1h-1zM0 74h2v1h-2zM6 74h2v1h-2zM120 74h2v1h-2zM123 74h4v1h-4zM128 74h1v1h-1zM133 74h1v1h-1zM142 74h1v1h-1zM0 75h4v1h-4zM5 75h2v1h-2zM118 75h3v1h-3zM124 75h4v1h-4zM129 75h2v1h-2zM132 75h2v1h-2zM137 75h1v1h-1zM144 75h1v1h-1zM0 76h8v1h-8zM119 76h1v1h-1zM121 76h1v1h-1zM123 76h3v1h-3zM127 76h2v1h-2zM131 76h1v1h-1zM0 77h7v1h-7zM115 77h1v1h-1zM118 77h1v1h-1zM120 77h8v1h-8zM131 77h1v1h-1zM143 77h1v1h-1zM0 78h6v1h-6zM121 78h1v1h-1zM124 78h4v1h-4zM130 78h1v1h-1zM133 78h2v1h-2zM142 78h1v1h-1zM1 79h4v1h-4zM119 79h2v1h-2zM123 79h4v1h-4zM128 79h1v1h-1zM2 80h2v1h-2zM116 80h1v1h-1zM118 80h3v1h-3zM123 80h4v1h-4zM129 80h2v1h-2zM134 80h1v1h-1zM111 81h1v1h-1zM115 81h1v1h-1zM118 81h3v1h-3zM123 81h2v1h-2zM126 81h2v1h-2zM129 81h1v1h-1zM143 81h1v1h-1zM114 82h1v1h-1zM116 82h1v1h-1zM118 82h4v1h-4zM123 82h1v1h-1zM125 82h2v1h-2zM129 82h1v1h-1zM132 82h1v1h-1zM136 82h1v1h-1zM115 83h1v1h-1zM118 83h4v1h-4zM125 83h2v1h-2zM129 83h1v1h-1zM140 83h1v1h-1zM111 84h1v1h-1zM117 84h1v1h-1zM120 84h3v1h-3zM124 84h1v1h-1zM126 84h1v1h-1zM128 84h1v1h-1zM141 84h1v1h-1zM143 84h1v1h-1zM112 85h1v1h-1zM115 85h9v1h-9zM127 85h1v1h-1zM131 85h2v1h-2zM113 86h1v1h-1zM115 86h2v1h-2zM118 86h8v1h-8zM140 86h1v1h-1zM113 87h1v1h-1zM115 87h2v1h-2zM118 87h3v1h-3zM122 87h2v1h-2zM129 87h1v1h-1zM114 88h1v1h-1zM117 88h4v1h-4zM122 88h2v1h-2zM129 88h1v1h-1zM139 88h1v1h-1zM117 89h6v1h-6zM124 89h1v1h-1zM126 89h1v1h-1zM131 89h1v1h-1zM113 90h1v1h-1zM115 90h2v1h-2zM118 90h1v1h-1zM121 90h1v1h-1zM123 90h1v1h-1zM127 90h2v1h-2zM131 90h1v1h-1zM136 90h1v1h-1zM114 91h1v1h-1zM116 91h1v1h-1zM120 91h1v1h-1zM127 91h1v1h-1zM129 91h1v1h-1zM135 91h1v1h-1zM109 92h1v1h-1zM112 92h1v1h-1zM114 92h1v1h-1zM116 92h6v1h-6zM126 92h1v1h-1zM110 93h2v1h-2zM114 93h5v1h-5zM121 93h1v1h-1zM125 93h1v1h-1zM128 93h1v1h-1zM109 94h1v1h-1zM112 94h8v1h-8zM123 94h1v1h-1zM126 94h1v1h-1zM111 95h3v1h-3zM115 95h4v1h-4zM120 95h2v1h-2zM123 95h1v1h-1zM126 95h1v1h-1zM129 95h1v1h-1zM107 96h1v1h-1zM110 96h4v1h-4zM115 96h7v1h-7zM123 96h1v1h-1zM110 97h9v1h-9zM120 97h1v1h-1zM124 97h1v1h-1zM104 98h1v1h-1zM111 98h1v1h-1zM113 98h10v1h-10zM104 99h1v1h-1zM109 99h3v1h-3zM114 99h7v1h-7zM108 100h5v1h-5zM114 100h1v1h-1zM116 100h1v1h-1zM119 100h1v1h-1zM107 101h1v1h-1zM112 101h3v1h-3zM116 101h2v1h-2zM103 102h1v1h-1zM108 102h4v1h-4zM114 102h1v1h-1zM104 103h1v1h-1zM111 103h1v1h-1zM103 104h4v1h-4z"/><path fill="#72cd64" d="M120 8h1v1h-1zM117 12h1v1h-1zM111 13h1v1h-1zM114 13h2v1h-2zM118 13h1v1h-1zM133 13h1v1h-1zM107 14h1v1h-1zM109 14h1v1h-1zM111 14h1v1h-1zM113 14h1v1h-1zM125 14h1v1h-1zM105 15h5v1h-5zM111 15h2v1h-2zM104 16h7v1h-7zM114 16h1v1h-1zM121 16h1v1h-1zM104 17h4v1h-4zM110 17h1v1h-1zM116 17h1v1h-1zM119 17h1v1h-1zM123 17h1v1h-1zM102 18h3v1h-3zM106 18h1v1h-1zM108 18h6v1h-6zM115 18h2v1h-2zM125 18h1v1h-1zM103 19h2v1h-2zM106 19h9v1h-9zM121 19h2v1h-2zM103 20h7v1h-7zM113 20h3v1h-3zM105 21h7v1h-7zM113 21h5v1h-5zM122 21h1v1h-1zM124 21h1v1h-1zM102 22h2v1h-2zM106 22h3v1h-3zM110 22h5v1h-5zM117 22h1v1h-1zM121 22h1v1h-1zM106 23h7v1h-7zM116 23h1v1h-1zM119 23h1v1h-1zM103 24h1v1h-1zM107 24h2v1h-2zM110 24h6v1h-6zM117 24h1v1h-1zM121 24h1v1h-1zM106 25h1v1h-1zM108 25h2v1h-2zM111 25h4v1h-4zM120 25h1v1h-1zM105 26h1v1h-1zM107 26h9v1h-9zM118 26h1v1h-1zM122 26h1v1h-1zM105 27h3v1h-3zM109 27h5v1h-5zM115 27h1v1h-1zM118 27h2v1h-2zM108 28h10v1h-10zM120 28h1v1h-1zM104 29h1v1h-1zM108 29h8v1h-8zM118 29h1v1h-1zM120 29h2v1h-2zM104 30h1v1h-1zM106 30h1v1h-1zM108 30h2v1h-2zM111 30h3v1h-3zM115 30h2v1h-2zM108 31h2v1h-2zM111 31h2v1h-2zM115 31h3v1h-3zM120 31h1v1h-1zM122 31h1v1h-1zM107 32h1v1h-1zM109 32h11v1h-11zM122 32h1v1h-1zM111 33h7v1h-7zM119 33h1v1h-1zM110 34h3v1h-3zM114 34h5v1h-5zM120 34h1v1h-1zM108 35h1v1h-1zM111 35h1v1h-1zM117 35h1v1h-1zM120 35h1v1h-1zM124 35h1v1h-1zM126 35h1v1h-1zM109 36h6v1h-6zM117 36h2v1h-2zM121 36h1v1h-1zM2 37h2v1h-2zM110 37h1v1h-1zM112 37h4v1h-4zM117 37h2v1h-2zM120 37h2v1h-2zM0 38h1v1h-1zM2 38h3v1h-3zM112 38h6v1h-6zM119 38h1v1h-1zM125 38h1v1h-1zM0 39h5v1h-5zM109 39h1v1h-1zM112 39h7v1h-7zM126 39h1v1h-1zM0 40h6v1h-6zM108 40h3v1h-3zM112 40h1v1h-1zM114 40h5v1h-5zM121 40h3v1h-3zM125 40h1v1h-1zM0 41h6v1h-6zM110 41h2v1h-2zM113 41h6v1h-6zM122 41h1v1h-1zM124 41h1v1h-1zM0 42h6v1h-6zM112 42h2v1h-2zM115 42h5v1h-5zM122 42h1v1h-1zM125 42h1v1h-1zM0 43h2v1h-2zM5 43h2v1h-2zM110 43h1v1h-1zM112 43h3v1h-3zM116 43h2v1h-2zM119 43h2v1h-2zM123 43h1v1h-1zM0 44h3v1h-3zM5 44h2v1h-2zM111 44h1v1h-1zM114 44h6v1h-6zM122 44h1v1h-1zM124 44h1v1h-1zM6 45h1v1h-1zM111 45h3v1h-3zM115 45h3v1h-3zM119 45h1v1h-1zM125 45h2v1h-2zM6 46h1v1h-1zM113 46h2v1h-2zM116 46h3v1h-3zM120 46h2v1h-2zM126 46h1v1h-1zM6 47h1v1h-1zM109 47h2v1h-2zM112 47h9v1h-9zM124 47h1v1h-1zM127 47h1v1h-1zM6 48h2v1h-2zM110 48h3v1h-3zM114 48h8v1h-8zM112 49h4v1h-4zM117 49h3v1h-3zM115 50h8v1h-8zM112 51h2v1h-2zM115 51h3v1h-3zM119 51h3v1h-3zM123 51h1v1h-1zM125 51h1v1h-1zM113 52h4v1h-4zM118 52h5v1h-5zM129 52h1v1h-1zM109 53h1v1h-1zM111 53h1v1h-1zM113 53h5v1h-5zM119 53h2v1h-2zM125 53h1v1h-1zM133 53h1v1h-1zM111 54h1v1h-1zM113 54h6v1h-6zM120 54h1v1h-1zM124 54h1v1h-1zM126 54h1v1h-1zM115 55h3v1h-3zM119 55h2v1h-2zM122 55h1v1h-1zM125 55h3v1h-3zM108 56h1v1h-1zM110 56h1v1h-1zM113 56h3v1h-3zM117 56h6v1h-6zM135 56h1v1h-1zM111 57h10v1h-10zM123 57h1v1h-1zM132 57h1v1h-1zM140 57h1v1h-1zM146 57h1v1h-1zM112 58h8v1h-8zM123 58h1v1h-1zM111 59h4v1h-4zM116 59h5v1h-5zM122 59h1v1h-1zM108 60h1v1h-1zM110 60h1v1h-1zM112 60h1v1h-1zM115 60h2v1h-2zM118 60h5v1h-5zM127 60h1v1h-1zM129 60h1v1h-1zM148 60h1v1h-1zM112 61h5v1h-5zM118 61h1v1h-1zM123 61h1v1h-1zM113 62h8v1h-8zM122 62h1v1h-1zM113 63h7v1h-7zM121 63h2v1h-2zM125 63h1v1h-1zM130 63h1v1h-1zM109 64h2v1h-2zM114 64h3v1h-3zM119 64h3v1h-3zM130 64h1v1h-1zM7 65h1v1h-1zM112 65h1v1h-1zM114 65h2v1h-2zM118 65h2v1h-2zM121 65h1v1h-1zM125 65h1v1h-1zM127 65h1v1h-1zM7 66h1v1h-1zM112 66h7v1h-7zM121 66h2v1h-2zM124 66h1v1h-1zM126 66h1v1h-1zM1 67h3v1h-3zM7 67h1v1h-1zM109 67h2v1h-2zM112 67h3v1h-3zM116 67h1v1h-1zM118 67h1v1h-1zM121 67h1v1h-1zM136 67h1v1h-1zM0 68h4v1h-4zM6 68h2v1h-2zM110 68h1v1h-1zM112 68h1v1h-1zM114 68h6v1h-6zM123 68h1v1h-1zM0 69h4v1h-4zM6 69h2v1h-2zM111 69h7v1h-7zM120 69h1v1h-1zM132 69h1v1h-1zM0 70h4v1h-4zM5 70h2v1h-2zM110 70h3v1h-3zM114 70h1v1h-1zM116 70h4v1h-4zM121 70h1v1h-1zM123 70h1v1h-1zM125 70h1v1h-1zM0 71h7v1h-7zM107 71h2v1h-2zM111 71h5v1h-5zM118 71h1v1h-1zM127 71h1v1h-1zM130 71h1v1h-1zM1 72h6v1h-6zM109 72h1v1h-1zM111 72h6v1h-6zM118 72h1v1h-1zM120 72h2v1h-2zM1 73h5v1h-5zM108 73h1v1h-1zM110 73h8v1h-8zM119 73h1v1h-1zM126 73h1v1h-1zM2 74h4v1h-4zM108 74h2v1h-2zM111 74h4v1h-4zM116 74h3v1h-3zM122 74h1v1h-1zM4 75h1v1h-1zM106 75h2v1h-2zM109 75h1v1h-1zM112 75h6v1h-6zM121 75h1v1h-1zM128 75h1v1h-1zM108 76h1v1h-1zM110 76h5v1h-5zM116 76h3v1h-3zM120 76h1v1h-1zM122 76h1v1h-1zM130 76h1v1h-1zM110 77h5v1h-5zM116 77h2v1h-2zM119 77h1v1h-1zM105 78h10v1h-10zM116 78h5v1h-5zM106 79h1v1h-1zM111 79h2v1h-2zM114 79h5v1h-5zM121 79h2v1h-2zM106 80h1v1h-1zM110 80h6v1h-6zM117 80h1v1h-1zM121 80h2v1h-2zM106 81h4v1h-4zM112 81h3v1h-3zM116 81h2v1h-2zM121 81h1v1h-1zM128 81h1v1h-1zM107 82h1v1h-1zM110 82h4v1h-4zM115 82h1v1h-1zM117 82h1v1h-1zM124 82h1v1h-1zM105 83h10v1h-10zM116 83h2v1h-2zM107 84h4v1h-4zM112 84h4v1h-4zM118 84h2v1h-2zM105 85h1v1h-1zM108 85h4v1h-4zM113 85h2v1h-2zM124 85h1v1h-1zM105 86h1v1h-1zM108 86h1v1h-1zM110 86h3v1h-3zM114 86h1v1h-1zM117 86h1v1h-1zM126 86h1v1h-1zM104 87h3v1h-3zM108 87h5v1h-5zM114 87h1v1h-1zM117 87h1v1h-1zM121 87h1v1h-1zM101 88h1v1h-1zM108 88h6v1h-6zM115 88h2v1h-2zM121 88h1v1h-1zM100 89h1v1h-1zM104 89h3v1h-3zM108 89h9v1h-9zM123 89h1v1h-1zM102 90h2v1h-2zM106 90h7v1h-7zM114 90h1v1h-1zM117 90h1v1h-1zM124 90h2v1h-2zM102 91h2v1h-2zM105 91h8v1h-8zM115 91h1v1h-1zM117 91h1v1h-1zM119 91h1v1h-1zM102 92h1v1h-1zM105 92h4v1h-4zM110 92h2v1h-2zM113 92h1v1h-1zM115 92h1v1h-1zM123 92h1v1h-1zM102 93h1v1h-1zM104 93h6v1h-6zM112 93h2v1h-2zM119 93h1v1h-1zM102 94h7v1h-7zM110 94h2v1h-2zM99 95h1v1h-1zM103 95h4v1h-4zM108 95h3v1h-3zM114 95h1v1h-1zM124 95h1v1h-1zM100 96h1v1h-1zM102 96h1v1h-1zM104 96h3v1h-3zM108 96h2v1h-2zM114 96h1v1h-1zM103 97h7v1h-7zM101 98h3v1h-3zM105 98h6v1h-6zM112 98h1v1h-1zM98 99h6v1h-6zM105 99h4v1h-4zM112 99h2v1h-2zM97 100h2v1h-2zM100 100h8v1h-8zM100 101h1v1h-1zM102 101h5v1h-5zM108 101h4v1h-4zM115 101h1v1h-1zM95 102h5v1h-5zM101 102h2v1h-2zM104 102h4v1h-4zM113 102h1v1h-1zM96 103h8v1h-8zM105 103h3v1h-3zM109 103h2v1h-2zM93 104h1v1h-1zM96 104h2v1h-2zM99 104h4v1h-4zM96 105h2v1h-2z"/><path fill="#81cc59" d="M108 14h1v1h-1zM110 15h1v1h-1zM103 17h1v1h-1zM105 18h1v1h-1zM107 18h1v1h-1zM101 19h2v1h-2zM105 19h1v1h-1zM99 20h4v1h-4zM97 21h8v1h-8zM97 22h5v1h-5zM104 22h2v1h-2zM109 22h1v1h-1zM96 23h10v1h-10zM113 23h1v1h-1zM96 24h2v1h-2zM99 24h4v1h-4zM104 24h3v1h-3zM96 25h10v1h-10zM107 25h1v1h-1zM110 25h1v1h-1zM98 26h7v1h-7zM106 26h1v1h-1zM96 27h1v1h-1zM100 27h5v1h-5zM108 27h1v1h-1zM99 28h9v1h-9zM98 29h2v1h-2zM101 29h3v1h-3zM105 29h3v1h-3zM99 30h5v1h-5zM105 30h1v1h-1zM107 30h1v1h-1zM110 30h1v1h-1zM119 30h1v1h-1zM100 31h8v1h-8zM110 31h1v1h-1zM114 31h1v1h-1zM98 32h1v1h-1zM100 32h7v1h-7zM108 32h1v1h-1zM100 33h11v1h-11zM100 34h10v1h-10zM113 34h1v1h-1zM101 35h7v1h-7zM109 35h2v1h-2zM112 35h2v1h-2zM102 36h1v1h-1zM104 36h5v1h-5zM116 36h1v1h-1zM102 37h8v1h-8zM111 37h1v1h-1zM101 38h11v1h-11zM103 39h6v1h-6zM110 39h2v1h-2zM103 40h5v1h-5zM111 40h1v1h-1zM113 40h1v1h-1zM102 41h8v1h-8zM112 41h1v1h-1zM102 42h10v1h-10zM114 42h1v1h-1zM2 43h3v1h-3zM103 43h7v1h-7zM111 43h1v1h-1zM3 44h2v1h-2zM103 44h1v1h-1zM105 44h6v1h-6zM112 44h2v1h-2zM0 45h6v1h-6zM104 45h7v1h-7zM114 45h1v1h-1zM118 45h1v1h-1zM0 46h6v1h-6zM104 46h9v1h-9zM115 46h1v1h-1zM0 47h6v1h-6zM104 47h5v1h-5zM111 47h1v1h-1zM0 48h5v1h-5zM102 48h8v1h-8zM113 48h1v1h-1zM103 49h9v1h-9zM116 49h1v1h-1zM102 50h13v1h-13zM104 51h8v1h-8zM114 51h1v1h-1zM103 52h1v1h-1zM105 52h8v1h-8zM104 53h5v1h-5zM110 53h1v1h-1zM112 53h1v1h-1zM105 54h6v1h-6zM112 54h1v1h-1zM103 55h1v1h-1zM105 55h10v1h-10zM104 56h4v1h-4zM109 56h1v1h-1zM111 56h2v1h-2zM116 56h1v1h-1zM103 57h1v1h-1zM105 57h6v1h-6zM103 58h9v1h-9zM120 58h1v1h-1zM103 59h8v1h-8zM115 59h1v1h-1zM103 60h5v1h-5zM109 60h1v1h-1zM111 60h1v1h-1zM113 60h2v1h-2zM117 60h1v1h-1zM105 61h7v1h-7zM117 61h1v1h-1zM105 62h8v1h-8zM103 63h2v1h-2zM106 63h7v1h-7zM102 64h7v1h-7zM111 64h3v1h-3zM0 65h7v1h-7zM103 65h9v1h-9zM113 65h1v1h-1zM116 65h2v1h-2zM0 66h7v1h-7zM104 66h8v1h-8zM0 67h1v1h-1zM4 67h3v1h-3zM104 67h5v1h-5zM111 67h1v1h-1zM115 67h1v1h-1zM4 68h2v1h-2zM102 68h1v1h-1zM104 68h6v1h-6zM111 68h1v1h-1zM113 68h1v1h-1zM4 69h2v1h-2zM102 69h9v1h-9zM4 70h1v1h-1zM100 70h2v1h-2zM103 70h7v1h-7zM113 70h1v1h-1zM103 71h4v1h-4zM109 71h2v1h-2zM116 71h1v1h-1zM103 72h6v1h-6zM110 72h1v1h-1zM101 73h7v1h-7zM109 73h1v1h-1zM101 74h1v1h-1zM103 74h5v1h-5zM110 74h1v1h-1zM115 74h1v1h-1zM119 74h1v1h-1zM99 75h1v1h-1zM102 75h4v1h-4zM108 75h1v1h-1zM110 75h2v1h-2zM101 76h7v1h-7zM109 76h1v1h-1zM115 76h1v1h-1zM100 77h3v1h-3zM104 77h6v1h-6zM98 78h7v1h-7zM115 78h1v1h-1zM97 79h1v1h-1zM99 79h1v1h-1zM102 79h4v1h-4zM107 79h4v1h-4zM113 79h1v1h-1zM100 80h6v1h-6zM107 80h3v1h-3zM99 81h7v1h-7zM110 81h1v1h-1zM98 82h9v1h-9zM108 82h2v1h-2zM98 83h7v1h-7zM97 84h1v1h-1zM99 84h8v1h-8zM98 85h7v1h-7zM106 85h2v1h-2zM97 86h8v1h-8zM106 86h2v1h-2zM109 86h1v1h-1zM96 87h8v1h-8zM107 87h1v1h-1zM98 88h3v1h-3zM102 88h6v1h-6zM96 89h4v1h-4zM101 89h3v1h-3zM107 89h1v1h-1zM94 90h1v1h-1zM96 90h6v1h-6zM104 90h2v1h-2zM94 91h1v1h-1zM96 91h6v1h-6zM104 91h1v1h-1zM95 92h7v1h-7zM103 92h2v1h-2zM94 93h8v1h-8zM103 93h1v1h-1zM93 94h9v1h-9zM94 95h5v1h-5zM100 95h3v1h-3zM107 95h1v1h-1zM92 96h8v1h-8zM101 96h1v1h-1zM103 96h1v1h-1zM90 97h1v1h-1zM93 97h10v1h-10zM90 98h11v1h-11zM88 99h1v1h-1zM90 99h8v1h-8zM91 100h6v1h-6zM99 100h1v1h-1zM88 101h12v1h-12zM101 101h1v1h-1zM88 102h7v1h-7zM100 102h1v1h-1zM86 103h1v1h-1zM88 103h8v1h-8zM85 104h8v1h-8zM94 104h2v1h-2zM98 104h1v1h-1zM86 105h10v1h-10zM84 106h4v1h-4z"/><path fill="#8fcb4e" d="M94 22h3v1h-3zM92 23h4v1h-4zM90 24h6v1h-6zM98 24h1v1h-1zM91 25h1v1h-1zM93 25h3v1h-3zM91 26h7v1h-7zM92 27h4v1h-4zM97 27h3v1h-3zM93 28h1v1h-1zM95 28h4v1h-4zM92 29h6v1h-6zM100 29h1v1h-1zM94 30h5v1h-5zM93 31h7v1h-7zM93 32h1v1h-1zM95 32h3v1h-3zM99 32h1v1h-1zM94 33h6v1h-6zM94 34h6v1h-6zM94 35h7v1h-7zM95 36h7v1h-7zM103 36h1v1h-1zM95 37h7v1h-7zM96 38h1v1h-1zM98 38h3v1h-3zM96 39h7v1h-7zM95 40h8v1h-8zM97 41h5v1h-5zM97 42h5v1h-5zM97 43h1v1h-1zM99 43h4v1h-4zM96 44h1v1h-1zM98 44h5v1h-5zM104 44h1v1h-1zM96 45h1v1h-1zM98 45h6v1h-6zM98 46h6v1h-6zM97 47h7v1h-7zM5 48h1v1h-1zM96 48h6v1h-6zM98 49h5v1h-5zM96 50h6v1h-6zM98 51h6v1h-6zM97 52h6v1h-6zM104 52h1v1h-1zM97 53h7v1h-7zM98 54h7v1h-7zM98 55h5v1h-5zM104 55h1v1h-1zM98 56h6v1h-6zM95 57h2v1h-2zM98 57h5v1h-5zM104 57h1v1h-1zM98 58h5v1h-5zM97 59h6v1h-6zM97 60h1v1h-1zM99 60h4v1h-4zM98 61h7v1h-7zM98 62h7v1h-7zM98 63h5v1h-5zM105 63h1v1h-1zM97 64h5v1h-5zM97 65h6v1h-6zM96 66h1v1h-1zM98 66h6v1h-6zM95 67h1v1h-1zM98 67h6v1h-6zM96 68h1v1h-1zM98 68h4v1h-4zM103 68h1v1h-1zM95 69h1v1h-1zM97 69h5v1h-5zM97 70h3v1h-3zM102 70h1v1h-1zM96 71h7v1h-7zM94 72h1v1h-1zM96 72h7v1h-7zM95 73h6v1h-6zM96 74h5v1h-5zM102 74h1v1h-1zM95 75h4v1h-4zM100 75h2v1h-2zM94 76h7v1h-7zM95 77h5v1h-5zM103 77h1v1h-1zM91 78h1v1h-1zM95 78h3v1h-3zM93 79h4v1h-4zM98 79h1v1h-1zM100 79h2v1h-2zM93 80h7v1h-7zM93 81h6v1h-6zM92 82h6v1h-6zM92 83h6v1h-6zM92 84h5v1h-5zM98 84h1v1h-1zM91 85h7v1h-7zM90 86h7v1h-7zM89 87h7v1h-7zM89 88h9v1h-9zM88 89h1v1h-1zM90 89h6v1h-6zM88 90h6v1h-6zM95 90h1v1h-1zM88 91h6v1h-6zM95 91h1v1h-1zM88 92h7v1h-7zM87 93h7v1h-7zM85 94h8v1h-8zM86 95h8v1h-8zM85 96h7v1h-7zM84 97h2v1h-2zM87 97h3v1h-3zM91 97h2v1h-2zM83 98h7v1h-7zM83 99h5v1h-5zM89 99h1v1h-1zM82 100h9v1h-9zM81 101h7v1h-7zM79 102h1v1h-1zM81 102h7v1h-7zM80 103h6v1h-6zM87 103h1v1h-1zM78 104h1v1h-1zM80 104h5v1h-5zM79 105h7v1h-7zM75 106h9v1h-9z"/><path fill="#9dc943" d="M84 24h6v1h-6zM84 25h7v1h-7zM92 25h1v1h-1zM84 26h7v1h-7zM84 27h8v1h-8zM85 28h8v1h-8zM94 28h1v1h-1zM86 29h6v1h-6zM87 30h7v1h-7zM86 31h7v1h-7zM87 32h6v1h-6zM94 32h1v1h-1zM89 33h5v1h-5zM88 34h6v1h-6zM86 35h1v1h-1zM88 35h6v1h-6zM88 36h7v1h-7zM88 37h7v1h-7zM90 38h6v1h-6zM97 38h1v1h-1zM89 39h1v1h-1zM91 39h5v1h-5zM89 40h6v1h-6zM90 41h7v1h-7zM90 42h7v1h-7zM90 43h7v1h-7zM98 43h1v1h-1zM91 44h5v1h-5zM97 44h1v1h-1zM91 45h5v1h-5zM97 45h1v1h-1zM91 46h7v1h-7zM91 47h6v1h-6zM91 48h5v1h-5zM91 49h7v1h-7zM91 50h5v1h-5zM91 51h7v1h-7zM91 52h6v1h-6zM90 53h7v1h-7zM91 54h7v1h-7zM92 55h6v1h-6zM92 56h6v1h-6zM91 57h4v1h-4zM97 57h1v1h-1zM91 58h7v1h-7zM91 59h6v1h-6zM91 60h6v1h-6zM98 60h1v1h-1zM90 61h1v1h-1zM92 61h6v1h-6zM92 62h6v1h-6zM91 63h7v1h-7zM90 64h7v1h-7zM90 65h7v1h-7zM89 66h7v1h-7zM97 66h1v1h-1zM91 67h4v1h-4zM96 67h2v1h-2zM90 68h6v1h-6zM97 68h1v1h-1zM89 69h1v1h-1zM91 69h4v1h-4zM96 69h1v1h-1zM89 70h8v1h-8zM90 71h6v1h-6zM89 72h5v1h-5zM95 72h1v1h-1zM89 73h6v1h-6zM89 74h7v1h-7zM89 75h6v1h-6zM88 76h6v1h-6zM87 77h8v1h-8zM87 78h4v1h-4zM92 78h3v1h-3zM87 79h6v1h-6zM87 80h6v1h-6zM85 81h8v1h-8zM86 82h6v1h-6zM85 83h7v1h-7zM86 84h6v1h-6zM84 85h7v1h-7zM83 86h7v1h-7zM84 87h5v1h-5zM83 88h6v1h-6zM81 89h7v1h-7zM89 89h1v1h-1zM81 90h7v1h-7zM81 91h7v1h-7zM80 92h8v1h-8zM79 93h8v1h-8zM78 94h7v1h-7zM76 95h10v1h-10zM77 96h8v1h-8zM75 97h9v1h-9zM86 97h1v1h-1zM75 98h8v1h-8zM73 99h10v1h-10zM72 100h1v1h-1zM74 100h8v1h-8zM72 101h9v1h-9zM70 102h1v1h-1zM72 102h7v1h-7zM80 102h1v1h-1zM70 103h10v1h-10zM70 104h8v1h-8zM79 104h1v1h-1zM66 105h1v1h-1zM68 105h11v1h-11zM68 106h7v1h-7z"/><path fill="#abc739" d="M72 21h1v1h-1zM74 21h2v1h-2zM73 22h6v1h-6zM74 23h7v1h-7zM76 24h8v1h-8zM76 25h8v1h-8zM76 26h8v1h-8zM77 27h7v1h-7zM78 28h7v1h-7zM78 29h8v1h-8zM79 30h8v1h-8zM79 31h7v1h-7zM78 32h9v1h-9zM81 33h8v1h-8zM79 34h1v1h-1zM81 34h7v1h-7zM81 35h5v1h-5zM87 35h1v1h-1zM80 36h8v1h-8zM82 37h6v1h-6zM81 38h9v1h-9zM82 39h7v1h-7zM90 39h1v1h-1zM82 40h7v1h-7zM82 41h8v1h-8zM82 42h8v1h-8zM83 43h7v1h-7zM83 44h8v1h-8zM83 45h8v1h-8zM84 46h7v1h-7zM83 47h8v1h-8zM84 48h7v1h-7zM84 49h7v1h-7zM84 50h7v1h-7zM84 51h1v1h-1zM86 51h5v1h-5zM84 52h7v1h-7zM83 53h1v1h-1zM85 53h5v1h-5zM84 54h7v1h-7zM84 55h8v1h-8zM84 56h8v1h-8zM85 57h6v1h-6zM84 58h7v1h-7zM84 59h7v1h-7zM83 60h8v1h-8zM83 61h7v1h-7zM91 61h1v1h-1zM84 62h8v1h-8zM83 63h8v1h-8zM84 64h6v1h-6zM83 65h7v1h-7zM83 66h6v1h-6zM83 67h8v1h-8zM83 68h7v1h-7zM83 69h6v1h-6zM90 69h1v1h-1zM82 70h7v1h-7zM81 71h9v1h-9zM81 72h8v1h-8zM82 73h7v1h-7zM80 74h9v1h-9zM80 75h9v1h-9zM81 76h7v1h-7zM80 77h7v1h-7zM79 78h8v1h-8zM79 79h8v1h-8zM78 80h9v1h-9zM78 81h7v1h-7zM77 82h9v1h-9zM77 83h8v1h-8zM77 84h9v1h-9zM75 85h9v1h-9zM75 86h8v1h-8zM74 87h10v1h-10zM74 88h9v1h-9zM73 89h8v1h-8zM72 90h9v1h-9zM72 91h9v1h-9zM70 92h10v1h-10zM70 93h9v1h-9zM70 94h8v1h-8zM68 95h8v1h-8zM67 96h10v1h-10zM66 97h9v1h-9zM65 98h10v1h-10zM63 99h10v1h-10zM63 100h9v1h-9zM73 100h1v1h-1zM61 101h11v1h-11zM61 102h9v1h-9zM71 102h1v1h-1zM59 103h11v1h-11zM61 104h9v1h-9zM64 105h2v1h-2zM67 105h1v1h-1z"/><path fill="#b9c431" d="M61 17h1v1h-1zM63 18h2v1h-2zM64 19h6v1h-6zM65 20h8v1h-8zM66 21h6v1h-6zM73 21h1v1h-1zM66 22h7v1h-7zM67 23h7v1h-7zM68 24h8v1h-8zM68 25h8v1h-8zM69 26h7v1h-7zM69 27h8v1h-8zM69 28h9v1h-9zM72 29h6v1h-6zM72 30h7v1h-7zM72 31h7v1h-7zM72 32h6v1h-6zM73 33h8v1h-8zM73 34h6v1h-6zM80 34h1v1h-1zM74 35h7v1h-7zM75 36h5v1h-5zM74 37h8v1h-8zM75 38h6v1h-6zM75 39h7v1h-7zM75 40h7v1h-7zM76 41h6v1h-6zM76 42h6v1h-6zM76 43h7v1h-7zM77 44h6v1h-6zM76 45h7v1h-7zM77 46h7v1h-7zM78 47h5v1h-5zM77 48h7v1h-7zM77 49h7v1h-7zM78 50h6v1h-6zM77 51h7v1h-7zM85 51h1v1h-1zM77 52h7v1h-7zM78 53h5v1h-5zM84 53h1v1h-1zM78 54h6v1h-6zM78 55h6v1h-6zM78 56h6v1h-6zM78 57h7v1h-7zM78 58h6v1h-6zM78 59h6v1h-6zM77 60h6v1h-6zM77 61h6v1h-6zM76 62h8v1h-8zM76 63h7v1h-7zM77 64h7v1h-7zM76 65h7v1h-7zM76 66h7v1h-7zM77 67h6v1h-6zM76 68h7v1h-7zM75 69h8v1h-8zM75 70h7v1h-7zM76 71h5v1h-5zM75 72h6v1h-6zM74 73h8v1h-8zM73 74h7v1h-7zM73 75h7v1h-7zM73 76h8v1h-8zM73 77h7v1h-7zM73 78h6v1h-6zM72 79h7v1h-7zM72 80h6v1h-6zM71 81h7v1h-7zM71 82h6v1h-6zM71 83h6v1h-6zM69 84h8v1h-8zM69 85h6v1h-6zM68 86h7v1h-7zM68 87h6v1h-6zM67 88h7v1h-7zM66 89h7v1h-7zM66 90h6v1h-6zM64 91h8v1h-8zM63 92h7v1h-7zM62 93h8v1h-8zM60 94h1v1h-1zM62 94h8v1h-8zM60 95h8v1h-8zM59 96h8v1h-8zM58 97h8v1h-8zM56 98h9v1h-9zM55 99h8v1h-8zM52 100h11v1h-11zM54 101h7v1h-7zM57 102h4v1h-4z"/><path fill="#c5c22a" d="M50 15h7v1h-7zM51 16h8v1h-8zM53 17h8v1h-8zM54 18h9v1h-9zM54 19h10v1h-10zM55 20h10v1h-10zM57 21h9v1h-9zM58 22h8v1h-8zM59 23h8v1h-8zM60 24h8v1h-8zM60 25h8v1h-8zM61 26h8v1h-8zM61 27h8v1h-8zM63 28h6v1h-6zM62 29h10v1h-10zM63 30h9v1h-9zM64 31h8v1h-8zM65 32h7v1h-7zM66 33h7v1h-7zM66 34h7v1h-7zM67 35h7v1h-7zM67 36h8v1h-8zM68 37h6v1h-6zM68 38h7v1h-7zM68 39h7v1h-7zM68 40h7v1h-7zM68 41h8v1h-8zM68 42h8v1h-8zM70 43h6v1h-6zM70 44h7v1h-7zM70 45h6v1h-6zM70 46h7v1h-7zM71 47h7v1h-7zM70 48h7v1h-7zM70 49h7v1h-7zM71 50h7v1h-7zM71 51h6v1h-6zM71 52h6v1h-6zM71 53h7v1h-7zM71 54h7v1h-7zM72 55h6v1h-6zM72 56h6v1h-6zM71 57h7v1h-7zM70 58h8v1h-8zM71 59h7v1h-7zM70 60h7v1h-7zM71 61h6v1h-6zM70 62h6v1h-6zM70 63h6v1h-6zM69 64h8v1h-8zM69 65h1v1h-1zM71 65h5v1h-5zM70 66h6v1h-6zM69 67h8v1h-8zM69 68h7v1h-7zM69 69h1v1h-1zM71 69h4v1h-4zM69 70h6v1h-6zM68 71h8v1h-8zM69 72h6v1h-6zM68 73h6v1h-6zM67 74h6v1h-6zM66 75h7v1h-7zM66 76h7v1h-7zM65 77h8v1h-8zM65 78h8v1h-8zM64 79h8v1h-8zM64 80h8v1h-8zM63 81h8v1h-8zM63 82h8v1h-8zM62 83h9v1h-9zM61 84h8v1h-8zM61 85h8v1h-8zM60 86h8v1h-8zM59 87h9v1h-9zM58 88h9v1h-9zM57 89h9v1h-9zM57 90h9v1h-9zM56 91h8v1h-8zM54 92h9v1h-9zM52 93h10v1h-10zM51 94h9v1h-9zM61 94h1v1h-1zM50 95h10v1h-10zM49 96h10v1h-10zM47 97h11v1h-11zM45 98h11v1h-11zM48 99h7v1h-7zM51 100h1v1h-1z"/><path fill="#d1bf27" d="M38 14h1v1h-1zM37 15h13v1h-13zM40 16h11v1h-11zM42 17h11v1h-11zM44 18h10v1h-10zM46 19h8v1h-8zM49 20h6v1h-6zM48 21h9v1h-9zM50 22h8v1h-8zM52 23h7v1h-7zM52 24h8v1h-8zM54 25h6v1h-6zM54 26h7v1h-7zM55 27h6v1h-6zM56 28h7v1h-7zM57 29h5v1h-5zM58 30h5v1h-5zM58 31h6v1h-6zM59 32h6v1h-6zM60 33h6v1h-6zM60 34h6v1h-6zM60 35h7v1h-7zM61 36h6v1h-6zM61 37h7v1h-7zM62 38h6v1h-6zM63 39h5v1h-5zM63 40h5v1h-5zM63 41h5v1h-5zM64 42h4v1h-4zM64 43h6v1h-6zM64 44h6v1h-6zM64 45h6v1h-6zM65 46h5v1h-5zM65 47h6v1h-6zM64 48h6v1h-6zM0 49h5v1h-5zM65 49h5v1h-5zM0 50h5v1h-5zM66 50h5v1h-5zM0 51h5v1h-5zM65 51h6v1h-6zM0 52h5v1h-5zM65 52h6v1h-6zM0 53h5v1h-5zM65 53h6v1h-6zM0 54h5v1h-5zM65 54h6v1h-6zM0 55h5v1h-5zM65 55h7v1h-7zM0 56h5v1h-5zM66 56h6v1h-6zM0 57h5v1h-5zM66 57h5v1h-5zM0 58h5v1h-5zM65 58h5v1h-5zM0 59h5v1h-5zM65 59h6v1h-6zM0 60h5v1h-5zM65 60h5v1h-5zM0 61h5v1h-5zM65 61h6v1h-6zM0 62h5v1h-5zM64 62h6v1h-6zM0 63h5v1h-5zM65 63h5v1h-5zM0 64h5v1h-5zM65 64h4v1h-4zM65 65h4v1h-4zM70 65h1v1h-1zM64 66h6v1h-6zM64 67h5v1h-5zM63 68h6v1h-6zM63 69h6v1h-6zM70 69h1v1h-1zM63 70h6v1h-6zM63 71h5v1h-5zM62 72h7v1h-7zM61 73h7v1h-7zM61 74h6v1h-6zM61 75h5v1h-5zM60 76h6v1h-6zM59 77h6v1h-6zM59 78h6v1h-6zM57 79h7v1h-7zM58 80h6v1h-6zM57 81h6v1h-6zM56 82h7v1h-7zM55 83h7v1h-7zM54 84h7v1h-7zM53 85h8v1h-8zM52 86h8v1h-8zM52 87h7v1h-7zM50 88h8v1h-8zM49 89h8v1h-8zM48 90h9v1h-9zM47 91h9v1h-9zM44 92h10v1h-10zM41 93h1v1h-1zM43 93h9v1h-9zM41 94h10v1h-10zM40 95h10v1h-10zM41 96h8v1h-8zM43 97h4v1h-4z"/><path fill="#dcbd29" d="M28 15h9v1h-9zM27 16h13v1h-13zM31 17h11v1h-11zM33 18h1v1h-1zM35 18h9v1h-9zM36 19h10v1h-10zM38 20h11v1h-11zM40 21h8v1h-8zM41 22h1v1h-1zM43 22h7v1h-7zM43 23h9v1h-9zM45 24h7v1h-7zM47 25h7v1h-7zM47 26h7v1h-7zM48 27h7v1h-7zM49 28h7v1h-7zM50 29h7v1h-7zM50 30h8v1h-8zM51 31h7v1h-7zM53 32h6v1h-6zM53 33h7v1h-7zM53 34h7v1h-7zM54 35h6v1h-6zM55 36h6v1h-6zM55 37h6v1h-6zM56 38h6v1h-6zM56 39h7v1h-7zM56 40h7v1h-7zM57 41h6v1h-6zM57 42h7v1h-7zM57 43h7v1h-7zM58 44h6v1h-6zM59 45h5v1h-5zM58 46h7v1h-7zM59 47h6v1h-6zM60 48h4v1h-4zM5 49h2v1h-2zM59 49h6v1h-6zM5 50h2v1h-2zM59 50h7v1h-7zM5 51h2v1h-2zM59 51h6v1h-6zM5 52h2v1h-2zM60 52h5v1h-5zM5 53h2v1h-2zM59 53h6v1h-6zM5 54h2v1h-2zM60 54h5v1h-5zM5 55h2v1h-2zM59 55h6v1h-6zM5 56h2v1h-2zM59 56h7v1h-7zM5 57h2v1h-2zM60 57h6v1h-6zM5 58h2v1h-2zM60 58h5v1h-5zM5 59h2v1h-2zM59 59h6v1h-6zM5 60h2v1h-2zM60 60h5v1h-5zM5 61h2v1h-2zM59 61h6v1h-6zM5 62h2v1h-2zM59 62h5v1h-5zM5 63h2v1h-2zM58 63h7v1h-7zM5 64h2v1h-2zM58 64h7v1h-7zM59 65h6v1h-6zM58 66h6v1h-6zM58 67h6v1h-6zM57 68h6v1h-6zM57 69h6v1h-6zM57 70h6v1h-6zM56 71h7v1h-7zM56 72h6v1h-6zM56 73h5v1h-5zM55 74h6v1h-6zM55 75h6v1h-6zM54 76h6v1h-6zM53 77h6v1h-6zM53 78h6v1h-6zM51 79h6v1h-6zM51 80h7v1h-7zM49 81h8v1h-8zM49 82h7v1h-7zM48 83h7v1h-7zM47 84h7v1h-7zM47 85h6v1h-6zM45 86h7v1h-7zM44 87h8v1h-8zM42 88h8v1h-8zM41 89h8v1h-8zM39 90h9v1h-9zM37 91h10v1h-10zM35 92h9v1h-9zM37 93h4v1h-4zM42 93h1v1h-1zM38 94h3v1h-3z"/><path fill="#e6bb2d" d="M25 17h6v1h-6zM23 18h10v1h-10zM34 18h1v1h-1zM21 19h15v1h-15zM21 20h1v1h-1zM26 20h2v1h-2zM29 20h9v1h-9zM32 21h8v1h-8zM34 22h7v1h-7zM42 22h1v1h-1zM36 23h7v1h-7zM38 24h7v1h-7zM39 25h8v1h-8zM41 26h6v1h-6zM42 27h6v1h-6zM43 28h6v1h-6zM44 29h6v1h-6zM46 30h4v1h-4zM46 31h5v1h-5zM47 32h6v1h-6zM47 33h6v1h-6zM48 34h5v1h-5zM49 35h5v1h-5zM49 36h6v1h-6zM50 37h5v1h-5zM50 38h6v1h-6zM51 39h5v1h-5zM52 40h4v1h-4zM52 41h5v1h-5zM53 42h4v1h-4zM53 43h4v1h-4zM53 44h5v1h-5zM53 45h6v1h-6zM54 46h4v1h-4zM54 47h5v1h-5zM54 48h6v1h-6zM54 49h5v1h-5zM54 50h5v1h-5zM54 51h5v1h-5zM55 52h5v1h-5zM55 53h4v1h-4zM55 54h5v1h-5zM55 55h4v1h-4zM55 56h4v1h-4zM54 57h6v1h-6zM54 58h6v1h-6zM54 59h5v1h-5zM54 60h6v1h-6zM54 61h5v1h-5zM54 62h5v1h-5zM54 63h4v1h-4zM54 64h4v1h-4zM53 65h6v1h-6zM53 66h5v1h-5zM52 67h6v1h-6zM52 68h5v1h-5zM52 69h5v1h-5zM52 70h5v1h-5zM52 71h4v1h-4zM51 72h5v1h-5zM51 73h5v1h-5zM49 74h6v1h-6zM50 75h5v1h-5zM48 76h6v1h-6zM48 77h5v1h-5zM47 78h6v1h-6zM46 79h5v1h-5zM45 80h6v1h-6zM45 81h4v1h-4zM43 82h6v1h-6zM43 83h5v1h-5zM41 84h6v1h-6zM40 85h7v1h-7zM39 86h6v1h-6zM36 87h8v1h-8zM35 88h7v1h-7zM33 89h8v1h-8zM33 90h6v1h-6zM34 91h3v1h-3z"/><path fill="#f0ba36" d="M20 20h1v1h-1zM22 20h4v1h-4zM28 20h1v1h-1zM20 21h12v1h-12zM19 22h15v1h-15zM18 23h18v1h-18zM29 24h9v1h-9zM32 25h7v1h-7zM33 26h8v1h-8zM35 27h7v1h-7zM37 28h6v1h-6zM39 29h5v1h-5zM39 30h1v1h-1zM41 30h5v1h-5zM41 31h5v1h-5zM41 32h6v1h-6zM42 33h5v1h-5zM43 34h5v1h-5zM44 35h5v1h-5zM45 36h4v1h-4zM45 37h5v1h-5zM47 38h3v1h-3zM46 39h5v1h-5zM47 40h5v1h-5zM48 41h4v1h-4zM48 42h5v1h-5zM49 43h4v1h-4zM49 44h4v1h-4zM49 45h4v1h-4zM50 46h4v1h-4zM50 47h4v1h-4zM50 48h4v1h-4zM50 49h4v1h-4zM50 50h4v1h-4zM50 51h4v1h-4zM51 52h4v1h-4zM51 53h4v1h-4zM51 54h4v1h-4zM51 55h4v1h-4zM51 56h4v1h-4zM51 57h3v1h-3zM50 58h4v1h-4zM51 59h3v1h-3zM50 60h4v1h-4zM51 61h3v1h-3zM51 62h3v1h-3zM50 63h4v1h-4zM50 64h4v1h-4zM50 65h3v1h-3zM49 66h4v1h-4zM49 67h3v1h-3zM48 68h4v1h-4zM48 69h4v1h-4zM47 70h5v1h-5zM47 71h5v1h-5zM46 72h5v1h-5zM47 73h4v1h-4zM45 74h4v1h-4zM44 75h6v1h-6zM44 76h4v1h-4zM43 77h5v1h-5zM42 78h5v1h-5zM41 79h5v1h-5zM40 80h5v1h-5zM39 81h6v1h-6zM38 82h5v1h-5zM36 83h7v1h-7zM34 84h7v1h-7zM32 85h8v1h-8zM29 86h10v1h-10zM28 87h8v1h-8zM30 88h5v1h-5zM31 89h2v1h-2z"/><path fill="#f8ba3d" d="M18 24h11v1h-11zM17 25h15v1h-15zM17 26h16v1h-16zM16 27h3v1h-3zM23 27h3v1h-3zM27 27h8v1h-8zM29 28h8v1h-8zM31 29h8v1h-8zM32 30h7v1h-7zM40 30h1v1h-1zM33 31h8v1h-8zM34 32h1v1h-1zM36 32h5v1h-5zM37 33h5v1h-5zM37 34h6v1h-6zM40 35h4v1h-4zM39 36h6v1h-6zM41 37h4v1h-4zM42 38h5v1h-5zM42 39h4v1h-4zM43 40h4v1h-4zM43 41h5v1h-5zM44 42h4v1h-4zM44 43h5v1h-5zM45 44h4v1h-4zM45 45h4v1h-4zM46 46h4v1h-4zM46 47h4v1h-4zM46 48h4v1h-4zM46 49h4v1h-4zM46 50h4v1h-4zM46 51h4v1h-4zM46 52h5v1h-5zM47 53h4v1h-4zM47 54h4v1h-4zM47 55h4v1h-4zM47 56h4v1h-4zM46 57h5v1h-5zM47 58h3v1h-3zM47 59h4v1h-4zM46 60h4v1h-4zM46 61h5v1h-5zM46 62h5v1h-5zM46 63h4v1h-4zM45 64h5v1h-5zM45 65h5v1h-5zM45 66h4v1h-4zM45 67h4v1h-4zM44 68h4v1h-4zM44 69h4v1h-4zM43 70h4v1h-4zM42 71h5v1h-5zM41 72h5v1h-5zM41 73h6v1h-6zM41 74h4v1h-4zM40 75h4v1h-4zM38 76h6v1h-6zM37 77h6v1h-6zM35 78h7v1h-7zM35 79h6v1h-6zM32 80h8v1h-8zM31 81h8v1h-8zM29 82h9v1h-9zM24 83h1v1h-1zM27 83h9v1h-9zM25 84h9v1h-9zM26 85h6v1h-6zM27 86h2v1h-2z"/><path fill="#febe3c" d="M19 27h4v1h-4zM26 27h1v1h-1zM16 28h13v1h-13zM15 29h16v1h-16zM15 30h4v1h-4zM21 30h11v1h-11zM14 31h2v1h-2zM26 31h7v1h-7zM29 32h5v1h-5zM35 32h1v1h-1zM31 33h6v1h-6zM32 34h5v1h-5zM34 35h6v1h-6zM34 36h5v1h-5zM35 37h6v1h-6zM36 38h6v1h-6zM37 39h5v1h-5zM38 40h5v1h-5zM38 41h5v1h-5zM39 42h5v1h-5zM39 43h5v1h-5zM40 44h5v1h-5zM41 45h4v1h-4zM41 46h5v1h-5zM41 47h5v1h-5zM42 48h4v1h-4zM42 49h4v1h-4zM42 50h4v1h-4zM42 51h4v1h-4zM42 52h4v1h-4zM42 53h5v1h-5zM43 54h4v1h-4zM42 55h5v1h-5zM43 56h4v1h-4zM42 57h4v1h-4zM42 58h5v1h-5zM41 59h6v1h-6zM43 60h3v1h-3zM42 61h4v1h-4zM41 62h5v1h-5zM41 63h5v1h-5zM41 64h4v1h-4zM40 65h5v1h-5zM40 66h5v1h-5zM40 67h5v1h-5zM39 68h5v1h-5zM38 69h6v1h-6zM38 70h5v1h-5zM37 71h5v1h-5zM37 72h4v1h-4zM35 73h6v1h-6zM35 74h6v1h-6zM34 75h6v1h-6zM33 76h5v1h-5zM31 77h6v1h-6zM30 78h5v1h-5zM27 79h8v1h-8zM24 80h1v1h-1zM26 80h6v1h-6zM22 81h9v1h-9zM23 82h6v1h-6zM25 83h2v1h-2z"/><path fill="#fec338" d="M19 30h2v1h-2zM16 31h10v1h-10zM14 32h15v1h-15zM13 33h5v1h-5zM19 33h1v1h-1zM22 33h9v1h-9zM13 34h2v1h-2zM24 34h8v1h-8zM26 35h1v1h-1zM28 35h6v1h-6zM28 36h6v1h-6zM30 37h5v1h-5zM31 38h5v1h-5zM32 39h5v1h-5zM33 40h5v1h-5zM33 41h5v1h-5zM35 42h4v1h-4zM35 43h4v1h-4zM36 44h4v1h-4zM36 45h5v1h-5zM37 46h4v1h-4zM37 47h4v1h-4zM37 48h5v1h-5zM38 49h4v1h-4zM37 50h5v1h-5zM38 51h4v1h-4zM38 52h4v1h-4zM38 53h4v1h-4zM39 54h4v1h-4zM39 55h3v1h-3zM38 56h5v1h-5zM39 57h3v1h-3zM38 58h4v1h-4zM38 59h3v1h-3zM38 60h5v1h-5zM38 61h4v1h-4zM38 62h3v1h-3zM37 63h4v1h-4zM36 64h5v1h-5zM36 65h4v1h-4zM36 66h4v1h-4zM35 67h5v1h-5zM35 68h4v1h-4zM34 69h4v1h-4zM33 70h5v1h-5zM31 71h6v1h-6zM31 72h6v1h-6zM30 73h5v1h-5zM28 74h7v1h-7zM27 75h7v1h-7zM24 76h9v1h-9zM22 77h9v1h-9zM18 78h12v1h-12zM20 79h7v1h-7zM21 80h3v1h-3zM25 80h1v1h-1z"/><path fill="#fec934" d="M18 33h1v1h-1zM20 33h2v1h-2zM15 34h9v1h-9zM12 35h14v1h-14zM27 35h1v1h-1zM12 36h3v1h-3zM20 36h8v1h-8zM23 37h7v1h-7zM11 38h1v1h-1zM25 38h6v1h-6zM27 39h5v1h-5zM28 40h5v1h-5zM30 41h3v1h-3zM30 42h5v1h-5zM31 43h4v1h-4zM31 44h5v1h-5zM32 45h4v1h-4zM33 46h4v1h-4zM33 47h4v1h-4zM33 48h4v1h-4zM34 49h4v1h-4zM34 50h3v1h-3zM34 51h4v1h-4zM34 52h4v1h-4zM35 53h3v1h-3zM34 54h5v1h-5zM34 55h5v1h-5zM35 56h3v1h-3zM34 57h5v1h-5zM34 58h4v1h-4zM34 59h4v1h-4zM34 60h4v1h-4zM34 61h4v1h-4zM33 62h5v1h-5zM33 63h4v1h-4zM33 64h3v1h-3zM32 65h4v1h-4zM31 66h5v1h-5zM31 67h4v1h-4zM30 68h5v1h-5zM29 69h5v1h-5zM28 70h5v1h-5zM27 71h4v1h-4zM26 72h5v1h-5zM24 73h6v1h-6zM22 74h6v1h-6zM15 75h2v1h-2zM18 75h9v1h-9zM16 76h8v1h-8zM17 77h5v1h-5z"/><path fill="#fccf30" d="M15 36h5v1h-5zM12 37h11v1h-11zM12 38h13v1h-13zM11 39h2v1h-2zM20 39h7v1h-7zM22 40h6v1h-6zM24 41h6v1h-6zM25 42h5v1h-5zM26 43h5v1h-5zM27 44h4v1h-4zM27 45h5v1h-5zM28 46h5v1h-5zM29 47h4v1h-4zM29 48h4v1h-4zM30 49h4v1h-4zM30 50h4v1h-4zM30 51h4v1h-4zM30 52h4v1h-4zM30 53h5v1h-5zM31 54h3v1h-3zM31 55h3v1h-3zM31 56h4v1h-4zM31 57h3v1h-3zM31 58h3v1h-3zM31 59h3v1h-3zM30 60h4v1h-4zM30 61h4v1h-4zM30 62h3v1h-3zM29 63h4v1h-4zM29 64h4v1h-4zM28 65h4v1h-4zM27 66h4v1h-4zM26 67h5v1h-5zM25 68h5v1h-5zM24 69h5v1h-5zM24 70h4v1h-4zM11 71h1v1h-1zM21 71h6v1h-6zM12 72h2v1h-2zM19 72h7v1h-7zM13 73h11v1h-11zM14 74h8v1h-8zM17 75h1v1h-1z"/><path fill="#fad62d" d="M13 39h7v1h-7zM11 40h11v1h-11zM10 41h3v1h-3zM15 41h1v1h-1zM18 41h6v1h-6zM10 42h1v1h-1zM20 42h5v1h-5zM21 43h5v1h-5zM9 44h1v1h-1zM23 44h4v1h-4zM24 45h3v1h-3zM25 46h3v1h-3zM25 47h4v1h-4zM26 48h3v1h-3zM26 49h4v1h-4zM27 50h3v1h-3zM27 51h3v1h-3zM27 52h3v1h-3zM27 53h3v1h-3zM28 54h3v1h-3zM27 55h4v1h-4zM27 56h4v1h-4zM27 57h4v1h-4zM27 58h4v1h-4zM26 59h5v1h-5zM27 60h3v1h-3zM27 61h3v1h-3zM26 62h4v1h-4zM25 63h4v1h-4zM25 64h4v1h-4zM24 65h4v1h-4zM23 66h4v1h-4zM22 67h4v1h-4zM21 68h4v1h-4zM10 69h1v1h-1zM19 69h5v1h-5zM11 70h13v1h-13zM12 71h9v1h-9zM14 72h5v1h-5z"/><path fill="#f7dc2a" d="M13 41h2v1h-2zM16 41h2v1h-2zM11 42h9v1h-9zM10 43h11v1h-11zM10 44h1v1h-1zM18 44h5v1h-5zM9 45h1v1h-1zM20 45h4v1h-4zM20 46h5v1h-5zM21 47h4v1h-4zM22 48h4v1h-4zM23 49h3v1h-3zM23 50h4v1h-4zM23 51h4v1h-4zM24 52h3v1h-3zM24 53h3v1h-3zM24 54h4v1h-4zM24 55h3v1h-3zM24 56h3v1h-3zM24 57h3v1h-3zM24 58h3v1h-3zM24 59h2v1h-2zM23 60h4v1h-4zM23 61h4v1h-4zM23 62h3v1h-3zM22 63h3v1h-3zM21 64h4v1h-4zM8 65h1v1h-1zM20 65h4v1h-4zM20 66h3v1h-3zM9 67h1v1h-1zM18 67h4v1h-4zM10 68h3v1h-3zM16 68h5v1h-5zM11 69h8v1h-8z"/><path fill="#f5e327" d="M11 44h7v1h-7zM10 45h10v1h-10zM9 46h2v1h-2zM17 46h3v1h-3zM9 47h1v1h-1zM18 47h3v1h-3zM8 48h1v1h-1zM19 48h3v1h-3zM20 49h3v1h-3zM20 50h3v1h-3zM21 51h2v1h-2zM21 52h3v1h-3zM21 53h3v1h-3zM21 54h3v1h-3zM21 55h3v1h-3zM21 56h3v1h-3zM21 57h3v1h-3zM21 58h3v1h-3zM21 59h3v1h-3zM20 60h3v1h-3zM20 61h3v1h-3zM20 62h3v1h-3zM19 63h3v1h-3zM8 64h1v1h-1zM18 64h3v1h-3zM9 65h1v1h-1zM17 65h3v1h-3zM9 66h2v1h-2zM14 66h6v1h-6zM10 67h8v1h-8zM13 68h3v1h-3z"/><path fill="#f5e924" d="M11 46h6v1h-6zM10 47h8v1h-8zM9 48h2v1h-2zM15 48h4v1h-4zM8 49h2v1h-2zM16 49h4v1h-4zM17 50h3v1h-3zM18 51h3v1h-3zM18 52h3v1h-3zM18 53h3v1h-3zM19 54h2v1h-2zM19 55h2v1h-2zM19 56h2v1h-2zM19 57h2v1h-2zM19 58h2v1h-2zM19 59h2v1h-2zM18 60h2v1h-2zM18 61h2v1h-2zM17 62h3v1h-3zM16 63h3v1h-3zM9 64h2v1h-2zM12 64h6v1h-6zM10 65h7v1h-7zM11 66h3v1h-3z"/><path fill="#f6ef20" d="M11 48h4v1h-4zM10 49h6v1h-6zM14 50h3v1h-3zM15 51h3v1h-3zM15 52h3v1h-3zM15 53h3v1h-3zM16 54h3v1h-3zM16 55h3v1h-3zM16 56h3v1h-3zM16 57h3v1h-3zM16 58h3v1h-3zM15 59h4v1h-4zM15 60h3v1h-3zM15 61h3v1h-3zM14 62h3v1h-3zM13 63h3v1h-3zM11 64h1v1h-1z"/><path fill="#f7f51b" d="M11 50h3v1h-3zM12 51h3v1h-3zM12 52h3v1h-3zM12 53h3v1h-3zM13 54h3v1h-3zM13 55h3v1h-3zM13 56h3v1h-3zM13 57h3v1h-3zM13 58h3v1h-3zM13 59h2v1h-2zM12 60h3v1h-3zM12 61h3v1h-3zM11 62h3v1h-3zM10 63h3v1h-3z"/><path fill="#f9fb15" d="M7 49h1v1h-1zM7 50h4v1h-4zM7 51h5v1h-5zM7 52h5v1h-5zM7 53h5v1h-5zM7 54h6v1h-6zM7 55h6v1h-6zM7 56h6v1h-6zM7 57h6v1h-6zM7 58h6v1h-6zM7 59h6v1h-6zM7 60h5v1h-5zM7 61h5v1h-5zM7 62h4v1h-4zM7 63h3v1h-3zM7 64h1v1h-1z"/></svg>
<rect x="1298.00" y="40.00" width="1.40" height="691.00" fill="#1f1f1f"/><rect x="2099.95" y="40.00" width="1.10" height="691.00" fill="#1f1f1f"/><rect x="1298.00" y="40.00" width="803.05" height="2.20" fill="#1f1f1f"/><rect x="1298.00" y="729.60" width="803.05" height="1.40" fill="#1f1f1f"/>
<line x1="1412.45" y1="730.30" x2="1412.45" y2="722.30" stroke="#262626" stroke-width="1.40"/>
<line x1="1412.45" y1="41.10" x2="1412.45" y2="49.10" stroke="#262626" stroke-width="1.40"/>
<text x="1412.45" y="781.80" font-size="38.20" text-anchor="middle" font-family="'DejaVu Sans', 'Liberation Sans', sans-serif">0.5</text>
<line x1="1529.90" y1="730.30" x2="1529.90" y2="722.30" stroke="#262626" stroke-width="1.40"/>
<line x1="1529.90" y1="41.10" x2="1529.90" y2="49.10" stroke="#262626" stroke-width="1.40"/>
<text x="1529.90" y="781.80" font-size="38.20" text-anchor="middle" font-family="'DejaVu Sans', 'Liberation Sans', sans-serif">1</text>
<line x1="1647.35" y1="730.30" x2="1647.35" y2="722.30" stroke="#262626" stroke-width="1.40"/>
<line x1="1647.35" y1="41.10" x2="1647.35" y2="49.10" stroke="#262626" stroke-width="1.40"/>
<text x="1647.35" y="781.80" font-size="38.20" text-anchor="middle" font-family="'DejaVu Sans', 'Liberation Sans', sans-serif">1.5</text>
<line x1="1764.80" y1="730.30" x2="1764.80" y2="722.30" stroke="#262626" stroke-width="1.40"/>
<line x1="1764.80" y1="41.10" x2="1764.80" y2="49.10" stroke="#262626" stroke-width="1.40"/>
<text x="1764.80" y="781.80" font-size="38.20" text-anchor="middle" font-family="'DejaVu Sans', 'Liberation Sans', sans-serif">2</text>
<line x1="1882.25" y1="730.30" x2="1882.25" y2="722.30" stroke="#262626" stroke-width="1.40"/>
<line x1="1882.25" y1="41.10" x2="1882.25" y2="49.10" stroke="#262626" stroke-width="1.40"/>
<text x="1882.25" y="781.80" font-size="38.20" text-anchor="middle" font-family="'DejaVu Sans', 'Liberation Sans', sans-serif">2.5</text>
<line x1="1999.70" y1="730.30" x2="1999.70" y2="722.30" stroke="#262626" stroke-width="1.40"/>
<line x1="1999.70" y1="41.10" x2="1999.70" y2="49.10" stroke="#262626" stroke-width="1.40"/>
<text x="1999.70" y="781.80" font-size="38.20" text-anchor="middle" font-family="'DejaVu Sans', 'Liberation Sans', sans-serif">3</text>
<line x1="1298.70" y1="186.20" x2="1306.70" y2="186.20" stroke="#262626" stroke-width="1.40"/>
<line x1="2100.50" y1="186.20" x2="2092.50" y2="186.20" stroke="#262626" stroke-width="1.40"/>
<text x="1284.20" y="200.10" font-size="38.20" text-anchor="end" font-family="'DejaVu Sans', 'Liberation Sans', sans-serif">0.5</text>
<line x1="1298.70" y1="335.05" x2="1306.70" y2="335.05" stroke="#262626" stroke-width="1.40"/>
<line x1="2100.50" y1="335.05" x2="2092.50" y2="335.05" stroke="#262626" stroke-width="1.40"/>
<text x="1284.20" y="348.95" font-size="38.20" text-anchor="end" font-family="'DejaVu Sans', 'Liberation Sans', sans-serif">1</text>
<line x1="1298.70" y1="483.90" x2="1306.70" y2="483.90" stroke="#262626" stroke-width="1.40"/>
<line x1="2100.50" y1="483.90" x2="2092.50" y2="483.90" stroke="#262626" stroke-width="1.40"/>
<text x="1284.20" y="497.80" font-size="38.20" text-anchor="end" font-family="'DejaVu Sans', 'Liberation Sans', sans-serif">1.5</text>
<line x1="1298.70" y1="632.75" x2="1306.70" y2="632.75" stroke="#262626" stroke-width="1.40"/>
<line x1="2100.50" y1="632.75" x2="2092.50" y2="632.75" stroke="#262626" stroke-width="1.40"/>
<text x="1284.20" y="646.65" font-size="38.20" text-anchor="end" font-family="'DejaVu Sans', 'Liberation Sans', sans-serif">2</text>
<text x="1699.60" y="833.70" font-size="42.00" text-anchor="middle" font-family="'DejaVu Sans', 'Liberation Sans', sans-serif">z(cm)</text>
<text x="0.00" y="0.00" font-size="42.00" text-anchor="middle" font-family="'DejaVu Sans', 'Liberation Sans', sans-serif" transform="translate(1205.00 385.70) rotate(-90)">y(cm)</text>
<g shape-rendering="crispEdges"><rect x="2123.60" y="716.26" width="43.40" height="11.34" fill="#3e26a8"/><rect x="2123.60" y="705.52" width="43.40" height="11.34" fill="#402ab4"/><rect x="2123.60" y="694.77" width="43.40" height="11.34" fill="#422ec0"/><rect x="2123.60" y="684.03" width="43.40" height="11.34" fill="#4332cb"/><rect x="2123.60" y="673.29" width="43.40" height="11.34" fill="#4537d5"/><rect x="2123.60" y="662.55" width="43.40" height="11.34" fill="#463cde"/><rect x="2123.60" y="651.80" width="43.40" height="11.34" fill="#4741e5"/><rect x="2123.60" y="641.06" width="43.40" height="11.34" fill="#4747eb"/><rect x="2123.60" y="630.32" width="43.40" height="11.34" fill="#484df0"/><rect x="2123.60" y="619.58" width="43.40" height="11.34" fill="#4852f4"/><rect x="2123.60" y="608.84" width="43.40" height="11.34" fill="#4758f8"/><rect x="2123.60" y="598.09" width="43.40" height="11.34" fill="#465efb"/><rect x="2123.60" y="587.35" width="43.40" height="11.34" fill="#4563fd"/><rect x="2123.60" y="576.61" width="43.40" height="11.34" fill="#4269fe"/><rect x="2123.60" y="565.87" width="43.40" height="11.34" fill="#3e6fff"/><rect x="2123.60" y="555.12" width="43.40" height="11.34" fill="#3875fe"/><rect x="2123.60" y="544.38" width="43.40" height="11.34" fill="#327cfc"/><rect x="2123.60" y="533.64" width="43.40" height="11.34" fill="#2f81fa"/><rect x="2123.60" y="522.90" width="43.40" height="11.34" fill="#2e87f7"/><rect x="2123.60" y="512.16" width="43.40" height="11.34" fill="#2d8cf3"/><rect x="2123.60" y="501.41" width="43.40" height="11.34" fill="#2b91ef"/><rect x="2123.60" y="490.67" width="43.40" height="11.34" fill="#2797eb"/><rect x="2123.60" y="479.93" width="43.40" height="11.34" fill="#259be8"/><rect x="2123.60" y="469.19" width="43.40" height="11.34" fill="#23a0e5"/><rect x="2123.60" y="458.45" width="43.40" height="11.34" fill="#20a5e3"/><rect x="2123.60" y="447.70" width="43.40" height="11.34" fill="#1ca9df"/><rect x="2123.60" y="436.96" width="43.40" height="11.34" fill="#18addb"/><rect x="2123.60" y="426.22" width="43.40" height="11.34" fill="#12b1d6"/><rect x="2123.60" y="415.48" width="43.40" height="11.34" fill="#08b5d0"/><rect x="2123.60" y="404.73" width="43.40" height="11.34" fill="#01b8ca"/><rect x="2123.60" y="393.99" width="43.40" height="11.34" fill="#02bac3"/><rect x="2123.60" y="383.25" width="43.40" height="11.34" fill="#0bbdbd"/><rect x="2123.60" y="372.51" width="43.40" height="11.34" fill="#19bfb6"/><rect x="2123.60" y="361.77" width="43.40" height="11.34" fill="#24c1ae"/><rect x="2123.60" y="351.02" width="43.40" height="11.34" fill="#2cc4a7"/><rect x="2123.60" y="340.28" width="43.40" height="11.34" fill="#31c69f"/><rect x="2123.60" y="329.54" width="43.40" height="11.34" fill="#37c897"/><rect x="2123.60" y="318.80" width="43.40" height="11.34" fill="#3fca8e"/><rect x="2123.60" y="308.05" width="43.40" height="11.34" fill="#4acb84"/><rect x="2123.60" y="297.31" width="43.40" height="11.34" fill="#57cc7a"/><rect x="2123.60" y="286.57" width="43.40" height="11.34" fill="#64cd6f"/><rect x="2123.60" y="275.83" width="43.40" height="11.34" fill="#72cd64"/><rect x="2123.60" y="265.09" width="43.40" height="11.34" fill="#81cc59"/><rect x="2123.60" y="254.34" width="43.40" height="11.34" fill="#8fcb4e"/><rect x="2123.60" y="243.60" width="43.40" height="11.34" fill="#9dc943"/><rect x="2123.60" y="232.86" width="43.40" height="11.34" fill="#abc739"/><rect x="2123.60" y="222.12" width="43.40" height="11.34" fill="#b9c431"/><rect x="2123.60" y="211.38" width="43.40" height="11.34" fill="#c5c22a"/><rect x="2123.60" y="200.63" width="43.40" height="11.34" fill="#d1bf27"/><rect x="2123.60" y="189.89" width="43.40" height="11.34" fill="#dcbd29"/><rect x="2123.60" y="179.15" width="43.40" height="11.34" fill="#e6bb2d"/><rect x="2123.60" y="168.41" width="43.40" height="11.34" fill="#f0ba36"/><rect x="2123.60" y="157.66" width="43.40" height="11.34" fill="#f8ba3d"/><rect x="2123.60" y="146.92" width="43.40" height="11.34" fill="#febe3c"/><rect x="2123.60" y="136.18" width="43.40" height="11.34" fill="#fec338"/><rect x="2123.60" y="125.44" width="43.40" height="11.34" fill="#fec934"/><rect x="2123.60" y="114.70" width="43.40" height="11.34" fill="#fccf30"/><rect x="2123.60" y="103.95" width="43.40" height="11.34" fill="#fad62d"/><rect x="2123.60" y="93.21" width="43.40" height="11.34" fill="#f7dc2a"/><rect x="2123.60" y="82.47" width="43.40" height="11.34" fill="#f5e327"/><rect x="2123.60" y="71.73" width="43.40" height="11.34" fill="#f5e924"/><rect x="2123.60" y="60.98" width="43.40" height="11.34" fill="#f6ef20"/><rect x="2123.60" y="50.24" width="43.40" height="11.34" fill="#f7f51b"/><rect x="2123.60" y="39.50" width="43.40" height="11.34" fill="#f9fb15"/></g>
<rect x="2123.05" y="38.90" width="1.10" height="688.95" fill="#1f1f1f"/><rect x="2166.20" y="38.90" width="1.60" height="688.95" fill="#1f1f1f"/><rect x="2123.05" y="38.90" width="44.75" height="1.20" fill="#1f1f1f"/><rect x="2123.05" y="726.15" width="44.75" height="1.70" fill="#1f1f1f"/>
<rect x="2101.00" y="558" width="1.3" height="7" fill="#1f1f1f"/>
<rect x="2167.40" y="558" width="1.2" height="7" fill="#1f1f1f"/>
<line x1="2167.00" y1="162.20" x2="2160.20" y2="162.20" stroke="#262626" stroke-width="1.20"/>
<text x="2180.00" y="174.70" font-size="34.40" text-anchor="start" font-family="'DejaVu Sans', 'Liberation Sans', sans-serif">-2</text>
<line x1="2167.00" y1="284.85" x2="2160.20" y2="284.85" stroke="#262626" stroke-width="1.20"/>
<text x="2180.00" y="297.35" font-size="34.40" text-anchor="start" font-family="'DejaVu Sans', 'Liberation Sans', sans-serif">-4</text>
<line x1="2167.00" y1="407.50" x2="2160.20" y2="407.50" stroke="#262626" stroke-width="1.20"/>
<text x="2180.00" y="420.00" font-size="34.40" text-anchor="start" font-family="'DejaVu Sans', 'Liberation Sans', sans-serif">-6</text>
<line x1="2167.00" y1="530.15" x2="2160.20" y2="530.15" stroke="#262626" stroke-width="1.20"/>
<text x="2180.00" y="542.65" font-size="34.40" text-anchor="start" font-family="'DejaVu Sans', 'Liberation Sans', sans-serif">-8</text>
<line x1="2167.00" y1="652.80" x2="2160.20" y2="652.80" stroke="#262626" stroke-width="1.20"/>
<text x="2180.00" y="665.30" font-size="34.40" text-anchor="start" font-family="'DejaVu Sans', 'Liberation Sans', sans-serif">-10</text>
<text transform="translate(2277.1 383.7) rotate(-90)" font-size="34.6" text-anchor="middle" font-family="'DejaVu Sans', 'Liberation Sans', sans-serif">log10(H<tspan font-size="27.6" dy="17.6">meas</tspan><tspan dy="-17.6" font-size="34.6">)</tspan></text>
<rect x="147.30" y="885.00" width="804.10" height="683.70" fill="none" stroke="#4d4d4d" stroke-width="1.15"/>
<text x="0.00" y="0.00" font-size="38.20" text-anchor="middle" font-family="'Liberation Sans', 'DejaVu Sans', sans-serif" transform="translate(147.30 1621.80) scale(0.920 1)">0</text>
<line x1="265.55" y1="1568.70" x2="265.55" y2="1560.50" stroke="#4d4d4d" stroke-width="1.15"/>
<line x1="265.55" y1="885.00" x2="265.55" y2="893.20" stroke="#4d4d4d" stroke-width="1.15"/>
<text x="0.00" y="0.00" font-size="38.20" text-anchor="middle" font-family="'Liberation Sans', 'DejaVu Sans', sans-serif" transform="translate(265.55 1621.80) scale(0.920 1)">0.5</text>
<line x1="383.80" y1="1568.70" x2="383.80" y2="1560.50" stroke="#4d4d4d" stroke-width="1.15"/>
<line x1="383.80" y1="885.00" x2="383.80" y2="893.20" stroke="#4d4d4d" stroke-width="1.15"/>
<text x="0.00" y="0.00" font-size="38.20" text-anchor="middle" font-family="'Liberation Sans', 'DejaVu Sans', sans-serif" transform="translate(383.80 1621.80) scale(0.920 1)">1</text>
<line x1="502.05" y1="1568.70" x2="502.05" y2="1560.50" stroke="#4d4d4d" stroke-width="1.15"/>
<line x1="502.05" y1="885.00" x2="502.05" y2="893.20" stroke="#4d4d4d" stroke-width="1.15"/>
<text x="0.00" y="0.00" font-size="38.20" text-anchor="middle" font-family="'Liberation Sans', 'DejaVu Sans', sans-serif" transform="translate(502.05 1621.80) scale(0.920 1)">1.5</text>
<line x1="620.30" y1="1568.70" x2="620.30" y2="1560.50" stroke="#4d4d4d" stroke-width="1.15"/>
<line x1="620.30" y1="885.00" x2="620.30" y2="893.20" stroke="#4d4d4d" stroke-width="1.15"/>
<text x="0.00" y="0.00" font-size="38.20" text-anchor="middle" font-family="'Liberation Sans', 'DejaVu Sans', sans-serif" transform="translate(620.30 1621.80) scale(0.920 1)">2</text>
<line x1="738.55" y1="1568.70" x2="738.55" y2="1560.50" stroke="#4d4d4d" stroke-width="1.15"/>
<line x1="738.55" y1="885.00" x2="738.55" y2="893.20" stroke="#4d4d4d" stroke-width="1.15"/>
<text x="0.00" y="0.00" font-size="38.20" text-anchor="middle" font-family="'Liberation Sans', 'DejaVu Sans', sans-serif" transform="translate(738.55 1621.80) scale(0.920 1)">2.5</text>
<line x1="856.80" y1="1568.70" x2="856.80" y2="1560.50" stroke="#4d4d4d" stroke-width="1.15"/>
<line x1="856.80" y1="885.00" x2="856.80" y2="893.20" stroke="#4d4d4d" stroke-width="1.15"/>
<text x="0.00" y="0.00" font-size="38.20" text-anchor="middle" font-family="'Liberation Sans', 'DejaVu Sans', sans-serif" transform="translate(856.80 1621.80) scale(0.920 1)">3</text>
<text x="0.00" y="0.00" font-size="38.20" text-anchor="end" font-family="'Liberation Sans', 'DejaVu Sans', sans-serif" transform="translate(134.30 1582.50) scale(0.920 1)">0</text>
<line x1="147.30" y1="1431.98" x2="155.50" y2="1431.98" stroke="#4d4d4d" stroke-width="1.15"/>
<line x1="951.40" y1="1431.98" x2="943.20" y2="1431.98" stroke="#4d4d4d" stroke-width="1.15"/>
<text x="0.00" y="0.00" font-size="38.20" text-anchor="end" font-family="'Liberation Sans', 'DejaVu Sans', sans-serif" transform="translate(134.30 1445.78) scale(0.920 1)">0.2</text>
<line x1="147.30" y1="1295.26" x2="155.50" y2="1295.26" stroke="#4d4d4d" stroke-width="1.15"/>
<line x1="951.40" y1="1295.26" x2="943.20" y2="1295.26" stroke="#4d4d4d" stroke-width="1.15"/>
<text x="0.00" y="0.00" font-size="38.20" text-anchor="end" font-family="'Liberation Sans', 'DejaVu Sans', sans-serif" transform="translate(134.30 1309.06) scale(0.920 1)">0.4</text>
<line x1="147.30" y1="1158.54" x2="155.50" y2="1158.54" stroke="#4d4d4d" stroke-width="1.15"/>
<line x1="951.40" y1="1158.54" x2="943.20" y2="1158.54" stroke="#4d4d4d" stroke-width="1.15"/>
<text x="0.00" y="0.00" font-size="38.20" text-anchor="end" font-family="'Liberation Sans', 'DejaVu Sans', sans-serif" transform="translate(134.30 1172.34) scale(0.920 1)">0.6</text>
<line x1="147.30" y1="1021.82" x2="155.50" y2="1021.82" stroke="#4d4d4d" stroke-width="1.15"/>
<line x1="951.40" y1="1021.82" x2="943.20" y2="1021.82" stroke="#4d4d4d" stroke-width="1.15"/>
<text x="0.00" y="0.00" font-size="38.20" text-anchor="end" font-family="'Liberation Sans', 'DejaVu Sans', sans-serif" transform="translate(134.30 1035.62) scale(0.920 1)">0.8</text>
<text x="0.00" y="0.00" font-size="38.20" text-anchor="end" font-family="'Liberation Sans', 'DejaVu Sans', sans-serif" transform="translate(134.30 898.90) scale(0.920 1)">1</text>
<text x="0.00" y="0.00" font-size="42.00" text-anchor="middle" font-family="'Liberation Sans', 'DejaVu Sans', sans-serif" transform="translate(549.35 1676.50) scale(0.920 1)">z(cm)</text>
<text transform="translate(52.00 1226.85) scale(0.920 1) rotate(-90)" font-size="42" text-anchor="middle" font-family="'Liberation Sans', 'DejaVu Sans', sans-serif">H<tspan font-size="33.6" dy="22">meas</tspan></text>
<path d="M152.0 1567.3 L156.8 1567.3 L161.5 1567.2 L166.2 1567.2 L171.0 1567.1 L175.7 1567.1 L180.4 1566.9 L185.1 953.1 L189.9 904.0 L194.6 906.2 L199.3 944.4 L204.1 1005.2 L208.8 1068.3 L213.5 1133.7 L218.2 1192.7 L223.0 1233.1 L227.7 1276.2 L232.4 1319.4 L237.2 1356.3 L241.9 1387.1 L246.6 1414.9 L251.4 1437.8 L256.1 1455.7 L260.8 1470.1 L265.6 1482.1 L270.3 1491.1 L275.0 1499.3 L279.7 1507.8 L284.5 1515.3 L289.2 1521.9 L293.9 1527.3 L298.7 1531.9 L303.4 1536.0 L308.1 1538.9 L312.9 1541.6 L317.6 1544.0 L322.3 1546.3 L327.0 1548.7 L331.8 1550.9 L336.5 1552.8 L341.2 1554.6 L346.0 1555.7 L350.7 1556.7 L355.4 1557.7 L360.1 1558.5 L364.9 1559.5 L369.6 1560.4 L374.3 1561.2 L379.1 1561.9 L383.8 1562.5 L388.5 1563.1 L393.3 1563.6 L398.0 1564.1 L402.7 1564.6 L407.5 1565.0 L412.2 1565.4 L416.9 1565.7 L421.6 1565.9 L426.4 1566.1 L431.1 1566.3 L435.8 1566.4 L440.6 1566.6 L445.3 1566.7 L450.0 1566.8 L454.8 1567.0 L459.5 1567.1 L464.2 1567.2 L468.9 1567.4 L473.7 1567.5 L478.4 1567.6 L483.1 1567.6 L487.9 1567.6 L492.6 1567.7 L497.3 1567.7 L502.1 1567.8 L506.8 1567.9 L511.5 1567.9 L516.2 1568.0 L521.0 1568.0 L525.7 1568.1 L530.4 1568.1 L535.2 1568.1 L539.9 1568.2 L544.6 1568.2 L549.4 1568.2 L554.1 1568.3 L558.8 1568.3 L563.5 1568.3 L568.3 1568.3 L573.0 1568.3 L577.7 1568.4 L582.5 1568.4 L587.2 1568.4 L591.9 1568.4 L596.7 1568.4 L601.4 1568.5 L606.1 1568.5 L610.8 1568.5 L615.6 1568.5 L620.3 1568.5 L625.0 1568.5 L629.8 1568.5 L634.5 1568.5 L639.2 1568.6 L644.0 1568.6 L648.7 1568.6 L653.4 1568.6 L658.1 1568.6 L662.9 1568.6 L667.6 1568.6 L672.3 1568.6 L677.1 1568.6 L681.8 1568.6 L686.5 1568.6 L691.2 1568.6 L696.0 1568.6 L700.7 1568.6 L705.4 1568.6 L710.2 1568.6 L714.9 1568.6 L719.6 1568.6 L724.4 1568.6 L729.1 1568.6 L733.8 1568.6 L738.5 1568.6 L743.3 1568.6 L748.0 1568.6 L752.7 1568.6 L757.5 1568.7 L762.2 1568.7 L766.9 1568.7 L771.7 1568.7 L776.4 1568.7 L781.1 1568.7 L785.9 1568.7 L790.6 1568.7 L795.3 1568.7 L800.0 1568.7 L804.8 1568.7 L809.5 1568.7 L814.2 1568.7 L819.0 1568.7 L823.7 1568.7 L828.4 1568.7 L833.2 1568.7 L837.9 1568.7 L842.6 1568.7 L847.3 1568.7 L852.1 1568.7 L856.8 1568.7 L861.5 1568.7 L866.3 1568.7 L871.0 1568.7 L875.7 1568.7 L880.5 1568.7 L885.2 1568.7 L889.9 1568.7 L894.6 1568.7 L899.4 1568.7 L904.1 1568.7 L908.8 1568.7 L913.6 1568.7 L918.3 1568.7 L923.0 1568.7 L927.8 1568.7 L932.5 1568.7 L937.2 1568.7 L941.9 1568.7 L946.7 1568.7 L951.4 1568.7" fill="none" stroke="#0072bd" stroke-width="1.35" stroke-linejoin="round"/>
<rect x="1303.50" y="884.30" width="798.30" height="684.70" fill="none" stroke="#2b2b2b" stroke-width="1.50"/>
<text x="0.00" y="0.00" font-size="38.20" text-anchor="middle" font-family="'Liberation Sans', 'DejaVu Sans', sans-serif" transform="translate(1303.50 1622.10) scale(0.920 1)">0</text>
<line x1="1420.90" y1="1569.00" x2="1420.90" y2="1560.80" stroke="#2b2b2b" stroke-width="1.50"/>
<line x1="1420.90" y1="884.30" x2="1420.90" y2="892.50" stroke="#2b2b2b" stroke-width="1.50"/>
<text x="0.00" y="0.00" font-size="38.20" text-anchor="middle" font-family="'Liberation Sans', 'DejaVu Sans', sans-serif" transform="translate(1420.90 1622.10) scale(0.920 1)">0.5</text>
<line x1="1538.30" y1="1569.00" x2="1538.30" y2="1560.80" stroke="#2b2b2b" stroke-width="1.50"/>
<line x1="1538.30" y1="884.30" x2="1538.30" y2="892.50" stroke="#2b2b2b" stroke-width="1.50"/>
<text x="0.00" y="0.00" font-size="38.20" text-anchor="middle" font-family="'Liberation Sans', 'DejaVu Sans', sans-serif" transform="translate(1538.30 1622.10) scale(0.920 1)">1</text>
<line x1="1655.70" y1="1569.00" x2="1655.70" y2="1560.80" stroke="#2b2b2b" stroke-width="1.50"/>
<line x1="1655.70" y1="884.30" x2="1655.70" y2="892.50" stroke="#2b2b2b" stroke-width="1.50"/>
<text x="0.00" y="0.00" font-size="38.20" text-anchor="middle" font-family="'Liberation Sans', 'DejaVu Sans', sans-serif" transform="translate(1655.70 1622.10) scale(0.920 1)">1.5</text>
<line x1="1773.10" y1="1569.00" x2="1773.10" y2="1560.80" stroke="#2b2b2b" stroke-width="1.50"/>
<line x1="1773.10" y1="884.30" x2="1773.10" y2="892.50" stroke="#2b2b2b" stroke-width="1.50"/>
<text x="0.00" y="0.00" font-size="38.20" text-anchor="middle" font-family="'Liberation Sans', 'DejaVu Sans', sans-serif" transform="translate(1773.10 1622.10) scale(0.920 1)">2</text>
<line x1="1890.50" y1="1569.00" x2="1890.50" y2="1560.80" stroke="#2b2b2b" stroke-width="1.50"/>
<line x1="1890.50" y1="884.30" x2="1890.50" y2="892.50" stroke="#2b2b2b" stroke-width="1.50"/>
<text x="0.00" y="0.00" font-size="38.20" text-anchor="middle" font-family="'Liberation Sans', 'DejaVu Sans', sans-serif" transform="translate(1890.50 1622.10) scale(0.920 1)">2.5</text>
<line x1="2007.90" y1="1569.00" x2="2007.90" y2="1560.80" stroke="#2b2b2b" stroke-width="1.50"/>
<line x1="2007.90" y1="884.30" x2="2007.90" y2="892.50" stroke="#2b2b2b" stroke-width="1.50"/>
<text x="0.00" y="0.00" font-size="38.20" text-anchor="middle" font-family="'Liberation Sans', 'DejaVu Sans', sans-serif" transform="translate(2007.90 1622.10) scale(0.920 1)">3</text>
<text x="0.00" y="0.00" font-size="38.20" text-anchor="end" font-family="'Liberation Sans', 'DejaVu Sans', sans-serif" transform="translate(1290.50 898.10) scale(0.920 1)">0</text>
<line x1="1303.50" y1="982.10" x2="1311.70" y2="982.10" stroke="#2b2b2b" stroke-width="1.50"/>
<line x1="2101.80" y1="982.10" x2="2093.60" y2="982.10" stroke="#2b2b2b" stroke-width="1.50"/>
<text x="0.00" y="0.00" font-size="38.20" text-anchor="end" font-family="'Liberation Sans', 'DejaVu Sans', sans-serif" transform="translate(1290.50 995.90) scale(0.920 1)">-1</text>
<line x1="1303.50" y1="1079.90" x2="1311.70" y2="1079.90" stroke="#2b2b2b" stroke-width="1.50"/>
<line x1="2101.80" y1="1079.90" x2="2093.60" y2="1079.90" stroke="#2b2b2b" stroke-width="1.50"/>
<text x="0.00" y="0.00" font-size="38.20" text-anchor="end" font-family="'Liberation Sans', 'DejaVu Sans', sans-serif" transform="translate(1290.50 1093.70) scale(0.920 1)">-2</text>
<line x1="1303.50" y1="1177.70" x2="1311.70" y2="1177.70" stroke="#2b2b2b" stroke-width="1.50"/>
<line x1="2101.80" y1="1177.70" x2="2093.60" y2="1177.70" stroke="#2b2b2b" stroke-width="1.50"/>
<text x="0.00" y="0.00" font-size="38.20" text-anchor="end" font-family="'Liberation Sans', 'DejaVu Sans', sans-serif" transform="translate(1290.50 1191.50) scale(0.920 1)">-3</text>
<line x1="1303.50" y1="1275.50" x2="1311.70" y2="1275.50" stroke="#2b2b2b" stroke-width="1.50"/>
<line x1="2101.80" y1="1275.50" x2="2093.60" y2="1275.50" stroke="#2b2b2b" stroke-width="1.50"/>
<text x="0.00" y="0.00" font-size="38.20" text-anchor="end" font-family="'Liberation Sans', 'DejaVu Sans', sans-serif" transform="translate(1290.50 1289.30) scale(0.920 1)">-4</text>
<line x1="1303.50" y1="1373.30" x2="1311.70" y2="1373.30" stroke="#2b2b2b" stroke-width="1.50"/>
<line x1="2101.80" y1="1373.30" x2="2093.60" y2="1373.30" stroke="#2b2b2b" stroke-width="1.50"/>
<text x="0.00" y="0.00" font-size="38.20" text-anchor="end" font-family="'Liberation Sans', 'DejaVu Sans', sans-serif" transform="translate(1290.50 1387.10) scale(0.920 1)">-5</text>
<line x1="1303.50" y1="1471.10" x2="1311.70" y2="1471.10" stroke="#2b2b2b" stroke-width="1.50"/>
<line x1="2101.80" y1="1471.10" x2="2093.60" y2="1471.10" stroke="#2b2b2b" stroke-width="1.50"/>
<text x="0.00" y="0.00" font-size="38.20" text-anchor="end" font-family="'Liberation Sans', 'DejaVu Sans', sans-serif" transform="translate(1290.50 1484.90) scale(0.920 1)">-6</text>
<text x="0.00" y="0.00" font-size="38.20" text-anchor="end" font-family="'Liberation Sans', 'DejaVu Sans', sans-serif" transform="translate(1290.50 1582.70) scale(0.920 1)">-7</text>
<text x="0.00" y="0.00" font-size="42.00" text-anchor="middle" font-family="'Liberation Sans', 'DejaVu Sans', sans-serif" transform="translate(1702.65 1676.80) scale(0.920 1)">z(cm)</text>
<text transform="translate(1228.00 1226.65) scale(0.920 1) rotate(-90)" font-size="42" text-anchor="middle" font-family="'Liberation Sans', 'DejaVu Sans', sans-serif">H<tspan font-size="33.6" dy="22">meas</tspan></text>
<path d="M1308.2 1146.8 L1312.9 1146.4 L1317.6 1145.4 L1322.3 1144.2 L1327.0 1142.6 L1331.7 1140.5 L1336.4 1137.4 L1341.2 888.8 L1345.4 885.1 L1351.8 885.1 L1357.1 889.3 L1362.5 891.9 L1367.8 897.3 L1371.0 904.7 L1373.1 907.9 L1387.0 926.0 L1399.7 944.1 L1410.4 958.0 L1421.0 970.8 L1430.6 981.4 L1442.3 994.2 L1445.5 998.4 L1449.1 1002.3 L1453.8 1008.3 L1458.5 1014.6 L1463.2 1017.9 L1467.9 1021.2 L1472.6 1025.8 L1477.3 1029.3 L1481.9 1033.7 L1486.6 1039.5 L1491.3 1044.7 L1496.0 1049.3 L1500.7 1052.9 L1505.4 1054.9 L1510.1 1059.1 L1514.8 1063.0 L1519.5 1066.0 L1524.2 1071.0 L1528.9 1076.2 L1533.6 1080.0 L1538.3 1083.6 L1543.0 1088.0 L1547.7 1092.5 L1552.4 1097.3 L1557.1 1102.0 L1561.8 1106.2 L1566.5 1111.1 L1571.2 1115.0 L1575.9 1117.2 L1580.6 1120.8 L1585.3 1124.4 L1590.0 1127.0 L1594.7 1129.2 L1599.3 1132.4 L1604.0 1134.2 L1608.7 1137.6 L1613.4 1142.2 L1618.1 1144.8 L1622.8 1148.7 L1627.5 1152.5 L1632.2 1155.7 L1636.9 1156.7 L1641.6 1158.1 L1646.3 1161.1 L1650.0 1161.8 L1654.5 1164.1 L1665.1 1172.8 L1672.7 1173.9 L1678.8 1178.1 L1684.5 1184.8 L1690.9 1186.0 L1702.2 1195.1 L1706.8 1195.4 L1711.3 1200.8 L1716.6 1201.4 L1721.1 1206.1 L1731.7 1207.9 L1736.3 1211.0 L1743.8 1218.2 L1750.7 1220.5 L1759.0 1226.9 L1763.2 1227.6 L1768.4 1224.3 L1772.6 1228.1 L1781.7 1237.5 L1785.5 1237.2 L1790.8 1241.2 L1796.1 1242.8 L1801.4 1248.8 L1805.1 1247.3 L1810.4 1253.8 L1814.2 1248.8 L1824.1 1256.4 L1830.1 1259.4 L1833.9 1267.4 L1838.4 1264.3 L1843.7 1268.2 L1849.5 1264.4 L1852.8 1278.6 L1856.6 1273.5 L1862.7 1279.4 L1867.2 1275.8 L1871.0 1275.8 L1874.8 1285.9 L1879.3 1284.4 L1884.6 1287.9 L1889.1 1287.9 L1893.7 1297.2 L1899.7 1284.7 L1904.3 1283.6 L1908.1 1292.3 L1913.4 1294.7 L1918.7 1296.0 L1922.4 1301.0 L1926.2 1308.6 L1929.2 1309.8 L1936.1 1307.1 L1941.4 1301.8 L1944.4 1302.2 L1947.5 1306.6 L1951.7 1315.9 L1955.6 1317.6 L1959.3 1331.2 L1962.7 1327.3 L1965.8 1326.9 L1970.0 1337.1 L1974.6 1324.4 L1978.3 1326.4 L1983.9 1318.8 L1989.0 1322.4 L1991.2 1341.4 L1993.2 1355.3 L1996.6 1338.3 L2002.5 1327.8 L2008.5 1324.7 L2011.5 1324.7 L2015.3 1333.2 L2020.7 1333.2 L2026.3 1345.3 L2029.7 1347.3 L2033.9 1365.4 L2039.0 1356.6 L2044.1 1351.0 L2048.3 1376.9 L2052.5 1371.4 L2058.0 1389.3 L2061.9 1376.9 L2063.6 1375.6 L2066.1 1386.3 L2072.9 1430.3 L2077.6 1389.2 L2082.7 1387.1 L2087.3 1415.1 L2089.5 1436.3 L2090.7 1471.9 L2092.7 1497.3 L2096.3 1471.5 L2098.0 1471.2" fill="none" stroke="#0072bd" stroke-width="1.35" stroke-linejoin="round"/>
</svg></body></html>
